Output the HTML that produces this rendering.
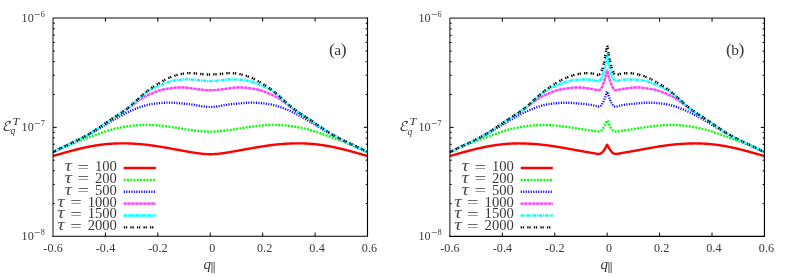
<!DOCTYPE html>
<html><head><meta charset="utf-8"><title>plot</title>
<style>
html,body{margin:0;padding:0;background:#fff}
svg{display:block}
.t{font-family:"Liberation Serif","DejaVu Serif",serif;fill:#383838}
.i{font-family:"Liberation Serif","DejaVu Serif",serif;font-style:italic;fill:#383838}
.j{fill:#505050}
.m{font-family:"DejaVu Math TeX Gyre","DejaVu Serif","Liberation Serif",serif;fill:#383838}
</style></head><body>
<svg width="789" height="277" viewBox="0 0 789 277">
<rect width="789" height="277" fill="#fff"/>
<clipPath id="cp0"><rect x="53.00" y="18.00" width="314.50" height="218.25"/></clipPath>
<g fill="none" stroke-width="2.4" clip-path="url(#cp0)">
<path d="M53.00 156.00 L53.52 155.85 L54.05 155.70 L54.57 155.55 L55.10 155.39 L55.62 155.24 L56.15 155.09 L56.67 154.94 L57.19 154.79 L57.72 154.64 L58.24 154.49 L58.77 154.34 L59.29 154.19 L59.81 154.04 L60.34 153.89 L60.86 153.74 L61.39 153.59 L61.91 153.44 L62.44 153.29 L62.96 153.14 L63.48 153.00 L64.01 152.85 L64.53 152.70 L65.06 152.56 L65.58 152.41 L66.10 152.26 L66.63 152.12 L67.15 151.97 L67.68 151.83 L68.20 151.69 L68.72 151.54 L69.25 151.40 L69.77 151.26 L70.30 151.12 L70.82 150.98 L71.35 150.84 L71.87 150.70 L72.39 150.56 L72.92 150.43 L73.44 150.29 L73.97 150.15 L74.49 150.02 L75.01 149.89 L75.54 149.75 L76.06 149.62 L76.59 149.49 L77.11 149.36 L77.64 149.23 L78.16 149.10 L78.68 148.97 L79.21 148.85 L79.73 148.72 L80.26 148.60 L80.78 148.47 L81.31 148.35 L81.83 148.23 L82.35 148.11 L82.88 147.99 L83.40 147.87 L83.93 147.76 L84.45 147.64 L84.97 147.53 L85.50 147.41 L86.02 147.30 L86.55 147.19 L87.07 147.08 L87.59 146.98 L88.12 146.87 L88.64 146.76 L89.17 146.66 L89.69 146.56 L90.22 146.46 L90.74 146.36 L91.26 146.26 L91.79 146.17 L92.31 146.07 L92.84 145.98 L93.36 145.89 L93.89 145.80 L94.41 145.71 L94.93 145.62 L95.46 145.53 L95.98 145.45 L96.51 145.37 L97.03 145.29 L97.55 145.21 L98.08 145.13 L98.60 145.05 L99.13 144.98 L99.65 144.91 L100.17 144.83 L100.70 144.76 L101.22 144.70 L101.75 144.63 L102.27 144.56 L102.80 144.50 L103.32 144.44 L103.84 144.38 L104.37 144.32 L104.89 144.26 L105.42 144.21 L105.94 144.16 L106.47 144.10 L106.99 144.05 L107.51 144.01 L108.04 143.96 L108.56 143.91 L109.09 143.87 L109.61 143.83 L110.13 143.79 L110.66 143.75 L111.18 143.72 L111.71 143.68 L112.23 143.65 L112.75 143.62 L113.28 143.59 L113.80 143.56 L114.33 143.54 L114.85 143.51 L115.38 143.49 L115.90 143.47 L116.42 143.45 L116.95 143.43 L117.47 143.42 L118.00 143.40 L118.52 143.39 L119.05 143.38 L119.57 143.37 L120.09 143.36 L120.62 143.36 L121.14 143.35 L121.67 143.35 L122.19 143.35 L122.71 143.35 L123.24 143.35 L123.76 143.36 L124.29 143.36 L124.81 143.37 L125.34 143.38 L125.86 143.39 L126.38 143.40 L126.91 143.41 L127.43 143.42 L127.96 143.44 L128.48 143.45 L129.00 143.47 L129.53 143.49 L130.05 143.51 L130.58 143.53 L131.10 143.56 L131.62 143.58 L132.15 143.61 L132.67 143.63 L133.20 143.66 L133.72 143.69 L134.25 143.72 L134.77 143.75 L135.29 143.79 L135.82 143.82 L136.34 143.86 L136.87 143.89 L137.39 143.93 L137.92 143.97 L138.44 144.01 L138.96 144.05 L139.49 144.09 L140.01 144.14 L140.54 144.18 L141.06 144.23 L141.58 144.28 L142.11 144.32 L142.63 144.37 L143.16 144.42 L143.68 144.48 L144.21 144.53 L144.73 144.58 L145.25 144.64 L145.78 144.70 L146.30 144.76 L146.83 144.81 L147.35 144.88 L147.87 144.94 L148.40 145.00 L148.92 145.06 L149.45 145.13 L149.97 145.20 L150.50 145.26 L151.02 145.33 L151.54 145.40 L152.07 145.47 L152.59 145.55 L153.12 145.62 L153.64 145.69 L154.16 145.77 L154.69 145.85 L155.21 145.92 L155.74 146.00 L156.26 146.08 L156.79 146.16 L157.31 146.24 L157.83 146.32 L158.36 146.41 L158.88 146.49 L159.41 146.57 L159.93 146.66 L160.45 146.74 L160.98 146.83 L161.50 146.92 L162.03 147.01 L162.55 147.09 L163.07 147.18 L163.60 147.27 L164.12 147.36 L164.65 147.45 L165.17 147.54 L165.70 147.64 L166.22 147.73 L166.74 147.82 L167.27 147.91 L167.79 148.00 L168.32 148.10 L168.84 148.19 L169.37 148.29 L169.89 148.38 L170.41 148.47 L170.94 148.57 L171.46 148.66 L171.99 148.76 L172.51 148.85 L173.03 148.95 L173.56 149.05 L174.08 149.14 L174.61 149.24 L175.13 149.33 L175.66 149.43 L176.18 149.52 L176.70 149.62 L177.23 149.72 L177.75 149.81 L178.28 149.91 L178.80 150.00 L179.32 150.10 L179.85 150.19 L180.37 150.29 L180.90 150.38 L181.42 150.48 L181.95 150.57 L182.47 150.67 L182.99 150.76 L183.52 150.86 L184.04 150.95 L184.57 151.05 L185.09 151.14 L185.61 151.23 L186.14 151.33 L186.66 151.42 L187.19 151.51 L187.71 151.60 L188.24 151.69 L188.76 151.79 L189.28 151.88 L189.81 151.97 L190.33 152.06 L190.86 152.15 L191.38 152.23 L191.90 152.32 L192.43 152.41 L192.95 152.50 L193.48 152.58 L194.00 152.67 L194.53 152.75 L195.05 152.83 L195.57 152.91 L196.10 152.99 L196.62 153.07 L197.15 153.14 L197.67 153.22 L198.19 153.29 L198.72 153.36 L199.24 153.42 L199.77 153.49 L200.29 153.55 L200.82 153.61 L201.34 153.67 L201.86 153.73 L202.39 153.78 L202.91 153.83 L203.44 153.88 L203.96 153.93 L204.48 153.97 L205.01 154.01 L205.53 154.04 L206.06 154.07 L206.58 154.10 L207.10 154.13 L207.63 154.15 L208.15 154.17 L208.68 154.18 L209.20 154.19 L209.73 154.20 L210.25 154.20 L210.77 154.20 L211.30 154.19 L211.82 154.18 L212.35 154.17 L212.87 154.15 L213.40 154.13 L213.92 154.10 L214.44 154.07 L214.97 154.04 L215.49 154.01 L216.02 153.97 L216.54 153.93 L217.06 153.88 L217.59 153.83 L218.11 153.78 L218.64 153.73 L219.16 153.67 L219.69 153.61 L220.21 153.55 L220.73 153.49 L221.26 153.42 L221.78 153.36 L222.31 153.29 L222.83 153.22 L223.35 153.14 L223.88 153.07 L224.40 152.99 L224.93 152.91 L225.45 152.83 L225.98 152.75 L226.50 152.67 L227.02 152.58 L227.55 152.50 L228.07 152.41 L228.60 152.32 L229.12 152.23 L229.64 152.15 L230.17 152.06 L230.69 151.97 L231.22 151.88 L231.74 151.79 L232.27 151.69 L232.79 151.60 L233.31 151.51 L233.84 151.42 L234.36 151.33 L234.89 151.23 L235.41 151.14 L235.93 151.05 L236.46 150.95 L236.98 150.86 L237.51 150.76 L238.03 150.67 L238.55 150.57 L239.08 150.48 L239.60 150.38 L240.13 150.29 L240.65 150.19 L241.18 150.10 L241.70 150.00 L242.22 149.91 L242.75 149.81 L243.27 149.72 L243.80 149.62 L244.32 149.52 L244.84 149.43 L245.37 149.33 L245.89 149.24 L246.42 149.14 L246.94 149.05 L247.47 148.95 L247.99 148.85 L248.51 148.76 L249.04 148.66 L249.56 148.57 L250.09 148.47 L250.61 148.38 L251.13 148.29 L251.66 148.19 L252.18 148.10 L252.71 148.00 L253.23 147.91 L253.76 147.82 L254.28 147.73 L254.80 147.64 L255.33 147.54 L255.85 147.45 L256.38 147.36 L256.90 147.27 L257.43 147.18 L257.95 147.09 L258.47 147.01 L259.00 146.92 L259.52 146.83 L260.05 146.74 L260.57 146.66 L261.09 146.57 L261.62 146.49 L262.14 146.41 L262.67 146.32 L263.19 146.24 L263.72 146.16 L264.24 146.08 L264.76 146.00 L265.29 145.92 L265.81 145.85 L266.34 145.77 L266.86 145.69 L267.38 145.62 L267.91 145.55 L268.43 145.47 L268.96 145.40 L269.48 145.33 L270.00 145.26 L270.53 145.20 L271.05 145.13 L271.58 145.06 L272.10 145.00 L272.63 144.94 L273.15 144.88 L273.67 144.81 L274.20 144.76 L274.72 144.70 L275.25 144.64 L275.77 144.58 L276.29 144.53 L276.82 144.48 L277.34 144.42 L277.87 144.37 L278.39 144.32 L278.92 144.28 L279.44 144.23 L279.96 144.18 L280.49 144.14 L281.01 144.09 L281.54 144.05 L282.06 144.01 L282.59 143.97 L283.11 143.93 L283.63 143.89 L284.16 143.86 L284.68 143.82 L285.21 143.79 L285.73 143.75 L286.25 143.72 L286.78 143.69 L287.30 143.66 L287.83 143.63 L288.35 143.61 L288.88 143.58 L289.40 143.56 L289.92 143.53 L290.45 143.51 L290.97 143.49 L291.50 143.47 L292.02 143.45 L292.54 143.44 L293.07 143.42 L293.59 143.41 L294.12 143.40 L294.64 143.39 L295.16 143.38 L295.69 143.37 L296.21 143.36 L296.74 143.36 L297.26 143.35 L297.79 143.35 L298.31 143.35 L298.83 143.35 L299.36 143.35 L299.88 143.36 L300.41 143.36 L300.93 143.37 L301.46 143.38 L301.98 143.39 L302.50 143.40 L303.03 143.42 L303.55 143.43 L304.08 143.45 L304.60 143.47 L305.12 143.49 L305.65 143.51 L306.17 143.54 L306.70 143.56 L307.22 143.59 L307.75 143.62 L308.27 143.65 L308.79 143.68 L309.32 143.72 L309.84 143.75 L310.37 143.79 L310.89 143.83 L311.41 143.87 L311.94 143.91 L312.46 143.96 L312.99 144.01 L313.51 144.05 L314.04 144.10 L314.56 144.16 L315.08 144.21 L315.61 144.26 L316.13 144.32 L316.66 144.38 L317.18 144.44 L317.70 144.50 L318.23 144.56 L318.75 144.63 L319.28 144.70 L319.80 144.76 L320.33 144.83 L320.85 144.91 L321.37 144.98 L321.90 145.05 L322.42 145.13 L322.95 145.21 L323.47 145.29 L323.99 145.37 L324.52 145.45 L325.04 145.53 L325.57 145.62 L326.09 145.71 L326.62 145.80 L327.14 145.89 L327.66 145.98 L328.19 146.07 L328.71 146.17 L329.24 146.26 L329.76 146.36 L330.28 146.46 L330.81 146.56 L331.33 146.66 L331.86 146.76 L332.38 146.87 L332.91 146.98 L333.43 147.08 L333.95 147.19 L334.48 147.30 L335.00 147.41 L335.53 147.53 L336.05 147.64 L336.57 147.76 L337.10 147.87 L337.62 147.99 L338.15 148.11 L338.67 148.23 L339.20 148.35 L339.72 148.47 L340.24 148.60 L340.77 148.72 L341.29 148.85 L341.82 148.97 L342.34 149.10 L342.86 149.23 L343.39 149.36 L343.91 149.49 L344.44 149.62 L344.96 149.75 L345.49 149.89 L346.01 150.02 L346.53 150.15 L347.06 150.29 L347.58 150.43 L348.11 150.56 L348.63 150.70 L349.15 150.84 L349.68 150.98 L350.20 151.12 L350.73 151.26 L351.25 151.40 L351.78 151.54 L352.30 151.69 L352.82 151.83 L353.35 151.97 L353.87 152.12 L354.40 152.26 L354.92 152.41 L355.44 152.56 L355.97 152.70 L356.49 152.85 L357.02 153.00 L357.54 153.14 L358.06 153.29 L358.59 153.44 L359.11 153.59 L359.64 153.74 L360.16 153.89 L360.69 154.04 L361.21 154.19 L361.73 154.34 L362.26 154.49 L362.78 154.64 L363.31 154.79 L363.83 154.94 L364.36 155.09 L364.88 155.24 L365.40 155.39 L365.93 155.55 L366.45 155.70 L366.98 155.85 L367.50 156.00" stroke="#ff0000"/>
<path d="M53.00 152.40 L53.52 152.13 L54.05 151.87 L54.57 151.60 L55.10 151.34 L55.62 151.08 L56.15 150.82 L56.67 150.57 L57.19 150.31 L57.72 150.06 L58.24 149.81 L58.77 149.56 L59.29 149.31 L59.81 149.07 L60.34 148.82 L60.86 148.58 L61.39 148.34 L61.91 148.10 L62.44 147.86 L62.96 147.63 L63.48 147.39 L64.01 147.16 L64.53 146.93 L65.06 146.70 L65.58 146.47 L66.10 146.25 L66.63 146.02 L67.15 145.80 L67.68 145.57 L68.20 145.35 L68.72 145.13 L69.25 144.91 L69.77 144.69 L70.30 144.48 L70.82 144.26 L71.35 144.05 L71.87 143.83 L72.39 143.62 L72.92 143.41 L73.44 143.20 L73.97 142.99 L74.49 142.78 L75.01 142.57 L75.54 142.37 L76.06 142.16 L76.59 141.96 L77.11 141.75 L77.64 141.55 L78.16 141.35 L78.68 141.14 L79.21 140.94 L79.73 140.74 L80.26 140.54 L80.78 140.34 L81.31 140.14 L81.83 139.94 L82.35 139.75 L82.88 139.55 L83.40 139.35 L83.93 139.16 L84.45 138.96 L84.97 138.76 L85.50 138.57 L86.02 138.37 L86.55 138.18 L87.07 137.98 L87.59 137.79 L88.12 137.60 L88.64 137.40 L89.17 137.21 L89.69 137.01 L90.22 136.82 L90.74 136.63 L91.26 136.43 L91.79 136.24 L92.31 136.05 L92.84 135.85 L93.36 135.66 L93.89 135.47 L94.41 135.28 L94.93 135.09 L95.46 134.90 L95.98 134.71 L96.51 134.52 L97.03 134.33 L97.55 134.15 L98.08 133.96 L98.60 133.78 L99.13 133.59 L99.65 133.41 L100.17 133.23 L100.70 133.05 L101.22 132.87 L101.75 132.69 L102.27 132.51 L102.80 132.34 L103.32 132.16 L103.84 131.99 L104.37 131.82 L104.89 131.65 L105.42 131.48 L105.94 131.32 L106.47 131.15 L106.99 130.99 L107.51 130.83 L108.04 130.67 L108.56 130.52 L109.09 130.36 L109.61 130.21 L110.13 130.06 L110.66 129.91 L111.18 129.77 L111.71 129.63 L112.23 129.49 L112.75 129.35 L113.28 129.21 L113.80 129.08 L114.33 128.95 L114.85 128.82 L115.38 128.69 L115.90 128.57 L116.42 128.44 L116.95 128.32 L117.47 128.21 L118.00 128.09 L118.52 127.98 L119.05 127.86 L119.57 127.75 L120.09 127.65 L120.62 127.54 L121.14 127.44 L121.67 127.34 L122.19 127.24 L122.71 127.14 L123.24 127.04 L123.76 126.95 L124.29 126.86 L124.81 126.77 L125.34 126.68 L125.86 126.60 L126.38 126.52 L126.91 126.44 L127.43 126.36 L127.96 126.28 L128.48 126.21 L129.00 126.13 L129.53 126.06 L130.05 125.99 L130.58 125.93 L131.10 125.86 L131.62 125.80 L132.15 125.74 L132.67 125.68 L133.20 125.62 L133.72 125.57 L134.25 125.51 L134.77 125.46 L135.29 125.41 L135.82 125.37 L136.34 125.32 L136.87 125.28 L137.39 125.24 L137.92 125.20 L138.44 125.17 L138.96 125.13 L139.49 125.10 L140.01 125.07 L140.54 125.05 L141.06 125.02 L141.58 125.00 L142.11 124.98 L142.63 124.96 L143.16 124.94 L143.68 124.93 L144.21 124.92 L144.73 124.91 L145.25 124.90 L145.78 124.90 L146.30 124.90 L146.83 124.90 L147.35 124.90 L147.87 124.91 L148.40 124.92 L148.92 124.93 L149.45 124.94 L149.97 124.95 L150.50 124.97 L151.02 124.99 L151.54 125.01 L152.07 125.03 L152.59 125.06 L153.12 125.08 L153.64 125.11 L154.16 125.14 L154.69 125.17 L155.21 125.21 L155.74 125.24 L156.26 125.28 L156.79 125.32 L157.31 125.36 L157.83 125.41 L158.36 125.45 L158.88 125.50 L159.41 125.54 L159.93 125.59 L160.45 125.64 L160.98 125.70 L161.50 125.75 L162.03 125.80 L162.55 125.86 L163.07 125.92 L163.60 125.98 L164.12 126.04 L164.65 126.10 L165.17 126.16 L165.70 126.23 L166.22 126.29 L166.74 126.36 L167.27 126.43 L167.79 126.50 L168.32 126.57 L168.84 126.64 L169.37 126.71 L169.89 126.78 L170.41 126.86 L170.94 126.93 L171.46 127.01 L171.99 127.09 L172.51 127.17 L173.03 127.25 L173.56 127.33 L174.08 127.41 L174.61 127.49 L175.13 127.57 L175.66 127.65 L176.18 127.73 L176.70 127.82 L177.23 127.90 L177.75 127.98 L178.28 128.07 L178.80 128.15 L179.32 128.24 L179.85 128.32 L180.37 128.40 L180.90 128.49 L181.42 128.57 L181.95 128.66 L182.47 128.74 L182.99 128.83 L183.52 128.91 L184.04 128.99 L184.57 129.08 L185.09 129.16 L185.61 129.24 L186.14 129.32 L186.66 129.40 L187.19 129.48 L187.71 129.56 L188.24 129.64 L188.76 129.72 L189.28 129.80 L189.81 129.87 L190.33 129.95 L190.86 130.02 L191.38 130.10 L191.90 130.17 L192.43 130.24 L192.95 130.31 L193.48 130.38 L194.00 130.44 L194.53 130.51 L195.05 130.57 L195.57 130.64 L196.10 130.70 L196.62 130.76 L197.15 130.82 L197.67 130.87 L198.19 130.93 L198.72 130.98 L199.24 131.03 L199.77 131.08 L200.29 131.13 L200.82 131.17 L201.34 131.22 L201.86 131.26 L202.39 131.30 L202.91 131.34 L203.44 131.37 L203.96 131.40 L204.48 131.43 L205.01 131.46 L205.53 131.49 L206.06 131.51 L206.58 131.53 L207.10 131.55 L207.63 131.56 L208.15 131.58 L208.68 131.59 L209.20 131.59 L209.73 131.60 L210.25 131.60 L210.77 131.60 L211.30 131.59 L211.82 131.59 L212.35 131.58 L212.87 131.56 L213.40 131.55 L213.92 131.53 L214.44 131.51 L214.97 131.49 L215.49 131.46 L216.02 131.43 L216.54 131.40 L217.06 131.37 L217.59 131.34 L218.11 131.30 L218.64 131.26 L219.16 131.22 L219.69 131.17 L220.21 131.13 L220.73 131.08 L221.26 131.03 L221.78 130.98 L222.31 130.93 L222.83 130.87 L223.35 130.82 L223.88 130.76 L224.40 130.70 L224.93 130.64 L225.45 130.57 L225.98 130.51 L226.50 130.44 L227.02 130.38 L227.55 130.31 L228.07 130.24 L228.60 130.17 L229.12 130.10 L229.64 130.02 L230.17 129.95 L230.69 129.87 L231.22 129.80 L231.74 129.72 L232.27 129.64 L232.79 129.56 L233.31 129.48 L233.84 129.40 L234.36 129.32 L234.89 129.24 L235.41 129.16 L235.93 129.08 L236.46 128.99 L236.98 128.91 L237.51 128.83 L238.03 128.74 L238.55 128.66 L239.08 128.57 L239.60 128.49 L240.13 128.40 L240.65 128.32 L241.18 128.24 L241.70 128.15 L242.22 128.07 L242.75 127.98 L243.27 127.90 L243.80 127.82 L244.32 127.73 L244.84 127.65 L245.37 127.57 L245.89 127.49 L246.42 127.41 L246.94 127.33 L247.47 127.25 L247.99 127.17 L248.51 127.09 L249.04 127.01 L249.56 126.93 L250.09 126.86 L250.61 126.78 L251.13 126.71 L251.66 126.64 L252.18 126.57 L252.71 126.50 L253.23 126.43 L253.76 126.36 L254.28 126.29 L254.80 126.23 L255.33 126.16 L255.85 126.10 L256.38 126.04 L256.90 125.98 L257.43 125.92 L257.95 125.86 L258.47 125.80 L259.00 125.75 L259.52 125.70 L260.05 125.64 L260.57 125.59 L261.09 125.54 L261.62 125.50 L262.14 125.45 L262.67 125.41 L263.19 125.36 L263.72 125.32 L264.24 125.28 L264.76 125.24 L265.29 125.21 L265.81 125.17 L266.34 125.14 L266.86 125.11 L267.38 125.08 L267.91 125.06 L268.43 125.03 L268.96 125.01 L269.48 124.99 L270.00 124.97 L270.53 124.95 L271.05 124.94 L271.58 124.93 L272.10 124.92 L272.63 124.91 L273.15 124.90 L273.67 124.90 L274.20 124.90 L274.72 124.90 L275.25 124.90 L275.77 124.91 L276.29 124.92 L276.82 124.93 L277.34 124.94 L277.87 124.96 L278.39 124.98 L278.92 125.00 L279.44 125.02 L279.96 125.05 L280.49 125.07 L281.01 125.10 L281.54 125.13 L282.06 125.17 L282.59 125.20 L283.11 125.24 L283.63 125.28 L284.16 125.32 L284.68 125.37 L285.21 125.41 L285.73 125.46 L286.25 125.51 L286.78 125.57 L287.30 125.62 L287.83 125.68 L288.35 125.74 L288.88 125.80 L289.40 125.86 L289.92 125.93 L290.45 125.99 L290.97 126.06 L291.50 126.13 L292.02 126.21 L292.54 126.28 L293.07 126.36 L293.59 126.44 L294.12 126.52 L294.64 126.60 L295.16 126.68 L295.69 126.77 L296.21 126.86 L296.74 126.95 L297.26 127.04 L297.79 127.14 L298.31 127.24 L298.83 127.34 L299.36 127.44 L299.88 127.54 L300.41 127.65 L300.93 127.75 L301.46 127.86 L301.98 127.98 L302.50 128.09 L303.03 128.21 L303.55 128.32 L304.08 128.44 L304.60 128.57 L305.12 128.69 L305.65 128.82 L306.17 128.95 L306.70 129.08 L307.22 129.21 L307.75 129.35 L308.27 129.49 L308.79 129.63 L309.32 129.77 L309.84 129.91 L310.37 130.06 L310.89 130.21 L311.41 130.36 L311.94 130.52 L312.46 130.67 L312.99 130.83 L313.51 130.99 L314.04 131.15 L314.56 131.32 L315.08 131.48 L315.61 131.65 L316.13 131.82 L316.66 131.99 L317.18 132.16 L317.70 132.34 L318.23 132.51 L318.75 132.69 L319.28 132.87 L319.80 133.05 L320.33 133.23 L320.85 133.41 L321.37 133.59 L321.90 133.78 L322.42 133.96 L322.95 134.15 L323.47 134.33 L323.99 134.52 L324.52 134.71 L325.04 134.90 L325.57 135.09 L326.09 135.28 L326.62 135.47 L327.14 135.66 L327.66 135.85 L328.19 136.05 L328.71 136.24 L329.24 136.43 L329.76 136.63 L330.28 136.82 L330.81 137.01 L331.33 137.21 L331.86 137.40 L332.38 137.60 L332.91 137.79 L333.43 137.98 L333.95 138.18 L334.48 138.37 L335.00 138.57 L335.53 138.76 L336.05 138.96 L336.57 139.16 L337.10 139.35 L337.62 139.55 L338.15 139.75 L338.67 139.94 L339.20 140.14 L339.72 140.34 L340.24 140.54 L340.77 140.74 L341.29 140.94 L341.82 141.14 L342.34 141.35 L342.86 141.55 L343.39 141.75 L343.91 141.96 L344.44 142.16 L344.96 142.37 L345.49 142.57 L346.01 142.78 L346.53 142.99 L347.06 143.20 L347.58 143.41 L348.11 143.62 L348.63 143.83 L349.15 144.05 L349.68 144.26 L350.20 144.48 L350.73 144.69 L351.25 144.91 L351.78 145.13 L352.30 145.35 L352.82 145.57 L353.35 145.80 L353.87 146.02 L354.40 146.25 L354.92 146.47 L355.44 146.70 L355.97 146.93 L356.49 147.16 L357.02 147.39 L357.54 147.63 L358.06 147.86 L358.59 148.10 L359.11 148.34 L359.64 148.58 L360.16 148.82 L360.69 149.07 L361.21 149.31 L361.73 149.56 L362.26 149.81 L362.78 150.06 L363.31 150.31 L363.83 150.57 L364.36 150.82 L364.88 151.08 L365.40 151.34 L365.93 151.60 L366.45 151.87 L366.98 152.13 L367.50 152.40" stroke="#00ff00" stroke-dasharray="1.9 1.35"/>
<path d="M53.00 152.20 L53.52 151.93 L54.05 151.66 L54.57 151.39 L55.10 151.12 L55.62 150.85 L56.15 150.58 L56.67 150.32 L57.19 150.06 L57.72 149.80 L58.24 149.54 L58.77 149.28 L59.29 149.02 L59.81 148.76 L60.34 148.51 L60.86 148.25 L61.39 148.00 L61.91 147.74 L62.44 147.49 L62.96 147.24 L63.48 146.99 L64.01 146.74 L64.53 146.49 L65.06 146.24 L65.58 145.99 L66.10 145.74 L66.63 145.49 L67.15 145.24 L67.68 145.00 L68.20 144.75 L68.72 144.50 L69.25 144.25 L69.77 144.01 L70.30 143.76 L70.82 143.51 L71.35 143.26 L71.87 143.02 L72.39 142.77 L72.92 142.52 L73.44 142.27 L73.97 142.02 L74.49 141.77 L75.01 141.52 L75.54 141.27 L76.06 141.02 L76.59 140.77 L77.11 140.51 L77.64 140.26 L78.16 140.01 L78.68 139.75 L79.21 139.49 L79.73 139.24 L80.26 138.98 L80.78 138.72 L81.31 138.46 L81.83 138.19 L82.35 137.93 L82.88 137.67 L83.40 137.40 L83.93 137.13 L84.45 136.86 L84.97 136.59 L85.50 136.32 L86.02 136.04 L86.55 135.77 L87.07 135.49 L87.59 135.21 L88.12 134.93 L88.64 134.64 L89.17 134.36 L89.69 134.07 L90.22 133.78 L90.74 133.49 L91.26 133.19 L91.79 132.90 L92.31 132.60 L92.84 132.30 L93.36 132.00 L93.89 131.69 L94.41 131.39 L94.93 131.08 L95.46 130.78 L95.98 130.47 L96.51 130.16 L97.03 129.84 L97.55 129.53 L98.08 129.22 L98.60 128.90 L99.13 128.59 L99.65 128.27 L100.17 127.96 L100.70 127.64 L101.22 127.32 L101.75 127.00 L102.27 126.68 L102.80 126.37 L103.32 126.05 L103.84 125.73 L104.37 125.41 L104.89 125.09 L105.42 124.77 L105.94 124.45 L106.47 124.13 L106.99 123.81 L107.51 123.50 L108.04 123.18 L108.56 122.86 L109.09 122.55 L109.61 122.23 L110.13 121.92 L110.66 121.61 L111.18 121.29 L111.71 120.98 L112.23 120.67 L112.75 120.37 L113.28 120.06 L113.80 119.75 L114.33 119.45 L114.85 119.14 L115.38 118.84 L115.90 118.54 L116.42 118.24 L116.95 117.95 L117.47 117.65 L118.00 117.36 L118.52 117.06 L119.05 116.77 L119.57 116.48 L120.09 116.20 L120.62 115.91 L121.14 115.63 L121.67 115.35 L122.19 115.07 L122.71 114.79 L123.24 114.52 L123.76 114.25 L124.29 113.98 L124.81 113.71 L125.34 113.44 L125.86 113.18 L126.38 112.92 L126.91 112.66 L127.43 112.41 L127.96 112.16 L128.48 111.91 L129.00 111.66 L129.53 111.42 L130.05 111.18 L130.58 110.94 L131.10 110.70 L131.62 110.47 L132.15 110.24 L132.67 110.02 L133.20 109.79 L133.72 109.57 L134.25 109.35 L134.77 109.14 L135.29 108.93 L135.82 108.72 L136.34 108.52 L136.87 108.32 L137.39 108.12 L137.92 107.92 L138.44 107.73 L138.96 107.54 L139.49 107.36 L140.01 107.17 L140.54 107.00 L141.06 106.82 L141.58 106.65 L142.11 106.48 L142.63 106.31 L143.16 106.15 L143.68 105.99 L144.21 105.84 L144.73 105.69 L145.25 105.54 L145.78 105.40 L146.30 105.26 L146.83 105.12 L147.35 104.99 L147.87 104.86 L148.40 104.74 L148.92 104.63 L149.45 104.51 L149.97 104.41 L150.50 104.30 L151.02 104.21 L151.54 104.11 L152.07 104.02 L152.59 103.94 L153.12 103.86 L153.64 103.78 L154.16 103.71 L154.69 103.64 L155.21 103.58 L155.74 103.51 L156.26 103.45 L156.79 103.40 L157.31 103.34 L157.83 103.29 L158.36 103.24 L158.88 103.19 L159.41 103.14 L159.93 103.09 L160.45 103.05 L160.98 103.00 L161.50 102.96 L162.03 102.92 L162.55 102.87 L163.07 102.83 L163.60 102.80 L164.12 102.76 L164.65 102.73 L165.17 102.70 L165.70 102.67 L166.22 102.65 L166.74 102.63 L167.27 102.61 L167.79 102.60 L168.32 102.60 L168.84 102.60 L169.37 102.60 L169.89 102.61 L170.41 102.62 L170.94 102.64 L171.46 102.66 L171.99 102.68 L172.51 102.71 L173.03 102.74 L173.56 102.77 L174.08 102.80 L174.61 102.84 L175.13 102.88 L175.66 102.92 L176.18 102.96 L176.70 103.00 L177.23 103.05 L177.75 103.09 L178.28 103.14 L178.80 103.18 L179.32 103.23 L179.85 103.27 L180.37 103.32 L180.90 103.36 L181.42 103.41 L181.95 103.45 L182.47 103.50 L182.99 103.55 L183.52 103.59 L184.04 103.64 L184.57 103.69 L185.09 103.74 L185.61 103.79 L186.14 103.84 L186.66 103.90 L187.19 103.95 L187.71 104.01 L188.24 104.06 L188.76 104.12 L189.28 104.18 L189.81 104.25 L190.33 104.31 L190.86 104.38 L191.38 104.45 L191.90 104.52 L192.43 104.60 L192.95 104.67 L193.48 104.75 L194.00 104.83 L194.53 104.92 L195.05 105.01 L195.57 105.10 L196.10 105.19 L196.62 105.29 L197.15 105.39 L197.67 105.48 L198.19 105.58 L198.72 105.68 L199.24 105.78 L199.77 105.87 L200.29 105.97 L200.82 106.06 L201.34 106.15 L201.86 106.23 L202.39 106.31 L202.91 106.39 L203.44 106.46 L203.96 106.52 L204.48 106.58 L205.01 106.64 L205.53 106.69 L206.06 106.73 L206.58 106.77 L207.10 106.81 L207.63 106.83 L208.15 106.86 L208.68 106.88 L209.20 106.89 L209.73 106.90 L210.25 106.90 L210.77 106.90 L211.30 106.89 L211.82 106.88 L212.35 106.86 L212.87 106.83 L213.40 106.81 L213.92 106.77 L214.44 106.73 L214.97 106.69 L215.49 106.64 L216.02 106.58 L216.54 106.52 L217.06 106.46 L217.59 106.39 L218.11 106.31 L218.64 106.23 L219.16 106.15 L219.69 106.06 L220.21 105.97 L220.73 105.87 L221.26 105.78 L221.78 105.68 L222.31 105.58 L222.83 105.48 L223.35 105.39 L223.88 105.29 L224.40 105.19 L224.93 105.10 L225.45 105.01 L225.98 104.92 L226.50 104.83 L227.02 104.75 L227.55 104.67 L228.07 104.60 L228.60 104.52 L229.12 104.45 L229.64 104.38 L230.17 104.31 L230.69 104.25 L231.22 104.18 L231.74 104.12 L232.27 104.06 L232.79 104.01 L233.31 103.95 L233.84 103.90 L234.36 103.84 L234.89 103.79 L235.41 103.74 L235.93 103.69 L236.46 103.64 L236.98 103.59 L237.51 103.55 L238.03 103.50 L238.55 103.45 L239.08 103.41 L239.60 103.36 L240.13 103.32 L240.65 103.27 L241.18 103.23 L241.70 103.18 L242.22 103.14 L242.75 103.09 L243.27 103.05 L243.80 103.00 L244.32 102.96 L244.84 102.92 L245.37 102.88 L245.89 102.84 L246.42 102.80 L246.94 102.77 L247.47 102.74 L247.99 102.71 L248.51 102.68 L249.04 102.66 L249.56 102.64 L250.09 102.62 L250.61 102.61 L251.13 102.60 L251.66 102.60 L252.18 102.60 L252.71 102.60 L253.23 102.61 L253.76 102.63 L254.28 102.65 L254.80 102.67 L255.33 102.70 L255.85 102.73 L256.38 102.76 L256.90 102.80 L257.43 102.83 L257.95 102.87 L258.47 102.92 L259.00 102.96 L259.52 103.00 L260.05 103.05 L260.57 103.09 L261.09 103.14 L261.62 103.19 L262.14 103.24 L262.67 103.29 L263.19 103.34 L263.72 103.40 L264.24 103.45 L264.76 103.51 L265.29 103.58 L265.81 103.64 L266.34 103.71 L266.86 103.78 L267.38 103.86 L267.91 103.94 L268.43 104.02 L268.96 104.11 L269.48 104.21 L270.00 104.30 L270.53 104.41 L271.05 104.51 L271.58 104.63 L272.10 104.74 L272.63 104.86 L273.15 104.99 L273.67 105.12 L274.20 105.26 L274.72 105.40 L275.25 105.54 L275.77 105.69 L276.29 105.84 L276.82 105.99 L277.34 106.15 L277.87 106.31 L278.39 106.48 L278.92 106.65 L279.44 106.82 L279.96 107.00 L280.49 107.17 L281.01 107.36 L281.54 107.54 L282.06 107.73 L282.59 107.92 L283.11 108.12 L283.63 108.32 L284.16 108.52 L284.68 108.72 L285.21 108.93 L285.73 109.14 L286.25 109.35 L286.78 109.57 L287.30 109.79 L287.83 110.02 L288.35 110.24 L288.88 110.47 L289.40 110.70 L289.92 110.94 L290.45 111.18 L290.97 111.42 L291.50 111.66 L292.02 111.91 L292.54 112.16 L293.07 112.41 L293.59 112.66 L294.12 112.92 L294.64 113.18 L295.16 113.44 L295.69 113.71 L296.21 113.98 L296.74 114.25 L297.26 114.52 L297.79 114.79 L298.31 115.07 L298.83 115.35 L299.36 115.63 L299.88 115.91 L300.41 116.20 L300.93 116.48 L301.46 116.77 L301.98 117.06 L302.50 117.36 L303.03 117.65 L303.55 117.95 L304.08 118.24 L304.60 118.54 L305.12 118.84 L305.65 119.14 L306.17 119.45 L306.70 119.75 L307.22 120.06 L307.75 120.37 L308.27 120.67 L308.79 120.98 L309.32 121.29 L309.84 121.61 L310.37 121.92 L310.89 122.23 L311.41 122.55 L311.94 122.86 L312.46 123.18 L312.99 123.50 L313.51 123.81 L314.04 124.13 L314.56 124.45 L315.08 124.77 L315.61 125.09 L316.13 125.41 L316.66 125.73 L317.18 126.05 L317.70 126.37 L318.23 126.68 L318.75 127.00 L319.28 127.32 L319.80 127.64 L320.33 127.96 L320.85 128.27 L321.37 128.59 L321.90 128.90 L322.42 129.22 L322.95 129.53 L323.47 129.84 L323.99 130.16 L324.52 130.47 L325.04 130.78 L325.57 131.08 L326.09 131.39 L326.62 131.69 L327.14 132.00 L327.66 132.30 L328.19 132.60 L328.71 132.90 L329.24 133.19 L329.76 133.49 L330.28 133.78 L330.81 134.07 L331.33 134.36 L331.86 134.64 L332.38 134.93 L332.91 135.21 L333.43 135.49 L333.95 135.77 L334.48 136.04 L335.00 136.32 L335.53 136.59 L336.05 136.86 L336.57 137.13 L337.10 137.40 L337.62 137.67 L338.15 137.93 L338.67 138.19 L339.20 138.46 L339.72 138.72 L340.24 138.98 L340.77 139.24 L341.29 139.49 L341.82 139.75 L342.34 140.01 L342.86 140.26 L343.39 140.51 L343.91 140.77 L344.44 141.02 L344.96 141.27 L345.49 141.52 L346.01 141.77 L346.53 142.02 L347.06 142.27 L347.58 142.52 L348.11 142.77 L348.63 143.02 L349.15 143.26 L349.68 143.51 L350.20 143.76 L350.73 144.01 L351.25 144.25 L351.78 144.50 L352.30 144.75 L352.82 145.00 L353.35 145.24 L353.87 145.49 L354.40 145.74 L354.92 145.99 L355.44 146.24 L355.97 146.49 L356.49 146.74 L357.02 146.99 L357.54 147.24 L358.06 147.49 L358.59 147.74 L359.11 148.00 L359.64 148.25 L360.16 148.51 L360.69 148.76 L361.21 149.02 L361.73 149.28 L362.26 149.54 L362.78 149.80 L363.31 150.06 L363.83 150.32 L364.36 150.58 L364.88 150.85 L365.40 151.12 L365.93 151.39 L366.45 151.66 L366.98 151.93 L367.50 152.20" stroke="#0000ff" stroke-dasharray="1.1 1.4"/>
<path d="M53.00 152.20 L53.52 151.91 L54.05 151.63 L54.57 151.35 L55.10 151.07 L55.62 150.80 L56.15 150.53 L56.67 150.25 L57.19 149.98 L57.72 149.72 L58.24 149.45 L58.77 149.19 L59.29 148.93 L59.81 148.67 L60.34 148.41 L60.86 148.15 L61.39 147.89 L61.91 147.64 L62.44 147.38 L62.96 147.13 L63.48 146.88 L64.01 146.63 L64.53 146.38 L65.06 146.13 L65.58 145.88 L66.10 145.63 L66.63 145.39 L67.15 145.14 L67.68 144.89 L68.20 144.65 L68.72 144.40 L69.25 144.15 L69.77 143.91 L70.30 143.66 L70.82 143.41 L71.35 143.17 L71.87 142.92 L72.39 142.67 L72.92 142.42 L73.44 142.17 L73.97 141.92 L74.49 141.67 L75.01 141.42 L75.54 141.17 L76.06 140.92 L76.59 140.66 L77.11 140.41 L77.64 140.15 L78.16 139.89 L78.68 139.63 L79.21 139.37 L79.73 139.11 L80.26 138.84 L80.78 138.58 L81.31 138.31 L81.83 138.04 L82.35 137.76 L82.88 137.49 L83.40 137.21 L83.93 136.93 L84.45 136.65 L84.97 136.37 L85.50 136.08 L86.02 135.79 L86.55 135.50 L87.07 135.20 L87.59 134.91 L88.12 134.61 L88.64 134.30 L89.17 133.99 L89.69 133.68 L90.22 133.37 L90.74 133.05 L91.26 132.73 L91.79 132.41 L92.31 132.08 L92.84 131.75 L93.36 131.42 L93.89 131.09 L94.41 130.75 L94.93 130.41 L95.46 130.07 L95.98 129.73 L96.51 129.38 L97.03 129.04 L97.55 128.69 L98.08 128.34 L98.60 127.99 L99.13 127.64 L99.65 127.28 L100.17 126.93 L100.70 126.57 L101.22 126.22 L101.75 125.86 L102.27 125.51 L102.80 125.15 L103.32 124.79 L103.84 124.44 L104.37 124.08 L104.89 123.72 L105.42 123.37 L105.94 123.01 L106.47 122.66 L106.99 122.31 L107.51 121.95 L108.04 121.60 L108.56 121.25 L109.09 120.90 L109.61 120.56 L110.13 120.21 L110.66 119.87 L111.18 119.53 L111.71 119.19 L112.23 118.85 L112.75 118.51 L113.28 118.17 L113.80 117.84 L114.33 117.50 L114.85 117.17 L115.38 116.83 L115.90 116.50 L116.42 116.16 L116.95 115.83 L117.47 115.49 L118.00 115.16 L118.52 114.82 L119.05 114.48 L119.57 114.15 L120.09 113.81 L120.62 113.47 L121.14 113.13 L121.67 112.78 L122.19 112.44 L122.71 112.09 L123.24 111.74 L123.76 111.39 L124.29 111.04 L124.81 110.69 L125.34 110.33 L125.86 109.97 L126.38 109.60 L126.91 109.24 L127.43 108.87 L127.96 108.49 L128.48 108.12 L129.00 107.73 L129.53 107.35 L130.05 106.96 L130.58 106.57 L131.10 106.17 L131.62 105.77 L132.15 105.37 L132.67 104.97 L133.20 104.56 L133.72 104.16 L134.25 103.75 L134.77 103.35 L135.29 102.95 L135.82 102.55 L136.34 102.15 L136.87 101.76 L137.39 101.37 L137.92 100.98 L138.44 100.60 L138.96 100.23 L139.49 99.86 L140.01 99.50 L140.54 99.14 L141.06 98.80 L141.58 98.46 L142.11 98.13 L142.63 97.82 L143.16 97.51 L143.68 97.21 L144.21 96.93 L144.73 96.65 L145.25 96.38 L145.78 96.12 L146.30 95.87 L146.83 95.62 L147.35 95.38 L147.87 95.14 L148.40 94.91 L148.92 94.67 L149.45 94.44 L149.97 94.21 L150.50 93.98 L151.02 93.75 L151.54 93.52 L152.07 93.30 L152.59 93.07 L153.12 92.85 L153.64 92.63 L154.16 92.41 L154.69 92.19 L155.21 91.98 L155.74 91.77 L156.26 91.57 L156.79 91.37 L157.31 91.18 L157.83 90.99 L158.36 90.81 L158.88 90.63 L159.41 90.46 L159.93 90.30 L160.45 90.15 L160.98 90.01 L161.50 89.87 L162.03 89.74 L162.55 89.62 L163.07 89.50 L163.60 89.40 L164.12 89.30 L164.65 89.20 L165.17 89.11 L165.70 89.02 L166.22 88.94 L166.74 88.86 L167.27 88.78 L167.79 88.70 L168.32 88.63 L168.84 88.56 L169.37 88.49 L169.89 88.42 L170.41 88.34 L170.94 88.27 L171.46 88.20 L171.99 88.13 L172.51 88.06 L173.03 87.99 L173.56 87.92 L174.08 87.86 L174.61 87.80 L175.13 87.74 L175.66 87.68 L176.18 87.63 L176.70 87.58 L177.23 87.54 L177.75 87.50 L178.28 87.47 L178.80 87.44 L179.32 87.42 L179.85 87.40 L180.37 87.40 L180.90 87.39 L181.42 87.40 L181.95 87.41 L182.47 87.43 L182.99 87.45 L183.52 87.48 L184.04 87.52 L184.57 87.56 L185.09 87.60 L185.61 87.65 L186.14 87.70 L186.66 87.75 L187.19 87.81 L187.71 87.88 L188.24 87.94 L188.76 88.01 L189.28 88.08 L189.81 88.15 L190.33 88.22 L190.86 88.30 L191.38 88.37 L191.90 88.45 L192.43 88.53 L192.95 88.60 L193.48 88.68 L194.00 88.76 L194.53 88.83 L195.05 88.91 L195.57 88.98 L196.10 89.05 L196.62 89.12 L197.15 89.19 L197.67 89.26 L198.19 89.33 L198.72 89.39 L199.24 89.46 L199.77 89.52 L200.29 89.58 L200.82 89.64 L201.34 89.69 L201.86 89.74 L202.39 89.79 L202.91 89.84 L203.44 89.89 L203.96 89.93 L204.48 89.97 L205.01 90.01 L205.53 90.04 L206.06 90.08 L206.58 90.10 L207.10 90.13 L207.63 90.15 L208.15 90.17 L208.68 90.18 L209.20 90.19 L209.73 90.20 L210.25 90.20 L210.77 90.20 L211.30 90.19 L211.82 90.18 L212.35 90.17 L212.87 90.15 L213.40 90.13 L213.92 90.10 L214.44 90.08 L214.97 90.04 L215.49 90.01 L216.02 89.97 L216.54 89.93 L217.06 89.89 L217.59 89.84 L218.11 89.79 L218.64 89.74 L219.16 89.69 L219.69 89.64 L220.21 89.58 L220.73 89.52 L221.26 89.46 L221.78 89.39 L222.31 89.33 L222.83 89.26 L223.35 89.19 L223.88 89.12 L224.40 89.05 L224.93 88.98 L225.45 88.91 L225.98 88.83 L226.50 88.76 L227.02 88.68 L227.55 88.60 L228.07 88.53 L228.60 88.45 L229.12 88.37 L229.64 88.30 L230.17 88.22 L230.69 88.15 L231.22 88.08 L231.74 88.01 L232.27 87.94 L232.79 87.88 L233.31 87.81 L233.84 87.75 L234.36 87.70 L234.89 87.65 L235.41 87.60 L235.93 87.56 L236.46 87.52 L236.98 87.48 L237.51 87.45 L238.03 87.43 L238.55 87.41 L239.08 87.40 L239.60 87.39 L240.13 87.40 L240.65 87.40 L241.18 87.42 L241.70 87.44 L242.22 87.47 L242.75 87.50 L243.27 87.54 L243.80 87.58 L244.32 87.63 L244.84 87.68 L245.37 87.74 L245.89 87.80 L246.42 87.86 L246.94 87.92 L247.47 87.99 L247.99 88.06 L248.51 88.13 L249.04 88.20 L249.56 88.27 L250.09 88.34 L250.61 88.42 L251.13 88.49 L251.66 88.56 L252.18 88.63 L252.71 88.70 L253.23 88.78 L253.76 88.86 L254.28 88.94 L254.80 89.02 L255.33 89.11 L255.85 89.20 L256.38 89.30 L256.90 89.40 L257.43 89.50 L257.95 89.62 L258.47 89.74 L259.00 89.87 L259.52 90.01 L260.05 90.15 L260.57 90.30 L261.09 90.46 L261.62 90.63 L262.14 90.81 L262.67 90.99 L263.19 91.18 L263.72 91.37 L264.24 91.57 L264.76 91.77 L265.29 91.98 L265.81 92.19 L266.34 92.41 L266.86 92.63 L267.38 92.85 L267.91 93.07 L268.43 93.30 L268.96 93.52 L269.48 93.75 L270.00 93.98 L270.53 94.21 L271.05 94.44 L271.58 94.67 L272.10 94.91 L272.63 95.14 L273.15 95.38 L273.67 95.62 L274.20 95.87 L274.72 96.12 L275.25 96.38 L275.77 96.65 L276.29 96.93 L276.82 97.21 L277.34 97.51 L277.87 97.82 L278.39 98.13 L278.92 98.46 L279.44 98.80 L279.96 99.14 L280.49 99.50 L281.01 99.86 L281.54 100.23 L282.06 100.60 L282.59 100.98 L283.11 101.37 L283.63 101.76 L284.16 102.15 L284.68 102.55 L285.21 102.95 L285.73 103.35 L286.25 103.75 L286.78 104.16 L287.30 104.56 L287.83 104.97 L288.35 105.37 L288.88 105.77 L289.40 106.17 L289.92 106.57 L290.45 106.96 L290.97 107.35 L291.50 107.73 L292.02 108.12 L292.54 108.49 L293.07 108.87 L293.59 109.24 L294.12 109.60 L294.64 109.97 L295.16 110.33 L295.69 110.69 L296.21 111.04 L296.74 111.39 L297.26 111.74 L297.79 112.09 L298.31 112.44 L298.83 112.78 L299.36 113.13 L299.88 113.47 L300.41 113.81 L300.93 114.15 L301.46 114.48 L301.98 114.82 L302.50 115.16 L303.03 115.49 L303.55 115.83 L304.08 116.16 L304.60 116.50 L305.12 116.83 L305.65 117.17 L306.17 117.50 L306.70 117.84 L307.22 118.17 L307.75 118.51 L308.27 118.85 L308.79 119.19 L309.32 119.53 L309.84 119.87 L310.37 120.21 L310.89 120.56 L311.41 120.90 L311.94 121.25 L312.46 121.60 L312.99 121.95 L313.51 122.31 L314.04 122.66 L314.56 123.01 L315.08 123.37 L315.61 123.72 L316.13 124.08 L316.66 124.44 L317.18 124.79 L317.70 125.15 L318.23 125.51 L318.75 125.86 L319.28 126.22 L319.80 126.57 L320.33 126.93 L320.85 127.28 L321.37 127.64 L321.90 127.99 L322.42 128.34 L322.95 128.69 L323.47 129.04 L323.99 129.38 L324.52 129.73 L325.04 130.07 L325.57 130.41 L326.09 130.75 L326.62 131.09 L327.14 131.42 L327.66 131.75 L328.19 132.08 L328.71 132.41 L329.24 132.73 L329.76 133.05 L330.28 133.37 L330.81 133.68 L331.33 133.99 L331.86 134.30 L332.38 134.61 L332.91 134.91 L333.43 135.20 L333.95 135.50 L334.48 135.79 L335.00 136.08 L335.53 136.37 L336.05 136.65 L336.57 136.93 L337.10 137.21 L337.62 137.49 L338.15 137.76 L338.67 138.04 L339.20 138.31 L339.72 138.58 L340.24 138.84 L340.77 139.11 L341.29 139.37 L341.82 139.63 L342.34 139.89 L342.86 140.15 L343.39 140.41 L343.91 140.66 L344.44 140.92 L344.96 141.17 L345.49 141.42 L346.01 141.67 L346.53 141.92 L347.06 142.17 L347.58 142.42 L348.11 142.67 L348.63 142.92 L349.15 143.17 L349.68 143.41 L350.20 143.66 L350.73 143.91 L351.25 144.15 L351.78 144.40 L352.30 144.65 L352.82 144.89 L353.35 145.14 L353.87 145.39 L354.40 145.63 L354.92 145.88 L355.44 146.13 L355.97 146.38 L356.49 146.63 L357.02 146.88 L357.54 147.13 L358.06 147.38 L358.59 147.64 L359.11 147.89 L359.64 148.15 L360.16 148.41 L360.69 148.67 L361.21 148.93 L361.73 149.19 L362.26 149.45 L362.78 149.72 L363.31 149.98 L363.83 150.25 L364.36 150.53 L364.88 150.80 L365.40 151.07 L365.93 151.35 L366.45 151.63 L366.98 151.91 L367.50 152.20" stroke="#ff80ff" stroke-width="2.1"/>
<path d="M53.00 152.20 L53.52 151.91 L54.05 151.63 L54.57 151.35 L55.10 151.07 L55.62 150.80 L56.15 150.53 L56.67 150.25 L57.19 149.98 L57.72 149.72 L58.24 149.45 L58.77 149.19 L59.29 148.93 L59.81 148.67 L60.34 148.41 L60.86 148.15 L61.39 147.89 L61.91 147.64 L62.44 147.38 L62.96 147.13 L63.48 146.88 L64.01 146.63 L64.53 146.38 L65.06 146.13 L65.58 145.88 L66.10 145.63 L66.63 145.39 L67.15 145.14 L67.68 144.89 L68.20 144.65 L68.72 144.40 L69.25 144.15 L69.77 143.91 L70.30 143.66 L70.82 143.41 L71.35 143.17 L71.87 142.92 L72.39 142.67 L72.92 142.42 L73.44 142.17 L73.97 141.92 L74.49 141.67 L75.01 141.42 L75.54 141.17 L76.06 140.92 L76.59 140.66 L77.11 140.41 L77.64 140.15 L78.16 139.89 L78.68 139.63 L79.21 139.37 L79.73 139.11 L80.26 138.84 L80.78 138.58 L81.31 138.31 L81.83 138.04 L82.35 137.76 L82.88 137.49 L83.40 137.21 L83.93 136.93 L84.45 136.65 L84.97 136.37 L85.50 136.08 L86.02 135.79 L86.55 135.50 L87.07 135.20 L87.59 134.91 L88.12 134.61 L88.64 134.30 L89.17 133.99 L89.69 133.68 L90.22 133.37 L90.74 133.05 L91.26 132.73 L91.79 132.41 L92.31 132.08 L92.84 131.75 L93.36 131.42 L93.89 131.09 L94.41 130.75 L94.93 130.41 L95.46 130.07 L95.98 129.73 L96.51 129.38 L97.03 129.04 L97.55 128.69 L98.08 128.34 L98.60 127.99 L99.13 127.64 L99.65 127.28 L100.17 126.93 L100.70 126.57 L101.22 126.22 L101.75 125.86 L102.27 125.51 L102.80 125.15 L103.32 124.79 L103.84 124.44 L104.37 124.08 L104.89 123.72 L105.42 123.37 L105.94 123.01 L106.47 122.66 L106.99 122.31 L107.51 121.95 L108.04 121.60 L108.56 121.25 L109.09 120.90 L109.61 120.56 L110.13 120.21 L110.66 119.87 L111.18 119.53 L111.71 119.19 L112.23 118.85 L112.75 118.51 L113.28 118.17 L113.80 117.84 L114.33 117.50 L114.85 117.17 L115.38 116.83 L115.90 116.50 L116.42 116.16 L116.95 115.83 L117.47 115.49 L118.00 115.16 L118.52 114.82 L119.05 114.48 L119.57 114.15 L120.09 113.81 L120.62 113.47 L121.14 113.13 L121.67 112.78 L122.19 112.44 L122.71 112.09 L123.24 111.74 L123.76 111.39 L124.29 111.04 L124.81 110.69 L125.34 110.33 L125.86 109.97 L126.38 109.60 L126.91 109.24 L127.43 108.87 L127.96 108.49 L128.48 108.12 L129.00 107.73 L129.53 107.35 L130.05 106.96 L130.58 106.57 L131.10 106.17 L131.62 105.77 L132.15 105.37 L132.67 104.97 L133.20 104.56 L133.72 104.16 L134.25 103.75 L134.77 103.35 L135.29 102.95 L135.82 102.55 L136.34 102.15 L136.87 101.76 L137.39 101.37 L137.92 100.98 L138.44 100.60 L138.96 100.23 L139.49 99.86 L140.01 99.50 L140.54 99.14 L141.06 98.80 L141.58 98.46 L142.11 98.13 L142.63 97.82 L143.16 97.51 L143.68 97.21 L144.21 96.93 L144.73 96.65 L145.25 96.38 L145.78 96.12 L146.30 95.87 L146.83 95.62 L147.35 95.38 L147.87 95.14 L148.40 94.91 L148.92 94.67 L149.45 94.44 L149.97 94.21 L150.50 93.98 L151.02 93.75 L151.54 93.52 L152.07 93.30 L152.59 93.07 L153.12 92.85 L153.64 92.63 L154.16 92.41 L154.69 92.19 L155.21 91.98 L155.74 91.77 L156.26 91.57 L156.79 91.37 L157.31 91.18 L157.83 90.99 L158.36 90.81 L158.88 90.63 L159.41 90.46 L159.93 90.30 L160.45 90.15 L160.98 90.01 L161.50 89.87 L162.03 89.74 L162.55 89.62 L163.07 89.50 L163.60 89.40 L164.12 89.30 L164.65 89.20 L165.17 89.11 L165.70 89.02 L166.22 88.94 L166.74 88.86 L167.27 88.78 L167.79 88.70 L168.32 88.63 L168.84 88.56 L169.37 88.49 L169.89 88.42 L170.41 88.34 L170.94 88.27 L171.46 88.20 L171.99 88.13 L172.51 88.06 L173.03 87.99 L173.56 87.92 L174.08 87.86 L174.61 87.80 L175.13 87.74 L175.66 87.68 L176.18 87.63 L176.70 87.58 L177.23 87.54 L177.75 87.50 L178.28 87.47 L178.80 87.44 L179.32 87.42 L179.85 87.40 L180.37 87.40 L180.90 87.39 L181.42 87.40 L181.95 87.41 L182.47 87.43 L182.99 87.45 L183.52 87.48 L184.04 87.52 L184.57 87.56 L185.09 87.60 L185.61 87.65 L186.14 87.70 L186.66 87.75 L187.19 87.81 L187.71 87.88 L188.24 87.94 L188.76 88.01 L189.28 88.08 L189.81 88.15 L190.33 88.22 L190.86 88.30 L191.38 88.37 L191.90 88.45 L192.43 88.53 L192.95 88.60 L193.48 88.68 L194.00 88.76 L194.53 88.83 L195.05 88.91 L195.57 88.98 L196.10 89.05 L196.62 89.12 L197.15 89.19 L197.67 89.26 L198.19 89.33 L198.72 89.39 L199.24 89.46 L199.77 89.52 L200.29 89.58 L200.82 89.64 L201.34 89.69 L201.86 89.74 L202.39 89.79 L202.91 89.84 L203.44 89.89 L203.96 89.93 L204.48 89.97 L205.01 90.01 L205.53 90.04 L206.06 90.08 L206.58 90.10 L207.10 90.13 L207.63 90.15 L208.15 90.17 L208.68 90.18 L209.20 90.19 L209.73 90.20 L210.25 90.20 L210.77 90.20 L211.30 90.19 L211.82 90.18 L212.35 90.17 L212.87 90.15 L213.40 90.13 L213.92 90.10 L214.44 90.08 L214.97 90.04 L215.49 90.01 L216.02 89.97 L216.54 89.93 L217.06 89.89 L217.59 89.84 L218.11 89.79 L218.64 89.74 L219.16 89.69 L219.69 89.64 L220.21 89.58 L220.73 89.52 L221.26 89.46 L221.78 89.39 L222.31 89.33 L222.83 89.26 L223.35 89.19 L223.88 89.12 L224.40 89.05 L224.93 88.98 L225.45 88.91 L225.98 88.83 L226.50 88.76 L227.02 88.68 L227.55 88.60 L228.07 88.53 L228.60 88.45 L229.12 88.37 L229.64 88.30 L230.17 88.22 L230.69 88.15 L231.22 88.08 L231.74 88.01 L232.27 87.94 L232.79 87.88 L233.31 87.81 L233.84 87.75 L234.36 87.70 L234.89 87.65 L235.41 87.60 L235.93 87.56 L236.46 87.52 L236.98 87.48 L237.51 87.45 L238.03 87.43 L238.55 87.41 L239.08 87.40 L239.60 87.39 L240.13 87.40 L240.65 87.40 L241.18 87.42 L241.70 87.44 L242.22 87.47 L242.75 87.50 L243.27 87.54 L243.80 87.58 L244.32 87.63 L244.84 87.68 L245.37 87.74 L245.89 87.80 L246.42 87.86 L246.94 87.92 L247.47 87.99 L247.99 88.06 L248.51 88.13 L249.04 88.20 L249.56 88.27 L250.09 88.34 L250.61 88.42 L251.13 88.49 L251.66 88.56 L252.18 88.63 L252.71 88.70 L253.23 88.78 L253.76 88.86 L254.28 88.94 L254.80 89.02 L255.33 89.11 L255.85 89.20 L256.38 89.30 L256.90 89.40 L257.43 89.50 L257.95 89.62 L258.47 89.74 L259.00 89.87 L259.52 90.01 L260.05 90.15 L260.57 90.30 L261.09 90.46 L261.62 90.63 L262.14 90.81 L262.67 90.99 L263.19 91.18 L263.72 91.37 L264.24 91.57 L264.76 91.77 L265.29 91.98 L265.81 92.19 L266.34 92.41 L266.86 92.63 L267.38 92.85 L267.91 93.07 L268.43 93.30 L268.96 93.52 L269.48 93.75 L270.00 93.98 L270.53 94.21 L271.05 94.44 L271.58 94.67 L272.10 94.91 L272.63 95.14 L273.15 95.38 L273.67 95.62 L274.20 95.87 L274.72 96.12 L275.25 96.38 L275.77 96.65 L276.29 96.93 L276.82 97.21 L277.34 97.51 L277.87 97.82 L278.39 98.13 L278.92 98.46 L279.44 98.80 L279.96 99.14 L280.49 99.50 L281.01 99.86 L281.54 100.23 L282.06 100.60 L282.59 100.98 L283.11 101.37 L283.63 101.76 L284.16 102.15 L284.68 102.55 L285.21 102.95 L285.73 103.35 L286.25 103.75 L286.78 104.16 L287.30 104.56 L287.83 104.97 L288.35 105.37 L288.88 105.77 L289.40 106.17 L289.92 106.57 L290.45 106.96 L290.97 107.35 L291.50 107.73 L292.02 108.12 L292.54 108.49 L293.07 108.87 L293.59 109.24 L294.12 109.60 L294.64 109.97 L295.16 110.33 L295.69 110.69 L296.21 111.04 L296.74 111.39 L297.26 111.74 L297.79 112.09 L298.31 112.44 L298.83 112.78 L299.36 113.13 L299.88 113.47 L300.41 113.81 L300.93 114.15 L301.46 114.48 L301.98 114.82 L302.50 115.16 L303.03 115.49 L303.55 115.83 L304.08 116.16 L304.60 116.50 L305.12 116.83 L305.65 117.17 L306.17 117.50 L306.70 117.84 L307.22 118.17 L307.75 118.51 L308.27 118.85 L308.79 119.19 L309.32 119.53 L309.84 119.87 L310.37 120.21 L310.89 120.56 L311.41 120.90 L311.94 121.25 L312.46 121.60 L312.99 121.95 L313.51 122.31 L314.04 122.66 L314.56 123.01 L315.08 123.37 L315.61 123.72 L316.13 124.08 L316.66 124.44 L317.18 124.79 L317.70 125.15 L318.23 125.51 L318.75 125.86 L319.28 126.22 L319.80 126.57 L320.33 126.93 L320.85 127.28 L321.37 127.64 L321.90 127.99 L322.42 128.34 L322.95 128.69 L323.47 129.04 L323.99 129.38 L324.52 129.73 L325.04 130.07 L325.57 130.41 L326.09 130.75 L326.62 131.09 L327.14 131.42 L327.66 131.75 L328.19 132.08 L328.71 132.41 L329.24 132.73 L329.76 133.05 L330.28 133.37 L330.81 133.68 L331.33 133.99 L331.86 134.30 L332.38 134.61 L332.91 134.91 L333.43 135.20 L333.95 135.50 L334.48 135.79 L335.00 136.08 L335.53 136.37 L336.05 136.65 L336.57 136.93 L337.10 137.21 L337.62 137.49 L338.15 137.76 L338.67 138.04 L339.20 138.31 L339.72 138.58 L340.24 138.84 L340.77 139.11 L341.29 139.37 L341.82 139.63 L342.34 139.89 L342.86 140.15 L343.39 140.41 L343.91 140.66 L344.44 140.92 L344.96 141.17 L345.49 141.42 L346.01 141.67 L346.53 141.92 L347.06 142.17 L347.58 142.42 L348.11 142.67 L348.63 142.92 L349.15 143.17 L349.68 143.41 L350.20 143.66 L350.73 143.91 L351.25 144.15 L351.78 144.40 L352.30 144.65 L352.82 144.89 L353.35 145.14 L353.87 145.39 L354.40 145.63 L354.92 145.88 L355.44 146.13 L355.97 146.38 L356.49 146.63 L357.02 146.88 L357.54 147.13 L358.06 147.38 L358.59 147.64 L359.11 147.89 L359.64 148.15 L360.16 148.41 L360.69 148.67 L361.21 148.93 L361.73 149.19 L362.26 149.45 L362.78 149.72 L363.31 149.98 L363.83 150.25 L364.36 150.53 L364.88 150.80 L365.40 151.07 L365.93 151.35 L366.45 151.63 L366.98 151.91 L367.50 152.20" stroke="#ff40ff" stroke-dasharray="2.3 1.65"/>
<path d="M53.00 152.20 L53.52 151.91 L54.05 151.63 L54.57 151.35 L55.10 151.07 L55.62 150.79 L56.15 150.52 L56.67 150.24 L57.19 149.97 L57.72 149.71 L58.24 149.44 L58.77 149.18 L59.29 148.91 L59.81 148.65 L60.34 148.40 L60.86 148.14 L61.39 147.88 L61.91 147.63 L62.44 147.37 L62.96 147.12 L63.48 146.87 L64.01 146.62 L64.53 146.37 L65.06 146.12 L65.58 145.87 L66.10 145.63 L66.63 145.38 L67.15 145.13 L67.68 144.89 L68.20 144.64 L68.72 144.40 L69.25 144.15 L69.77 143.91 L70.30 143.66 L70.82 143.41 L71.35 143.17 L71.87 142.92 L72.39 142.68 L72.92 142.43 L73.44 142.18 L73.97 141.93 L74.49 141.68 L75.01 141.43 L75.54 141.18 L76.06 140.93 L76.59 140.67 L77.11 140.42 L77.64 140.16 L78.16 139.91 L78.68 139.65 L79.21 139.38 L79.73 139.12 L80.26 138.86 L80.78 138.59 L81.31 138.32 L81.83 138.05 L82.35 137.78 L82.88 137.51 L83.40 137.23 L83.93 136.95 L84.45 136.67 L84.97 136.38 L85.50 136.09 L86.02 135.80 L86.55 135.51 L87.07 135.21 L87.59 134.91 L88.12 134.61 L88.64 134.31 L89.17 134.00 L89.69 133.69 L90.22 133.37 L90.74 133.05 L91.26 132.73 L91.79 132.40 L92.31 132.07 L92.84 131.74 L93.36 131.41 L93.89 131.07 L94.41 130.73 L94.93 130.39 L95.46 130.04 L95.98 129.70 L96.51 129.35 L97.03 129.00 L97.55 128.65 L98.08 128.29 L98.60 127.94 L99.13 127.58 L99.65 127.23 L100.17 126.87 L100.70 126.51 L101.22 126.15 L101.75 125.79 L102.27 125.43 L102.80 125.07 L103.32 124.71 L103.84 124.36 L104.37 124.00 L104.89 123.64 L105.42 123.28 L105.94 122.92 L106.47 122.57 L106.99 122.21 L107.51 121.86 L108.04 121.51 L108.56 121.15 L109.09 120.80 L109.61 120.46 L110.13 120.11 L110.66 119.77 L111.18 119.43 L111.71 119.09 L112.23 118.75 L112.75 118.41 L113.28 118.07 L113.80 117.74 L114.33 117.40 L114.85 117.06 L115.38 116.73 L115.90 116.39 L116.42 116.05 L116.95 115.72 L117.47 115.38 L118.00 115.04 L118.52 114.70 L119.05 114.35 L119.57 114.01 L120.09 113.66 L120.62 113.31 L121.14 112.96 L121.67 112.61 L122.19 112.25 L122.71 111.89 L123.24 111.52 L123.76 111.15 L124.29 110.78 L124.81 110.40 L125.34 110.02 L125.86 109.64 L126.38 109.25 L126.91 108.85 L127.43 108.45 L127.96 108.04 L128.48 107.63 L129.00 107.21 L129.53 106.79 L130.05 106.36 L130.58 105.92 L131.10 105.47 L131.62 105.03 L132.15 104.57 L132.67 104.11 L133.20 103.65 L133.72 103.18 L134.25 102.71 L134.77 102.24 L135.29 101.77 L135.82 101.30 L136.34 100.82 L136.87 100.35 L137.39 99.88 L137.92 99.40 L138.44 98.93 L138.96 98.47 L139.49 98.00 L140.01 97.54 L140.54 97.08 L141.06 96.63 L141.58 96.18 L142.11 95.74 L142.63 95.30 L143.16 94.87 L143.68 94.45 L144.21 94.04 L144.73 93.63 L145.25 93.23 L145.78 92.84 L146.30 92.45 L146.83 92.08 L147.35 91.71 L147.87 91.36 L148.40 91.01 L148.92 90.67 L149.45 90.34 L149.97 90.02 L150.50 89.71 L151.02 89.40 L151.54 89.11 L152.07 88.83 L152.59 88.55 L153.12 88.28 L153.64 88.02 L154.16 87.76 L154.69 87.51 L155.21 87.27 L155.74 87.03 L156.26 86.79 L156.79 86.56 L157.31 86.34 L157.83 86.11 L158.36 85.89 L158.88 85.67 L159.41 85.45 L159.93 85.24 L160.45 85.02 L160.98 84.81 L161.50 84.59 L162.03 84.38 L162.55 84.17 L163.07 83.95 L163.60 83.74 L164.12 83.54 L164.65 83.33 L165.17 83.13 L165.70 82.93 L166.22 82.74 L166.74 82.55 L167.27 82.36 L167.79 82.18 L168.32 82.01 L168.84 81.84 L169.37 81.68 L169.89 81.53 L170.41 81.39 L170.94 81.25 L171.46 81.12 L171.99 81.00 L172.51 80.89 L173.03 80.78 L173.56 80.68 L174.08 80.58 L174.61 80.49 L175.13 80.40 L175.66 80.32 L176.18 80.25 L176.70 80.17 L177.23 80.11 L177.75 80.04 L178.28 79.98 L178.80 79.92 L179.32 79.87 L179.85 79.81 L180.37 79.76 L180.90 79.71 L181.42 79.67 L181.95 79.62 L182.47 79.59 L182.99 79.55 L183.52 79.52 L184.04 79.49 L184.57 79.46 L185.09 79.44 L185.61 79.42 L186.14 79.41 L186.66 79.40 L187.19 79.40 L187.71 79.40 L188.24 79.40 L188.76 79.41 L189.28 79.43 L189.81 79.44 L190.33 79.47 L190.86 79.49 L191.38 79.52 L191.90 79.55 L192.43 79.59 L192.95 79.62 L193.48 79.66 L194.00 79.71 L194.53 79.76 L195.05 79.80 L195.57 79.86 L196.10 79.91 L196.62 79.97 L197.15 80.02 L197.67 80.08 L198.19 80.14 L198.72 80.20 L199.24 80.26 L199.77 80.32 L200.29 80.37 L200.82 80.43 L201.34 80.49 L201.86 80.54 L202.39 80.59 L202.91 80.64 L203.44 80.69 L203.96 80.73 L204.48 80.77 L205.01 80.81 L205.53 80.85 L206.06 80.88 L206.58 80.91 L207.10 80.93 L207.63 80.95 L208.15 80.97 L208.68 80.98 L209.20 80.99 L209.73 81.00 L210.25 81.00 L210.77 81.00 L211.30 80.99 L211.82 80.98 L212.35 80.97 L212.87 80.95 L213.40 80.93 L213.92 80.91 L214.44 80.88 L214.97 80.85 L215.49 80.81 L216.02 80.77 L216.54 80.73 L217.06 80.69 L217.59 80.64 L218.11 80.59 L218.64 80.54 L219.16 80.49 L219.69 80.43 L220.21 80.37 L220.73 80.32 L221.26 80.26 L221.78 80.20 L222.31 80.14 L222.83 80.08 L223.35 80.02 L223.88 79.97 L224.40 79.91 L224.93 79.86 L225.45 79.80 L225.98 79.76 L226.50 79.71 L227.02 79.66 L227.55 79.62 L228.07 79.59 L228.60 79.55 L229.12 79.52 L229.64 79.49 L230.17 79.47 L230.69 79.44 L231.22 79.43 L231.74 79.41 L232.27 79.40 L232.79 79.40 L233.31 79.40 L233.84 79.40 L234.36 79.41 L234.89 79.42 L235.41 79.44 L235.93 79.46 L236.46 79.49 L236.98 79.52 L237.51 79.55 L238.03 79.59 L238.55 79.62 L239.08 79.67 L239.60 79.71 L240.13 79.76 L240.65 79.81 L241.18 79.87 L241.70 79.92 L242.22 79.98 L242.75 80.04 L243.27 80.11 L243.80 80.17 L244.32 80.25 L244.84 80.32 L245.37 80.40 L245.89 80.49 L246.42 80.58 L246.94 80.68 L247.47 80.78 L247.99 80.89 L248.51 81.00 L249.04 81.12 L249.56 81.25 L250.09 81.39 L250.61 81.53 L251.13 81.68 L251.66 81.84 L252.18 82.01 L252.71 82.18 L253.23 82.36 L253.76 82.55 L254.28 82.74 L254.80 82.93 L255.33 83.13 L255.85 83.33 L256.38 83.54 L256.90 83.74 L257.43 83.95 L257.95 84.17 L258.47 84.38 L259.00 84.59 L259.52 84.81 L260.05 85.02 L260.57 85.24 L261.09 85.45 L261.62 85.67 L262.14 85.89 L262.67 86.11 L263.19 86.34 L263.72 86.56 L264.24 86.79 L264.76 87.03 L265.29 87.27 L265.81 87.51 L266.34 87.76 L266.86 88.02 L267.38 88.28 L267.91 88.55 L268.43 88.83 L268.96 89.11 L269.48 89.40 L270.00 89.71 L270.53 90.02 L271.05 90.34 L271.58 90.67 L272.10 91.01 L272.63 91.36 L273.15 91.71 L273.67 92.08 L274.20 92.45 L274.72 92.84 L275.25 93.23 L275.77 93.63 L276.29 94.04 L276.82 94.45 L277.34 94.87 L277.87 95.30 L278.39 95.74 L278.92 96.18 L279.44 96.63 L279.96 97.08 L280.49 97.54 L281.01 98.00 L281.54 98.47 L282.06 98.93 L282.59 99.40 L283.11 99.88 L283.63 100.35 L284.16 100.82 L284.68 101.30 L285.21 101.77 L285.73 102.24 L286.25 102.71 L286.78 103.18 L287.30 103.65 L287.83 104.11 L288.35 104.57 L288.88 105.03 L289.40 105.47 L289.92 105.92 L290.45 106.36 L290.97 106.79 L291.50 107.21 L292.02 107.63 L292.54 108.04 L293.07 108.45 L293.59 108.85 L294.12 109.25 L294.64 109.64 L295.16 110.02 L295.69 110.40 L296.21 110.78 L296.74 111.15 L297.26 111.52 L297.79 111.89 L298.31 112.25 L298.83 112.61 L299.36 112.96 L299.88 113.31 L300.41 113.66 L300.93 114.01 L301.46 114.35 L301.98 114.70 L302.50 115.04 L303.03 115.38 L303.55 115.72 L304.08 116.05 L304.60 116.39 L305.12 116.73 L305.65 117.06 L306.17 117.40 L306.70 117.74 L307.22 118.07 L307.75 118.41 L308.27 118.75 L308.79 119.09 L309.32 119.43 L309.84 119.77 L310.37 120.11 L310.89 120.46 L311.41 120.80 L311.94 121.15 L312.46 121.51 L312.99 121.86 L313.51 122.21 L314.04 122.57 L314.56 122.92 L315.08 123.28 L315.61 123.64 L316.13 124.00 L316.66 124.36 L317.18 124.71 L317.70 125.07 L318.23 125.43 L318.75 125.79 L319.28 126.15 L319.80 126.51 L320.33 126.87 L320.85 127.23 L321.37 127.58 L321.90 127.94 L322.42 128.29 L322.95 128.65 L323.47 129.00 L323.99 129.35 L324.52 129.70 L325.04 130.04 L325.57 130.39 L326.09 130.73 L326.62 131.07 L327.14 131.41 L327.66 131.74 L328.19 132.07 L328.71 132.40 L329.24 132.73 L329.76 133.05 L330.28 133.37 L330.81 133.69 L331.33 134.00 L331.86 134.31 L332.38 134.61 L332.91 134.91 L333.43 135.21 L333.95 135.51 L334.48 135.80 L335.00 136.09 L335.53 136.38 L336.05 136.67 L336.57 136.95 L337.10 137.23 L337.62 137.51 L338.15 137.78 L338.67 138.05 L339.20 138.32 L339.72 138.59 L340.24 138.86 L340.77 139.12 L341.29 139.38 L341.82 139.65 L342.34 139.91 L342.86 140.16 L343.39 140.42 L343.91 140.67 L344.44 140.93 L344.96 141.18 L345.49 141.43 L346.01 141.68 L346.53 141.93 L347.06 142.18 L347.58 142.43 L348.11 142.68 L348.63 142.92 L349.15 143.17 L349.68 143.41 L350.20 143.66 L350.73 143.91 L351.25 144.15 L351.78 144.40 L352.30 144.64 L352.82 144.89 L353.35 145.13 L353.87 145.38 L354.40 145.63 L354.92 145.87 L355.44 146.12 L355.97 146.37 L356.49 146.62 L357.02 146.87 L357.54 147.12 L358.06 147.37 L358.59 147.63 L359.11 147.88 L359.64 148.14 L360.16 148.40 L360.69 148.65 L361.21 148.91 L361.73 149.18 L362.26 149.44 L362.78 149.71 L363.31 149.97 L363.83 150.24 L364.36 150.52 L364.88 150.79 L365.40 151.07 L365.93 151.35 L366.45 151.63 L366.98 151.91 L367.50 152.20" stroke="#b4ffff" stroke-width="2.1"/>
<path d="M53.00 152.20 L53.52 151.91 L54.05 151.63 L54.57 151.35 L55.10 151.07 L55.62 150.79 L56.15 150.52 L56.67 150.24 L57.19 149.97 L57.72 149.71 L58.24 149.44 L58.77 149.18 L59.29 148.91 L59.81 148.65 L60.34 148.40 L60.86 148.14 L61.39 147.88 L61.91 147.63 L62.44 147.37 L62.96 147.12 L63.48 146.87 L64.01 146.62 L64.53 146.37 L65.06 146.12 L65.58 145.87 L66.10 145.63 L66.63 145.38 L67.15 145.13 L67.68 144.89 L68.20 144.64 L68.72 144.40 L69.25 144.15 L69.77 143.91 L70.30 143.66 L70.82 143.41 L71.35 143.17 L71.87 142.92 L72.39 142.68 L72.92 142.43 L73.44 142.18 L73.97 141.93 L74.49 141.68 L75.01 141.43 L75.54 141.18 L76.06 140.93 L76.59 140.67 L77.11 140.42 L77.64 140.16 L78.16 139.91 L78.68 139.65 L79.21 139.38 L79.73 139.12 L80.26 138.86 L80.78 138.59 L81.31 138.32 L81.83 138.05 L82.35 137.78 L82.88 137.51 L83.40 137.23 L83.93 136.95 L84.45 136.67 L84.97 136.38 L85.50 136.09 L86.02 135.80 L86.55 135.51 L87.07 135.21 L87.59 134.91 L88.12 134.61 L88.64 134.31 L89.17 134.00 L89.69 133.69 L90.22 133.37 L90.74 133.05 L91.26 132.73 L91.79 132.40 L92.31 132.07 L92.84 131.74 L93.36 131.41 L93.89 131.07 L94.41 130.73 L94.93 130.39 L95.46 130.04 L95.98 129.70 L96.51 129.35 L97.03 129.00 L97.55 128.65 L98.08 128.29 L98.60 127.94 L99.13 127.58 L99.65 127.23 L100.17 126.87 L100.70 126.51 L101.22 126.15 L101.75 125.79 L102.27 125.43 L102.80 125.07 L103.32 124.71 L103.84 124.36 L104.37 124.00 L104.89 123.64 L105.42 123.28 L105.94 122.92 L106.47 122.57 L106.99 122.21 L107.51 121.86 L108.04 121.51 L108.56 121.15 L109.09 120.80 L109.61 120.46 L110.13 120.11 L110.66 119.77 L111.18 119.43 L111.71 119.09 L112.23 118.75 L112.75 118.41 L113.28 118.07 L113.80 117.74 L114.33 117.40 L114.85 117.06 L115.38 116.73 L115.90 116.39 L116.42 116.05 L116.95 115.72 L117.47 115.38 L118.00 115.04 L118.52 114.70 L119.05 114.35 L119.57 114.01 L120.09 113.66 L120.62 113.31 L121.14 112.96 L121.67 112.61 L122.19 112.25 L122.71 111.89 L123.24 111.52 L123.76 111.15 L124.29 110.78 L124.81 110.40 L125.34 110.02 L125.86 109.64 L126.38 109.25 L126.91 108.85 L127.43 108.45 L127.96 108.04 L128.48 107.63 L129.00 107.21 L129.53 106.79 L130.05 106.36 L130.58 105.92 L131.10 105.47 L131.62 105.03 L132.15 104.57 L132.67 104.11 L133.20 103.65 L133.72 103.18 L134.25 102.71 L134.77 102.24 L135.29 101.77 L135.82 101.30 L136.34 100.82 L136.87 100.35 L137.39 99.88 L137.92 99.40 L138.44 98.93 L138.96 98.47 L139.49 98.00 L140.01 97.54 L140.54 97.08 L141.06 96.63 L141.58 96.18 L142.11 95.74 L142.63 95.30 L143.16 94.87 L143.68 94.45 L144.21 94.04 L144.73 93.63 L145.25 93.23 L145.78 92.84 L146.30 92.45 L146.83 92.08 L147.35 91.71 L147.87 91.36 L148.40 91.01 L148.92 90.67 L149.45 90.34 L149.97 90.02 L150.50 89.71 L151.02 89.40 L151.54 89.11 L152.07 88.83 L152.59 88.55 L153.12 88.28 L153.64 88.02 L154.16 87.76 L154.69 87.51 L155.21 87.27 L155.74 87.03 L156.26 86.79 L156.79 86.56 L157.31 86.34 L157.83 86.11 L158.36 85.89 L158.88 85.67 L159.41 85.45 L159.93 85.24 L160.45 85.02 L160.98 84.81 L161.50 84.59 L162.03 84.38 L162.55 84.17 L163.07 83.95 L163.60 83.74 L164.12 83.54 L164.65 83.33 L165.17 83.13 L165.70 82.93 L166.22 82.74 L166.74 82.55 L167.27 82.36 L167.79 82.18 L168.32 82.01 L168.84 81.84 L169.37 81.68 L169.89 81.53 L170.41 81.39 L170.94 81.25 L171.46 81.12 L171.99 81.00 L172.51 80.89 L173.03 80.78 L173.56 80.68 L174.08 80.58 L174.61 80.49 L175.13 80.40 L175.66 80.32 L176.18 80.25 L176.70 80.17 L177.23 80.11 L177.75 80.04 L178.28 79.98 L178.80 79.92 L179.32 79.87 L179.85 79.81 L180.37 79.76 L180.90 79.71 L181.42 79.67 L181.95 79.62 L182.47 79.59 L182.99 79.55 L183.52 79.52 L184.04 79.49 L184.57 79.46 L185.09 79.44 L185.61 79.42 L186.14 79.41 L186.66 79.40 L187.19 79.40 L187.71 79.40 L188.24 79.40 L188.76 79.41 L189.28 79.43 L189.81 79.44 L190.33 79.47 L190.86 79.49 L191.38 79.52 L191.90 79.55 L192.43 79.59 L192.95 79.62 L193.48 79.66 L194.00 79.71 L194.53 79.76 L195.05 79.80 L195.57 79.86 L196.10 79.91 L196.62 79.97 L197.15 80.02 L197.67 80.08 L198.19 80.14 L198.72 80.20 L199.24 80.26 L199.77 80.32 L200.29 80.37 L200.82 80.43 L201.34 80.49 L201.86 80.54 L202.39 80.59 L202.91 80.64 L203.44 80.69 L203.96 80.73 L204.48 80.77 L205.01 80.81 L205.53 80.85 L206.06 80.88 L206.58 80.91 L207.10 80.93 L207.63 80.95 L208.15 80.97 L208.68 80.98 L209.20 80.99 L209.73 81.00 L210.25 81.00 L210.77 81.00 L211.30 80.99 L211.82 80.98 L212.35 80.97 L212.87 80.95 L213.40 80.93 L213.92 80.91 L214.44 80.88 L214.97 80.85 L215.49 80.81 L216.02 80.77 L216.54 80.73 L217.06 80.69 L217.59 80.64 L218.11 80.59 L218.64 80.54 L219.16 80.49 L219.69 80.43 L220.21 80.37 L220.73 80.32 L221.26 80.26 L221.78 80.20 L222.31 80.14 L222.83 80.08 L223.35 80.02 L223.88 79.97 L224.40 79.91 L224.93 79.86 L225.45 79.80 L225.98 79.76 L226.50 79.71 L227.02 79.66 L227.55 79.62 L228.07 79.59 L228.60 79.55 L229.12 79.52 L229.64 79.49 L230.17 79.47 L230.69 79.44 L231.22 79.43 L231.74 79.41 L232.27 79.40 L232.79 79.40 L233.31 79.40 L233.84 79.40 L234.36 79.41 L234.89 79.42 L235.41 79.44 L235.93 79.46 L236.46 79.49 L236.98 79.52 L237.51 79.55 L238.03 79.59 L238.55 79.62 L239.08 79.67 L239.60 79.71 L240.13 79.76 L240.65 79.81 L241.18 79.87 L241.70 79.92 L242.22 79.98 L242.75 80.04 L243.27 80.11 L243.80 80.17 L244.32 80.25 L244.84 80.32 L245.37 80.40 L245.89 80.49 L246.42 80.58 L246.94 80.68 L247.47 80.78 L247.99 80.89 L248.51 81.00 L249.04 81.12 L249.56 81.25 L250.09 81.39 L250.61 81.53 L251.13 81.68 L251.66 81.84 L252.18 82.01 L252.71 82.18 L253.23 82.36 L253.76 82.55 L254.28 82.74 L254.80 82.93 L255.33 83.13 L255.85 83.33 L256.38 83.54 L256.90 83.74 L257.43 83.95 L257.95 84.17 L258.47 84.38 L259.00 84.59 L259.52 84.81 L260.05 85.02 L260.57 85.24 L261.09 85.45 L261.62 85.67 L262.14 85.89 L262.67 86.11 L263.19 86.34 L263.72 86.56 L264.24 86.79 L264.76 87.03 L265.29 87.27 L265.81 87.51 L266.34 87.76 L266.86 88.02 L267.38 88.28 L267.91 88.55 L268.43 88.83 L268.96 89.11 L269.48 89.40 L270.00 89.71 L270.53 90.02 L271.05 90.34 L271.58 90.67 L272.10 91.01 L272.63 91.36 L273.15 91.71 L273.67 92.08 L274.20 92.45 L274.72 92.84 L275.25 93.23 L275.77 93.63 L276.29 94.04 L276.82 94.45 L277.34 94.87 L277.87 95.30 L278.39 95.74 L278.92 96.18 L279.44 96.63 L279.96 97.08 L280.49 97.54 L281.01 98.00 L281.54 98.47 L282.06 98.93 L282.59 99.40 L283.11 99.88 L283.63 100.35 L284.16 100.82 L284.68 101.30 L285.21 101.77 L285.73 102.24 L286.25 102.71 L286.78 103.18 L287.30 103.65 L287.83 104.11 L288.35 104.57 L288.88 105.03 L289.40 105.47 L289.92 105.92 L290.45 106.36 L290.97 106.79 L291.50 107.21 L292.02 107.63 L292.54 108.04 L293.07 108.45 L293.59 108.85 L294.12 109.25 L294.64 109.64 L295.16 110.02 L295.69 110.40 L296.21 110.78 L296.74 111.15 L297.26 111.52 L297.79 111.89 L298.31 112.25 L298.83 112.61 L299.36 112.96 L299.88 113.31 L300.41 113.66 L300.93 114.01 L301.46 114.35 L301.98 114.70 L302.50 115.04 L303.03 115.38 L303.55 115.72 L304.08 116.05 L304.60 116.39 L305.12 116.73 L305.65 117.06 L306.17 117.40 L306.70 117.74 L307.22 118.07 L307.75 118.41 L308.27 118.75 L308.79 119.09 L309.32 119.43 L309.84 119.77 L310.37 120.11 L310.89 120.46 L311.41 120.80 L311.94 121.15 L312.46 121.51 L312.99 121.86 L313.51 122.21 L314.04 122.57 L314.56 122.92 L315.08 123.28 L315.61 123.64 L316.13 124.00 L316.66 124.36 L317.18 124.71 L317.70 125.07 L318.23 125.43 L318.75 125.79 L319.28 126.15 L319.80 126.51 L320.33 126.87 L320.85 127.23 L321.37 127.58 L321.90 127.94 L322.42 128.29 L322.95 128.65 L323.47 129.00 L323.99 129.35 L324.52 129.70 L325.04 130.04 L325.57 130.39 L326.09 130.73 L326.62 131.07 L327.14 131.41 L327.66 131.74 L328.19 132.07 L328.71 132.40 L329.24 132.73 L329.76 133.05 L330.28 133.37 L330.81 133.69 L331.33 134.00 L331.86 134.31 L332.38 134.61 L332.91 134.91 L333.43 135.21 L333.95 135.51 L334.48 135.80 L335.00 136.09 L335.53 136.38 L336.05 136.67 L336.57 136.95 L337.10 137.23 L337.62 137.51 L338.15 137.78 L338.67 138.05 L339.20 138.32 L339.72 138.59 L340.24 138.86 L340.77 139.12 L341.29 139.38 L341.82 139.65 L342.34 139.91 L342.86 140.16 L343.39 140.42 L343.91 140.67 L344.44 140.93 L344.96 141.18 L345.49 141.43 L346.01 141.68 L346.53 141.93 L347.06 142.18 L347.58 142.43 L348.11 142.68 L348.63 142.92 L349.15 143.17 L349.68 143.41 L350.20 143.66 L350.73 143.91 L351.25 144.15 L351.78 144.40 L352.30 144.64 L352.82 144.89 L353.35 145.13 L353.87 145.38 L354.40 145.63 L354.92 145.87 L355.44 146.12 L355.97 146.37 L356.49 146.62 L357.02 146.87 L357.54 147.12 L358.06 147.37 L358.59 147.63 L359.11 147.88 L359.64 148.14 L360.16 148.40 L360.69 148.65 L361.21 148.91 L361.73 149.18 L362.26 149.44 L362.78 149.71 L363.31 149.97 L363.83 150.24 L364.36 150.52 L364.88 150.79 L365.40 151.07 L365.93 151.35 L366.45 151.63 L366.98 151.91 L367.50 152.20" stroke="#00ffff" stroke-dasharray="3.0 1.05 1.0 1.05"/>
<path d="M53.00 152.20 L53.52 151.91 L54.05 151.63 L54.57 151.35 L55.10 151.07 L55.62 150.79 L56.15 150.52 L56.67 150.25 L57.19 149.98 L57.72 149.71 L58.24 149.44 L58.77 149.18 L59.29 148.92 L59.81 148.66 L60.34 148.40 L60.86 148.14 L61.39 147.88 L61.91 147.63 L62.44 147.38 L62.96 147.12 L63.48 146.87 L64.01 146.62 L64.53 146.37 L65.06 146.12 L65.58 145.88 L66.10 145.63 L66.63 145.38 L67.15 145.13 L67.68 144.89 L68.20 144.64 L68.72 144.40 L69.25 144.15 L69.77 143.91 L70.30 143.66 L70.82 143.41 L71.35 143.17 L71.87 142.92 L72.39 142.68 L72.92 142.43 L73.44 142.18 L73.97 141.93 L74.49 141.68 L75.01 141.43 L75.54 141.18 L76.06 140.93 L76.59 140.67 L77.11 140.42 L77.64 140.16 L78.16 139.90 L78.68 139.64 L79.21 139.38 L79.73 139.12 L80.26 138.86 L80.78 138.59 L81.31 138.32 L81.83 138.05 L82.35 137.78 L82.88 137.50 L83.40 137.23 L83.93 136.95 L84.45 136.66 L84.97 136.38 L85.50 136.09 L86.02 135.80 L86.55 135.51 L87.07 135.21 L87.59 134.91 L88.12 134.61 L88.64 134.31 L89.17 134.00 L89.69 133.69 L90.22 133.37 L90.74 133.05 L91.26 132.73 L91.79 132.40 L92.31 132.07 L92.84 131.74 L93.36 131.41 L93.89 131.07 L94.41 130.73 L94.93 130.39 L95.46 130.05 L95.98 129.70 L96.51 129.35 L97.03 129.00 L97.55 128.65 L98.08 128.30 L98.60 127.94 L99.13 127.59 L99.65 127.23 L100.17 126.88 L100.70 126.52 L101.22 126.16 L101.75 125.80 L102.27 125.44 L102.80 125.08 L103.32 124.72 L103.84 124.36 L104.37 124.00 L104.89 123.64 L105.42 123.29 L105.94 122.93 L106.47 122.57 L106.99 122.22 L107.51 121.86 L108.04 121.51 L108.56 121.16 L109.09 120.81 L109.61 120.46 L110.13 120.11 L110.66 119.77 L111.18 119.42 L111.71 119.08 L112.23 118.74 L112.75 118.40 L113.28 118.06 L113.80 117.72 L114.33 117.39 L114.85 117.05 L115.38 116.71 L115.90 116.37 L116.42 116.03 L116.95 115.69 L117.47 115.35 L118.00 115.01 L118.52 114.67 L119.05 114.32 L119.57 113.97 L120.09 113.62 L120.62 113.27 L121.14 112.92 L121.67 112.56 L122.19 112.20 L122.71 111.83 L123.24 111.47 L123.76 111.10 L124.29 110.72 L124.81 110.34 L125.34 109.96 L125.86 109.57 L126.38 109.17 L126.91 108.77 L127.43 108.37 L127.96 107.96 L128.48 107.54 L129.00 107.12 L129.53 106.69 L130.05 106.26 L130.58 105.81 L131.10 105.37 L131.62 104.91 L132.15 104.45 L132.67 103.99 L133.20 103.52 L133.72 103.05 L134.25 102.58 L134.77 102.10 L135.29 101.62 L135.82 101.14 L136.34 100.65 L136.87 100.17 L137.39 99.68 L137.92 99.20 L138.44 98.71 L138.96 98.23 L139.49 97.75 L140.01 97.27 L140.54 96.79 L141.06 96.32 L141.58 95.85 L142.11 95.38 L142.63 94.92 L143.16 94.46 L143.68 94.01 L144.21 93.57 L144.73 93.12 L145.25 92.69 L145.78 92.26 L146.30 91.83 L146.83 91.42 L147.35 91.00 L147.87 90.59 L148.40 90.19 L148.92 89.80 L149.45 89.41 L149.97 89.02 L150.50 88.64 L151.02 88.27 L151.54 87.90 L152.07 87.54 L152.59 87.18 L153.12 86.83 L153.64 86.48 L154.16 86.14 L154.69 85.80 L155.21 85.47 L155.74 85.14 L156.26 84.81 L156.79 84.49 L157.31 84.17 L157.83 83.85 L158.36 83.54 L158.88 83.23 L159.41 82.92 L159.93 82.62 L160.45 82.31 L160.98 82.01 L161.50 81.71 L162.03 81.42 L162.55 81.12 L163.07 80.83 L163.60 80.54 L164.12 80.26 L164.65 79.98 L165.17 79.70 L165.70 79.43 L166.22 79.16 L166.74 78.90 L167.27 78.64 L167.79 78.39 L168.32 78.14 L168.84 77.91 L169.37 77.67 L169.89 77.45 L170.41 77.23 L170.94 77.02 L171.46 76.81 L171.99 76.61 L172.51 76.42 L173.03 76.24 L173.56 76.06 L174.08 75.88 L174.61 75.72 L175.13 75.55 L175.66 75.40 L176.18 75.24 L176.70 75.10 L177.23 74.95 L177.75 74.81 L178.28 74.68 L178.80 74.55 L179.32 74.42 L179.85 74.30 L180.37 74.18 L180.90 74.06 L181.42 73.95 L181.95 73.85 L182.47 73.75 L182.99 73.65 L183.52 73.57 L184.04 73.48 L184.57 73.41 L185.09 73.34 L185.61 73.28 L186.14 73.23 L186.66 73.18 L187.19 73.14 L187.71 73.11 L188.24 73.09 L188.76 73.08 L189.28 73.08 L189.81 73.08 L190.33 73.09 L190.86 73.11 L191.38 73.13 L191.90 73.16 L192.43 73.19 L192.95 73.23 L193.48 73.27 L194.00 73.31 L194.53 73.36 L195.05 73.40 L195.57 73.45 L196.10 73.50 L196.62 73.55 L197.15 73.60 L197.67 73.66 L198.19 73.71 L198.72 73.76 L199.24 73.81 L199.77 73.86 L200.29 73.91 L200.82 73.96 L201.34 74.01 L201.86 74.06 L202.39 74.10 L202.91 74.15 L203.44 74.19 L203.96 74.23 L204.48 74.27 L205.01 74.31 L205.53 74.34 L206.06 74.37 L206.58 74.40 L207.10 74.43 L207.63 74.45 L208.15 74.47 L208.68 74.48 L209.20 74.49 L209.73 74.50 L210.25 74.50 L210.77 74.50 L211.30 74.49 L211.82 74.48 L212.35 74.47 L212.87 74.45 L213.40 74.43 L213.92 74.40 L214.44 74.37 L214.97 74.34 L215.49 74.31 L216.02 74.27 L216.54 74.23 L217.06 74.19 L217.59 74.15 L218.11 74.10 L218.64 74.06 L219.16 74.01 L219.69 73.96 L220.21 73.91 L220.73 73.86 L221.26 73.81 L221.78 73.76 L222.31 73.71 L222.83 73.66 L223.35 73.60 L223.88 73.55 L224.40 73.50 L224.93 73.45 L225.45 73.40 L225.98 73.36 L226.50 73.31 L227.02 73.27 L227.55 73.23 L228.07 73.19 L228.60 73.16 L229.12 73.13 L229.64 73.11 L230.17 73.09 L230.69 73.08 L231.22 73.08 L231.74 73.08 L232.27 73.09 L232.79 73.11 L233.31 73.14 L233.84 73.18 L234.36 73.23 L234.89 73.28 L235.41 73.34 L235.93 73.41 L236.46 73.48 L236.98 73.57 L237.51 73.65 L238.03 73.75 L238.55 73.85 L239.08 73.95 L239.60 74.06 L240.13 74.18 L240.65 74.30 L241.18 74.42 L241.70 74.55 L242.22 74.68 L242.75 74.81 L243.27 74.95 L243.80 75.10 L244.32 75.24 L244.84 75.40 L245.37 75.55 L245.89 75.72 L246.42 75.88 L246.94 76.06 L247.47 76.24 L247.99 76.42 L248.51 76.61 L249.04 76.81 L249.56 77.02 L250.09 77.23 L250.61 77.45 L251.13 77.67 L251.66 77.91 L252.18 78.14 L252.71 78.39 L253.23 78.64 L253.76 78.90 L254.28 79.16 L254.80 79.43 L255.33 79.70 L255.85 79.98 L256.38 80.26 L256.90 80.54 L257.43 80.83 L257.95 81.12 L258.47 81.42 L259.00 81.71 L259.52 82.01 L260.05 82.31 L260.57 82.62 L261.09 82.92 L261.62 83.23 L262.14 83.54 L262.67 83.85 L263.19 84.17 L263.72 84.49 L264.24 84.81 L264.76 85.14 L265.29 85.47 L265.81 85.80 L266.34 86.14 L266.86 86.48 L267.38 86.83 L267.91 87.18 L268.43 87.54 L268.96 87.90 L269.48 88.27 L270.00 88.64 L270.53 89.02 L271.05 89.41 L271.58 89.80 L272.10 90.19 L272.63 90.59 L273.15 91.00 L273.67 91.42 L274.20 91.83 L274.72 92.26 L275.25 92.69 L275.77 93.12 L276.29 93.57 L276.82 94.01 L277.34 94.46 L277.87 94.92 L278.39 95.38 L278.92 95.85 L279.44 96.32 L279.96 96.79 L280.49 97.27 L281.01 97.75 L281.54 98.23 L282.06 98.71 L282.59 99.20 L283.11 99.68 L283.63 100.17 L284.16 100.65 L284.68 101.14 L285.21 101.62 L285.73 102.10 L286.25 102.58 L286.78 103.05 L287.30 103.52 L287.83 103.99 L288.35 104.45 L288.88 104.91 L289.40 105.37 L289.92 105.81 L290.45 106.26 L290.97 106.69 L291.50 107.12 L292.02 107.54 L292.54 107.96 L293.07 108.37 L293.59 108.77 L294.12 109.17 L294.64 109.57 L295.16 109.96 L295.69 110.34 L296.21 110.72 L296.74 111.10 L297.26 111.47 L297.79 111.83 L298.31 112.20 L298.83 112.56 L299.36 112.92 L299.88 113.27 L300.41 113.62 L300.93 113.97 L301.46 114.32 L301.98 114.67 L302.50 115.01 L303.03 115.35 L303.55 115.69 L304.08 116.03 L304.60 116.37 L305.12 116.71 L305.65 117.05 L306.17 117.39 L306.70 117.72 L307.22 118.06 L307.75 118.40 L308.27 118.74 L308.79 119.08 L309.32 119.42 L309.84 119.77 L310.37 120.11 L310.89 120.46 L311.41 120.81 L311.94 121.16 L312.46 121.51 L312.99 121.86 L313.51 122.22 L314.04 122.57 L314.56 122.93 L315.08 123.29 L315.61 123.64 L316.13 124.00 L316.66 124.36 L317.18 124.72 L317.70 125.08 L318.23 125.44 L318.75 125.80 L319.28 126.16 L319.80 126.52 L320.33 126.88 L320.85 127.23 L321.37 127.59 L321.90 127.94 L322.42 128.30 L322.95 128.65 L323.47 129.00 L323.99 129.35 L324.52 129.70 L325.04 130.05 L325.57 130.39 L326.09 130.73 L326.62 131.07 L327.14 131.41 L327.66 131.74 L328.19 132.07 L328.71 132.40 L329.24 132.73 L329.76 133.05 L330.28 133.37 L330.81 133.69 L331.33 134.00 L331.86 134.31 L332.38 134.61 L332.91 134.91 L333.43 135.21 L333.95 135.51 L334.48 135.80 L335.00 136.09 L335.53 136.38 L336.05 136.66 L336.57 136.95 L337.10 137.23 L337.62 137.50 L338.15 137.78 L338.67 138.05 L339.20 138.32 L339.72 138.59 L340.24 138.86 L340.77 139.12 L341.29 139.38 L341.82 139.64 L342.34 139.90 L342.86 140.16 L343.39 140.42 L343.91 140.67 L344.44 140.93 L344.96 141.18 L345.49 141.43 L346.01 141.68 L346.53 141.93 L347.06 142.18 L347.58 142.43 L348.11 142.68 L348.63 142.92 L349.15 143.17 L349.68 143.41 L350.20 143.66 L350.73 143.91 L351.25 144.15 L351.78 144.40 L352.30 144.64 L352.82 144.89 L353.35 145.13 L353.87 145.38 L354.40 145.63 L354.92 145.88 L355.44 146.12 L355.97 146.37 L356.49 146.62 L357.02 146.87 L357.54 147.12 L358.06 147.38 L358.59 147.63 L359.11 147.88 L359.64 148.14 L360.16 148.40 L360.69 148.66 L361.21 148.92 L361.73 149.18 L362.26 149.44 L362.78 149.71 L363.31 149.98 L363.83 150.25 L364.36 150.52 L364.88 150.79 L365.40 151.07 L365.93 151.35 L366.45 151.63 L366.98 151.91 L367.50 152.20" stroke="#000000" stroke-dasharray="1.3 0.8 1.3 3.15"/>
</g>
<path d="M53.00 203.60h1.80 M367.50 203.60h-1.80 M53.00 184.38h1.80 M367.50 184.38h-1.80 M53.00 170.75h1.80 M367.50 170.75h-1.80 M53.00 160.17h1.80 M367.50 160.17h-1.80 M53.00 151.53h1.80 M367.50 151.53h-1.80 M53.00 144.23h1.80 M367.50 144.23h-1.80 M53.00 137.90h1.80 M367.50 137.90h-1.80 M53.00 132.32h1.80 M367.50 132.32h-1.80 M53.00 127.33h3.70 M367.50 127.33h-3.70 M53.00 94.48h1.80 M367.50 94.48h-1.80 M53.00 75.26h1.80 M367.50 75.26h-1.80 M53.00 61.63h1.80 M367.50 61.63h-1.80 M53.00 51.05h1.80 M367.50 51.05h-1.80 M53.00 42.41h1.80 M367.50 42.41h-1.80 M53.00 35.10h1.80 M367.50 35.10h-1.80 M53.00 28.78h1.80 M367.50 28.78h-1.80 M53.00 23.19h1.80 M367.50 23.19h-1.80 M105.42 236.25v-3.7 M105.42 18.00v3.7 M157.83 236.25v-3.7 M157.83 18.00v3.7 M210.25 236.25v-3.7 M210.25 18.00v3.7 M262.67 236.25v-3.7 M262.67 18.00v3.7 M315.08 236.25v-3.7 M315.08 18.00v3.7" stroke="#000" stroke-width="1" fill="none"/>
<path d="M53.00 236.25V18.00H367.50" fill="none" stroke="#000" stroke-width="0.95" stroke-linecap="square"/>
<path d="M53.00 236.25H367.50V18.00" fill="none" stroke="#000" stroke-width="1.15" stroke-linecap="square"/>
<path d="M123.80 168.00H155.90" stroke="#ff0000" stroke-width="2.4" fill="none"/>
<path d="M123.80 179.88H155.90" stroke="#00ff00" stroke-width="2.4" fill="none" stroke-dasharray="1.9 1.35"/>
<path d="M123.80 191.76H155.90" stroke="#0000ff" stroke-width="2.4" fill="none" stroke-dasharray="1.1 1.4"/>
<path d="M123.80 203.64H155.90" stroke="#ff80ff" stroke-width="2.1" fill="none"/>
<path d="M123.80 203.64H155.90" stroke="#ff40ff" stroke-width="2.4" fill="none" stroke-dasharray="2.3 1.65"/>
<path d="M123.80 215.52H155.90" stroke="#b4ffff" stroke-width="2.1" fill="none"/>
<path d="M123.80 215.52H155.90" stroke="#00ffff" stroke-width="2.4" fill="none" stroke-dasharray="3.0 1.05 1.0 1.05"/>
<path d="M123.80 227.40H155.90" stroke="#000000" stroke-width="2.4" fill="none" stroke-dasharray="1.3 0.8 1.3 3.15"/>
<clipPath id="cp1"><rect x="449.90" y="18.10" width="314.55" height="218.20"/></clipPath>
<g fill="none" stroke-width="2.4" clip-path="url(#cp1)">
<path d="M449.90 156.07 L450.42 155.92 L450.95 155.77 L451.47 155.61 L452.00 155.46 L452.52 155.31 L453.05 155.16 L453.57 155.01 L454.09 154.86 L454.62 154.71 L455.14 154.56 L455.67 154.41 L456.19 154.26 L456.72 154.11 L457.24 153.96 L457.76 153.81 L458.29 153.66 L458.81 153.51 L459.34 153.36 L459.86 153.21 L460.38 153.07 L460.91 152.92 L461.43 152.77 L461.96 152.62 L462.48 152.48 L463.01 152.33 L463.53 152.19 L464.05 152.04 L464.58 151.90 L465.10 151.76 L465.63 151.61 L466.15 151.47 L466.68 151.33 L467.20 151.19 L467.72 151.05 L468.25 150.91 L468.77 150.77 L469.30 150.63 L469.82 150.50 L470.35 150.36 L470.87 150.22 L471.39 150.09 L471.92 149.96 L472.44 149.82 L472.97 149.69 L473.49 149.56 L474.02 149.43 L474.54 149.30 L475.06 149.17 L475.59 149.04 L476.11 148.92 L476.64 148.79 L477.16 148.67 L477.69 148.54 L478.21 148.42 L478.73 148.30 L479.26 148.18 L479.78 148.06 L480.31 147.94 L480.83 147.83 L481.35 147.71 L481.88 147.60 L482.40 147.48 L482.93 147.37 L483.45 147.26 L483.98 147.15 L484.50 147.05 L485.02 146.94 L485.55 146.84 L486.07 146.73 L486.60 146.63 L487.12 146.53 L487.65 146.43 L488.17 146.33 L488.69 146.24 L489.22 146.14 L489.74 146.05 L490.27 145.96 L490.79 145.87 L491.32 145.78 L491.84 145.69 L492.36 145.61 L492.89 145.52 L493.41 145.44 L493.94 145.36 L494.46 145.28 L494.99 145.20 L495.51 145.12 L496.03 145.05 L496.56 144.98 L497.08 144.90 L497.61 144.83 L498.13 144.77 L498.66 144.70 L499.18 144.63 L499.70 144.57 L500.23 144.51 L500.75 144.45 L501.28 144.39 L501.80 144.33 L502.32 144.28 L502.85 144.23 L503.37 144.17 L503.90 144.12 L504.42 144.08 L504.95 144.03 L505.47 143.99 L505.99 143.94 L506.52 143.90 L507.04 143.86 L507.57 143.82 L508.09 143.79 L508.62 143.75 L509.14 143.72 L509.66 143.69 L510.19 143.66 L510.71 143.63 L511.24 143.61 L511.76 143.58 L512.29 143.56 L512.81 143.54 L513.33 143.52 L513.86 143.50 L514.38 143.49 L514.91 143.47 L515.43 143.46 L515.96 143.45 L516.48 143.44 L517.00 143.43 L517.53 143.43 L518.05 143.42 L518.58 143.42 L519.10 143.42 L519.63 143.42 L520.15 143.42 L520.67 143.43 L521.20 143.43 L521.72 143.44 L522.25 143.45 L522.77 143.46 L523.29 143.47 L523.82 143.48 L524.34 143.49 L524.87 143.51 L525.39 143.53 L525.92 143.54 L526.44 143.56 L526.96 143.58 L527.49 143.61 L528.01 143.63 L528.54 143.65 L529.06 143.68 L529.59 143.71 L530.11 143.73 L530.63 143.76 L531.16 143.79 L531.68 143.82 L532.21 143.86 L532.73 143.89 L533.26 143.93 L533.78 143.96 L534.30 144.00 L534.83 144.04 L535.35 144.08 L535.88 144.12 L536.40 144.16 L536.93 144.21 L537.45 144.25 L537.97 144.30 L538.50 144.35 L539.02 144.39 L539.55 144.44 L540.07 144.50 L540.60 144.55 L541.12 144.60 L541.64 144.66 L542.17 144.71 L542.69 144.77 L543.22 144.83 L543.74 144.89 L544.26 144.95 L544.79 145.01 L545.31 145.07 L545.84 145.14 L546.36 145.20 L546.89 145.27 L547.41 145.33 L547.93 145.40 L548.46 145.47 L548.98 145.54 L549.51 145.62 L550.03 145.69 L550.56 145.76 L551.08 145.84 L551.60 145.92 L552.13 145.99 L552.65 146.07 L553.18 146.15 L553.70 146.23 L554.23 146.31 L554.75 146.39 L555.27 146.48 L555.80 146.56 L556.32 146.64 L556.85 146.73 L557.37 146.82 L557.90 146.90 L558.42 146.99 L558.94 147.08 L559.47 147.16 L559.99 147.25 L560.52 147.34 L561.04 147.43 L561.57 147.52 L562.09 147.61 L562.61 147.71 L563.14 147.80 L563.66 147.89 L564.19 147.98 L564.71 148.08 L565.24 148.17 L565.76 148.26 L566.28 148.36 L566.81 148.45 L567.33 148.54 L567.86 148.64 L568.38 148.73 L568.90 148.83 L569.43 148.92 L569.95 149.02 L570.48 149.12 L571.00 149.21 L571.53 149.31 L572.05 149.40 L572.57 149.50 L573.10 149.59 L573.62 149.69 L574.15 149.79 L574.67 149.88 L575.20 149.98 L575.72 150.07 L576.24 150.17 L576.77 150.26 L577.29 150.36 L577.82 150.45 L578.34 150.55 L578.87 150.64 L579.39 150.74 L579.91 150.83 L580.44 150.93 L580.96 151.02 L581.49 151.12 L582.01 151.21 L582.54 151.30 L583.06 151.40 L583.58 151.49 L584.11 151.58 L584.63 151.67 L585.16 151.76 L585.68 151.86 L586.21 151.95 L586.73 152.04 L587.25 152.13 L587.78 152.22 L588.30 152.30 L588.83 152.39 L589.35 152.48 L589.87 152.57 L590.40 152.65 L590.92 152.73 L591.45 152.82 L591.97 152.90 L592.50 152.98 L593.02 153.06 L593.54 153.16 L594.07 153.27 L594.59 153.37 L595.12 153.48 L595.64 153.58 L596.17 153.68 L596.69 153.78 L597.21 153.87 L597.74 153.95 L598.26 153.94 L598.79 153.92 L599.31 153.90 L599.84 153.82 L600.36 153.61 L600.88 153.40 L601.41 153.08 L601.93 152.63 L602.46 152.17 L602.98 151.59 L603.51 150.90 L604.03 150.21 L604.55 149.40 L605.08 148.54 L605.60 147.68 L606.13 146.58 L606.65 145.54 L607.17 144.97 L607.70 145.54 L608.22 146.58 L608.75 147.68 L609.27 148.54 L609.80 149.40 L610.32 150.21 L610.84 150.90 L611.37 151.59 L611.89 152.17 L612.42 152.63 L612.94 153.08 L613.47 153.40 L613.99 153.61 L614.51 153.82 L615.04 153.90 L615.56 153.92 L616.09 153.94 L616.61 153.95 L617.14 153.87 L617.66 153.78 L618.18 153.68 L618.71 153.58 L619.23 153.48 L619.76 153.37 L620.28 153.27 L620.81 153.16 L621.33 153.06 L621.85 152.98 L622.38 152.90 L622.90 152.82 L623.43 152.73 L623.95 152.65 L624.48 152.57 L625.00 152.48 L625.52 152.39 L626.05 152.30 L626.57 152.22 L627.10 152.13 L627.62 152.04 L628.14 151.95 L628.67 151.86 L629.19 151.76 L629.72 151.67 L630.24 151.58 L630.77 151.49 L631.29 151.40 L631.81 151.30 L632.34 151.21 L632.86 151.12 L633.39 151.02 L633.91 150.93 L634.44 150.83 L634.96 150.74 L635.48 150.64 L636.01 150.55 L636.53 150.45 L637.06 150.36 L637.58 150.26 L638.11 150.17 L638.63 150.07 L639.15 149.98 L639.68 149.88 L640.20 149.79 L640.73 149.69 L641.25 149.59 L641.78 149.50 L642.30 149.40 L642.82 149.31 L643.35 149.21 L643.87 149.12 L644.40 149.02 L644.92 148.92 L645.45 148.83 L645.97 148.73 L646.49 148.64 L647.02 148.54 L647.54 148.45 L648.07 148.36 L648.59 148.26 L649.12 148.17 L649.64 148.08 L650.16 147.98 L650.69 147.89 L651.21 147.80 L651.74 147.71 L652.26 147.61 L652.78 147.52 L653.31 147.43 L653.83 147.34 L654.36 147.25 L654.88 147.16 L655.41 147.08 L655.93 146.99 L656.45 146.90 L656.98 146.82 L657.50 146.73 L658.03 146.64 L658.55 146.56 L659.08 146.48 L659.60 146.39 L660.12 146.31 L660.65 146.23 L661.17 146.15 L661.70 146.07 L662.22 145.99 L662.75 145.92 L663.27 145.84 L663.79 145.76 L664.32 145.69 L664.84 145.62 L665.37 145.54 L665.89 145.47 L666.42 145.40 L666.94 145.33 L667.46 145.27 L667.99 145.20 L668.51 145.14 L669.04 145.07 L669.56 145.01 L670.09 144.95 L670.61 144.89 L671.13 144.83 L671.66 144.77 L672.18 144.71 L672.71 144.66 L673.23 144.60 L673.75 144.55 L674.28 144.50 L674.80 144.44 L675.33 144.39 L675.85 144.35 L676.38 144.30 L676.90 144.25 L677.42 144.21 L677.95 144.16 L678.47 144.12 L679.00 144.08 L679.52 144.04 L680.05 144.00 L680.57 143.96 L681.09 143.93 L681.62 143.89 L682.14 143.86 L682.67 143.82 L683.19 143.79 L683.72 143.76 L684.24 143.73 L684.76 143.71 L685.29 143.68 L685.81 143.65 L686.34 143.63 L686.86 143.61 L687.39 143.58 L687.91 143.56 L688.43 143.54 L688.96 143.53 L689.48 143.51 L690.01 143.49 L690.53 143.48 L691.06 143.47 L691.58 143.46 L692.10 143.45 L692.63 143.44 L693.15 143.43 L693.68 143.43 L694.20 143.42 L694.72 143.42 L695.25 143.42 L695.77 143.42 L696.30 143.42 L696.82 143.43 L697.35 143.43 L697.87 143.44 L698.39 143.45 L698.92 143.46 L699.44 143.47 L699.97 143.49 L700.49 143.50 L701.02 143.52 L701.54 143.54 L702.06 143.56 L702.59 143.58 L703.11 143.61 L703.64 143.63 L704.16 143.66 L704.69 143.69 L705.21 143.72 L705.73 143.75 L706.26 143.79 L706.78 143.82 L707.31 143.86 L707.83 143.90 L708.36 143.94 L708.88 143.99 L709.40 144.03 L709.93 144.08 L710.45 144.12 L710.98 144.17 L711.50 144.23 L712.03 144.28 L712.55 144.33 L713.07 144.39 L713.60 144.45 L714.12 144.51 L714.65 144.57 L715.17 144.63 L715.69 144.70 L716.22 144.77 L716.74 144.83 L717.27 144.90 L717.79 144.98 L718.32 145.05 L718.84 145.12 L719.36 145.20 L719.89 145.28 L720.41 145.36 L720.94 145.44 L721.46 145.52 L721.99 145.61 L722.51 145.69 L723.03 145.78 L723.56 145.87 L724.08 145.96 L724.61 146.05 L725.13 146.14 L725.66 146.24 L726.18 146.33 L726.70 146.43 L727.23 146.53 L727.75 146.63 L728.28 146.73 L728.80 146.84 L729.33 146.94 L729.85 147.05 L730.37 147.15 L730.90 147.26 L731.42 147.37 L731.95 147.48 L732.47 147.60 L733.00 147.71 L733.52 147.83 L734.04 147.94 L734.57 148.06 L735.09 148.18 L735.62 148.30 L736.14 148.42 L736.66 148.54 L737.19 148.67 L737.71 148.79 L738.24 148.92 L738.76 149.04 L739.29 149.17 L739.81 149.30 L740.33 149.43 L740.86 149.56 L741.38 149.69 L741.91 149.82 L742.43 149.96 L742.96 150.09 L743.48 150.22 L744.00 150.36 L744.53 150.50 L745.05 150.63 L745.58 150.77 L746.10 150.91 L746.63 151.05 L747.15 151.19 L747.67 151.33 L748.20 151.47 L748.72 151.61 L749.25 151.76 L749.77 151.90 L750.30 152.04 L750.82 152.19 L751.34 152.33 L751.87 152.48 L752.39 152.62 L752.92 152.77 L753.44 152.92 L753.97 153.07 L754.49 153.21 L755.01 153.36 L755.54 153.51 L756.06 153.66 L756.59 153.81 L757.11 153.96 L757.63 154.11 L758.16 154.26 L758.68 154.41 L759.21 154.56 L759.73 154.71 L760.26 154.86 L760.78 155.01 L761.30 155.16 L761.83 155.31 L762.35 155.46 L762.88 155.61 L763.40 155.77 L763.93 155.92 L764.45 156.07" stroke="#ff0000"/>
<path d="M449.90 152.47 L450.42 152.20 L450.95 151.94 L451.47 151.67 L452.00 151.41 L452.52 151.15 L453.05 150.89 L453.57 150.64 L454.09 150.38 L454.62 150.13 L455.14 149.88 L455.67 149.63 L456.19 149.38 L456.72 149.14 L457.24 148.89 L457.76 148.65 L458.29 148.41 L458.81 148.17 L459.34 147.93 L459.86 147.70 L460.38 147.46 L460.91 147.23 L461.43 147.00 L461.96 146.77 L462.48 146.54 L463.01 146.32 L463.53 146.09 L464.05 145.87 L464.58 145.64 L465.10 145.42 L465.63 145.20 L466.15 144.98 L466.68 144.76 L467.20 144.55 L467.72 144.33 L468.25 144.12 L468.77 143.90 L469.30 143.69 L469.82 143.48 L470.35 143.27 L470.87 143.06 L471.39 142.85 L471.92 142.64 L472.44 142.44 L472.97 142.23 L473.49 142.03 L474.02 141.82 L474.54 141.62 L475.06 141.42 L475.59 141.21 L476.11 141.01 L476.64 140.81 L477.16 140.61 L477.69 140.41 L478.21 140.21 L478.73 140.02 L479.26 139.82 L479.78 139.62 L480.31 139.42 L480.83 139.23 L481.35 139.03 L481.88 138.84 L482.40 138.64 L482.93 138.45 L483.45 138.25 L483.98 138.06 L484.50 137.86 L485.02 137.67 L485.55 137.47 L486.07 137.28 L486.60 137.09 L487.12 136.89 L487.65 136.70 L488.17 136.51 L488.69 136.31 L489.22 136.12 L489.74 135.93 L490.27 135.74 L490.79 135.54 L491.32 135.35 L491.84 135.16 L492.36 134.97 L492.89 134.78 L493.41 134.59 L493.94 134.41 L494.46 134.22 L494.99 134.03 L495.51 133.85 L496.03 133.66 L496.56 133.48 L497.08 133.30 L497.61 133.12 L498.13 132.94 L498.66 132.76 L499.18 132.58 L499.70 132.41 L500.23 132.24 L500.75 132.06 L501.28 131.89 L501.80 131.72 L502.32 131.56 L502.85 131.39 L503.37 131.23 L503.90 131.06 L504.42 130.90 L504.95 130.75 L505.47 130.59 L505.99 130.44 L506.52 130.29 L507.04 130.14 L507.57 129.99 L508.09 129.84 L508.62 129.70 L509.14 129.56 L509.66 129.42 L510.19 129.29 L510.71 129.15 L511.24 129.02 L511.76 128.89 L512.29 128.77 L512.81 128.64 L513.33 128.52 L513.86 128.40 L514.38 128.28 L514.91 128.16 L515.43 128.05 L515.96 127.94 L516.48 127.83 L517.00 127.72 L517.53 127.62 L518.05 127.51 L518.58 127.41 L519.10 127.31 L519.63 127.21 L520.15 127.12 L520.67 127.03 L521.20 126.94 L521.72 126.85 L522.25 126.76 L522.77 126.67 L523.29 126.59 L523.82 126.51 L524.34 126.43 L524.87 126.36 L525.39 126.28 L525.92 126.21 L526.44 126.14 L526.96 126.07 L527.49 126.00 L528.01 125.94 L528.54 125.87 L529.06 125.81 L529.59 125.75 L530.11 125.70 L530.63 125.64 L531.16 125.59 L531.68 125.54 L532.21 125.49 L532.73 125.44 L533.26 125.40 L533.78 125.36 L534.30 125.32 L534.83 125.28 L535.35 125.24 L535.88 125.21 L536.40 125.18 L536.93 125.15 L537.45 125.12 L537.97 125.10 L538.50 125.07 L539.02 125.05 L539.55 125.04 L540.07 125.02 L540.60 125.01 L541.12 125.00 L541.64 124.99 L542.17 124.98 L542.69 124.98 L543.22 124.97 L543.74 124.98 L544.26 124.98 L544.79 124.98 L545.31 124.99 L545.84 125.00 L546.36 125.01 L546.89 125.03 L547.41 125.05 L547.93 125.06 L548.46 125.08 L548.98 125.11 L549.51 125.13 L550.03 125.16 L550.56 125.19 L551.08 125.22 L551.60 125.25 L552.13 125.28 L552.65 125.32 L553.18 125.36 L553.70 125.40 L554.23 125.44 L554.75 125.48 L555.27 125.53 L555.80 125.57 L556.32 125.62 L556.85 125.67 L557.37 125.72 L557.90 125.77 L558.42 125.83 L558.94 125.88 L559.47 125.94 L559.99 125.99 L560.52 126.05 L561.04 126.11 L561.57 126.18 L562.09 126.24 L562.61 126.30 L563.14 126.37 L563.66 126.44 L564.19 126.50 L564.71 126.57 L565.24 126.64 L565.76 126.71 L566.28 126.79 L566.81 126.86 L567.33 126.93 L567.86 127.01 L568.38 127.09 L568.90 127.16 L569.43 127.24 L569.95 127.32 L570.48 127.40 L571.00 127.48 L571.53 127.56 L572.05 127.64 L572.57 127.73 L573.10 127.81 L573.62 127.89 L574.15 127.97 L574.67 128.06 L575.20 128.14 L575.72 128.23 L576.24 128.31 L576.77 128.39 L577.29 128.48 L577.82 128.56 L578.34 128.65 L578.87 128.73 L579.39 128.82 L579.91 128.90 L580.44 128.98 L580.96 129.07 L581.49 129.15 L582.01 129.23 L582.54 129.31 L583.06 129.40 L583.58 129.48 L584.11 129.56 L584.63 129.64 L585.16 129.72 L585.68 129.79 L586.21 129.87 L586.73 129.95 L587.25 130.02 L587.78 130.10 L588.30 130.17 L588.83 130.24 L589.35 130.31 L589.87 130.38 L590.40 130.45 L590.92 130.52 L591.45 130.58 L591.97 130.65 L592.50 130.71 L593.02 130.77 L593.54 130.86 L594.07 130.96 L594.59 131.05 L595.12 131.15 L595.64 131.24 L596.17 131.33 L596.69 131.42 L597.21 131.50 L597.74 131.57 L598.26 131.53 L598.79 131.48 L599.31 131.43 L599.84 131.31 L600.36 131.04 L600.88 130.76 L601.41 130.35 L601.93 129.79 L602.46 129.23 L602.98 128.51 L603.51 127.67 L604.03 126.82 L604.55 125.83 L605.08 124.79 L605.60 123.74 L606.13 122.42 L606.65 121.16 L607.17 120.47 L607.70 121.16 L608.22 122.42 L608.75 123.74 L609.27 124.79 L609.80 125.83 L610.32 126.82 L610.84 127.67 L611.37 128.51 L611.89 129.23 L612.42 129.79 L612.94 130.35 L613.47 130.76 L613.99 131.04 L614.51 131.31 L615.04 131.43 L615.56 131.48 L616.09 131.53 L616.61 131.57 L617.14 131.50 L617.66 131.42 L618.18 131.33 L618.71 131.24 L619.23 131.15 L619.76 131.05 L620.28 130.96 L620.81 130.86 L621.33 130.77 L621.85 130.71 L622.38 130.65 L622.90 130.58 L623.43 130.52 L623.95 130.45 L624.48 130.38 L625.00 130.31 L625.52 130.24 L626.05 130.17 L626.57 130.10 L627.10 130.02 L627.62 129.95 L628.14 129.87 L628.67 129.79 L629.19 129.72 L629.72 129.64 L630.24 129.56 L630.77 129.48 L631.29 129.40 L631.81 129.31 L632.34 129.23 L632.86 129.15 L633.39 129.07 L633.91 128.98 L634.44 128.90 L634.96 128.82 L635.48 128.73 L636.01 128.65 L636.53 128.56 L637.06 128.48 L637.58 128.39 L638.11 128.31 L638.63 128.23 L639.15 128.14 L639.68 128.06 L640.20 127.97 L640.73 127.89 L641.25 127.81 L641.78 127.73 L642.30 127.64 L642.82 127.56 L643.35 127.48 L643.87 127.40 L644.40 127.32 L644.92 127.24 L645.45 127.16 L645.97 127.09 L646.49 127.01 L647.02 126.93 L647.54 126.86 L648.07 126.79 L648.59 126.71 L649.12 126.64 L649.64 126.57 L650.16 126.50 L650.69 126.44 L651.21 126.37 L651.74 126.30 L652.26 126.24 L652.78 126.18 L653.31 126.11 L653.83 126.05 L654.36 125.99 L654.88 125.94 L655.41 125.88 L655.93 125.83 L656.45 125.77 L656.98 125.72 L657.50 125.67 L658.03 125.62 L658.55 125.57 L659.08 125.53 L659.60 125.48 L660.12 125.44 L660.65 125.40 L661.17 125.36 L661.70 125.32 L662.22 125.28 L662.75 125.25 L663.27 125.22 L663.79 125.19 L664.32 125.16 L664.84 125.13 L665.37 125.11 L665.89 125.08 L666.42 125.06 L666.94 125.05 L667.46 125.03 L667.99 125.01 L668.51 125.00 L669.04 124.99 L669.56 124.98 L670.09 124.98 L670.61 124.98 L671.13 124.97 L671.66 124.98 L672.18 124.98 L672.71 124.99 L673.23 125.00 L673.75 125.01 L674.28 125.02 L674.80 125.04 L675.33 125.05 L675.85 125.07 L676.38 125.10 L676.90 125.12 L677.42 125.15 L677.95 125.18 L678.47 125.21 L679.00 125.24 L679.52 125.28 L680.05 125.32 L680.57 125.36 L681.09 125.40 L681.62 125.44 L682.14 125.49 L682.67 125.54 L683.19 125.59 L683.72 125.64 L684.24 125.70 L684.76 125.75 L685.29 125.81 L685.81 125.87 L686.34 125.94 L686.86 126.00 L687.39 126.07 L687.91 126.14 L688.43 126.21 L688.96 126.28 L689.48 126.36 L690.01 126.43 L690.53 126.51 L691.06 126.59 L691.58 126.67 L692.10 126.76 L692.63 126.85 L693.15 126.94 L693.68 127.03 L694.20 127.12 L694.72 127.21 L695.25 127.31 L695.77 127.41 L696.30 127.51 L696.82 127.62 L697.35 127.72 L697.87 127.83 L698.39 127.94 L698.92 128.05 L699.44 128.16 L699.97 128.28 L700.49 128.40 L701.02 128.52 L701.54 128.64 L702.06 128.77 L702.59 128.89 L703.11 129.02 L703.64 129.15 L704.16 129.29 L704.69 129.42 L705.21 129.56 L705.73 129.70 L706.26 129.84 L706.78 129.99 L707.31 130.14 L707.83 130.29 L708.36 130.44 L708.88 130.59 L709.40 130.75 L709.93 130.90 L710.45 131.06 L710.98 131.23 L711.50 131.39 L712.03 131.56 L712.55 131.72 L713.07 131.89 L713.60 132.06 L714.12 132.24 L714.65 132.41 L715.17 132.58 L715.69 132.76 L716.22 132.94 L716.74 133.12 L717.27 133.30 L717.79 133.48 L718.32 133.66 L718.84 133.85 L719.36 134.03 L719.89 134.22 L720.41 134.41 L720.94 134.59 L721.46 134.78 L721.99 134.97 L722.51 135.16 L723.03 135.35 L723.56 135.54 L724.08 135.74 L724.61 135.93 L725.13 136.12 L725.66 136.31 L726.18 136.51 L726.70 136.70 L727.23 136.89 L727.75 137.09 L728.28 137.28 L728.80 137.47 L729.33 137.67 L729.85 137.86 L730.37 138.06 L730.90 138.25 L731.42 138.45 L731.95 138.64 L732.47 138.84 L733.00 139.03 L733.52 139.23 L734.04 139.42 L734.57 139.62 L735.09 139.82 L735.62 140.02 L736.14 140.21 L736.66 140.41 L737.19 140.61 L737.71 140.81 L738.24 141.01 L738.76 141.21 L739.29 141.42 L739.81 141.62 L740.33 141.82 L740.86 142.03 L741.38 142.23 L741.91 142.44 L742.43 142.64 L742.96 142.85 L743.48 143.06 L744.00 143.27 L744.53 143.48 L745.05 143.69 L745.58 143.90 L746.10 144.12 L746.63 144.33 L747.15 144.55 L747.67 144.76 L748.20 144.98 L748.72 145.20 L749.25 145.42 L749.77 145.64 L750.30 145.87 L750.82 146.09 L751.34 146.32 L751.87 146.54 L752.39 146.77 L752.92 147.00 L753.44 147.23 L753.97 147.46 L754.49 147.70 L755.01 147.93 L755.54 148.17 L756.06 148.41 L756.59 148.65 L757.11 148.89 L757.63 149.14 L758.16 149.38 L758.68 149.63 L759.21 149.88 L759.73 150.13 L760.26 150.38 L760.78 150.64 L761.30 150.89 L761.83 151.15 L762.35 151.41 L762.88 151.67 L763.40 151.94 L763.93 152.20 L764.45 152.47" stroke="#00ff00" stroke-dasharray="1.9 1.35"/>
<path d="M449.90 152.27 L450.42 152.00 L450.95 151.72 L451.47 151.45 L452.00 151.19 L452.52 150.92 L453.05 150.65 L453.57 150.39 L454.09 150.13 L454.62 149.87 L455.14 149.61 L455.67 149.35 L456.19 149.09 L456.72 148.83 L457.24 148.58 L457.76 148.32 L458.29 148.07 L458.81 147.81 L459.34 147.56 L459.86 147.31 L460.38 147.06 L460.91 146.81 L461.43 146.56 L461.96 146.31 L462.48 146.06 L463.01 145.81 L463.53 145.56 L464.05 145.32 L464.58 145.07 L465.10 144.82 L465.63 144.57 L466.15 144.33 L466.68 144.08 L467.20 143.83 L467.72 143.58 L468.25 143.34 L468.77 143.09 L469.30 142.84 L469.82 142.59 L470.35 142.34 L470.87 142.09 L471.39 141.84 L471.92 141.59 L472.44 141.34 L472.97 141.09 L473.49 140.84 L474.02 140.59 L474.54 140.33 L475.06 140.08 L475.59 139.82 L476.11 139.57 L476.64 139.31 L477.16 139.05 L477.69 138.79 L478.21 138.53 L478.73 138.27 L479.26 138.00 L479.78 137.74 L480.31 137.47 L480.83 137.20 L481.35 136.93 L481.88 136.66 L482.40 136.39 L482.93 136.12 L483.45 135.84 L483.98 135.56 L484.50 135.28 L485.02 135.00 L485.55 134.72 L486.07 134.43 L486.60 134.14 L487.12 133.85 L487.65 133.56 L488.17 133.27 L488.69 132.97 L489.22 132.67 L489.74 132.37 L490.27 132.07 L490.79 131.77 L491.32 131.46 L491.84 131.16 L492.36 130.85 L492.89 130.54 L493.41 130.23 L493.94 129.92 L494.46 129.61 L494.99 129.29 L495.51 128.98 L496.03 128.66 L496.56 128.35 L497.08 128.03 L497.61 127.71 L498.13 127.40 L498.66 127.08 L499.18 126.76 L499.70 126.44 L500.23 126.12 L500.75 125.80 L501.28 125.48 L501.80 125.16 L502.32 124.85 L502.85 124.53 L503.37 124.21 L503.90 123.89 L504.42 123.57 L504.95 123.26 L505.47 122.94 L505.99 122.62 L506.52 122.31 L507.04 122.00 L507.57 121.68 L508.09 121.37 L508.62 121.06 L509.14 120.75 L509.66 120.44 L510.19 120.13 L510.71 119.83 L511.24 119.52 L511.76 119.22 L512.29 118.92 L512.81 118.62 L513.33 118.32 L513.86 118.02 L514.38 117.73 L514.91 117.43 L515.43 117.14 L515.96 116.85 L516.48 116.56 L517.00 116.27 L517.53 115.99 L518.05 115.71 L518.58 115.43 L519.10 115.15 L519.63 114.87 L520.15 114.60 L520.67 114.32 L521.20 114.05 L521.72 113.79 L522.25 113.52 L522.77 113.26 L523.29 113.00 L523.82 112.74 L524.34 112.49 L524.87 112.24 L525.39 111.99 L525.92 111.74 L526.44 111.50 L526.96 111.25 L527.49 111.02 L528.01 110.78 L528.54 110.55 L529.06 110.32 L529.59 110.09 L530.11 109.87 L530.63 109.65 L531.16 109.43 L531.68 109.22 L532.21 109.01 L532.73 108.80 L533.26 108.60 L533.78 108.40 L534.30 108.20 L534.83 108.00 L535.35 107.81 L535.88 107.62 L536.40 107.44 L536.93 107.25 L537.45 107.08 L537.97 106.90 L538.50 106.73 L539.02 106.56 L539.55 106.39 L540.07 106.23 L540.60 106.07 L541.12 105.92 L541.64 105.77 L542.17 105.62 L542.69 105.48 L543.22 105.34 L543.74 105.20 L544.26 105.07 L544.79 104.94 L545.31 104.82 L545.84 104.71 L546.36 104.59 L546.89 104.49 L547.41 104.38 L547.93 104.29 L548.46 104.19 L548.98 104.11 L549.51 104.02 L550.03 103.94 L550.56 103.86 L551.08 103.79 L551.60 103.72 L552.13 103.66 L552.65 103.59 L553.18 103.53 L553.70 103.48 L554.23 103.42 L554.75 103.37 L555.27 103.32 L555.80 103.27 L556.32 103.22 L556.85 103.17 L557.37 103.13 L557.90 103.08 L558.42 103.04 L558.94 103.00 L559.47 102.95 L559.99 102.91 L560.52 102.88 L561.04 102.84 L561.57 102.81 L562.09 102.78 L562.61 102.75 L563.14 102.73 L563.66 102.71 L564.19 102.69 L564.71 102.68 L565.24 102.68 L565.76 102.68 L566.28 102.68 L566.81 102.69 L567.33 102.70 L567.86 102.72 L568.38 102.74 L568.90 102.76 L569.43 102.79 L569.95 102.82 L570.48 102.85 L571.00 102.88 L571.53 102.92 L572.05 102.96 L572.57 103.00 L573.10 103.04 L573.62 103.09 L574.15 103.13 L574.67 103.17 L575.20 103.22 L575.72 103.26 L576.24 103.31 L576.77 103.35 L577.29 103.40 L577.82 103.44 L578.34 103.49 L578.87 103.53 L579.39 103.58 L579.91 103.63 L580.44 103.67 L580.96 103.72 L581.49 103.77 L582.01 103.82 L582.54 103.87 L583.06 103.92 L583.58 103.98 L584.11 104.03 L584.63 104.09 L585.16 104.14 L585.68 104.20 L586.21 104.26 L586.73 104.33 L587.25 104.39 L587.78 104.46 L588.30 104.53 L588.83 104.60 L589.35 104.68 L589.87 104.75 L590.40 104.83 L590.92 104.91 L591.45 105.00 L591.97 105.09 L592.50 105.18 L593.02 105.27 L593.54 105.41 L594.07 105.56 L594.59 105.71 L595.12 105.86 L595.64 106.01 L596.17 106.16 L596.69 106.31 L597.21 106.46 L597.74 106.59 L598.26 106.55 L598.79 106.52 L599.31 106.48 L599.84 106.34 L600.36 105.98 L600.88 105.61 L601.41 105.07 L601.93 104.32 L602.46 103.56 L602.98 102.58 L603.51 101.43 L604.03 100.28 L604.55 98.93 L605.08 97.50 L605.60 96.07 L606.13 94.26 L606.65 92.52 L607.17 91.58 L607.70 92.52 L608.22 94.26 L608.75 96.07 L609.27 97.50 L609.80 98.93 L610.32 100.28 L610.84 101.43 L611.37 102.58 L611.89 103.56 L612.42 104.32 L612.94 105.07 L613.47 105.61 L613.99 105.98 L614.51 106.34 L615.04 106.48 L615.56 106.52 L616.09 106.55 L616.61 106.59 L617.14 106.46 L617.66 106.31 L618.18 106.16 L618.71 106.01 L619.23 105.86 L619.76 105.71 L620.28 105.56 L620.81 105.41 L621.33 105.27 L621.85 105.18 L622.38 105.09 L622.90 105.00 L623.43 104.91 L623.95 104.83 L624.48 104.75 L625.00 104.68 L625.52 104.60 L626.05 104.53 L626.57 104.46 L627.10 104.39 L627.62 104.33 L628.14 104.26 L628.67 104.20 L629.19 104.14 L629.72 104.09 L630.24 104.03 L630.77 103.98 L631.29 103.92 L631.81 103.87 L632.34 103.82 L632.86 103.77 L633.39 103.72 L633.91 103.67 L634.44 103.63 L634.96 103.58 L635.48 103.53 L636.01 103.49 L636.53 103.44 L637.06 103.40 L637.58 103.35 L638.11 103.31 L638.63 103.26 L639.15 103.22 L639.68 103.17 L640.20 103.13 L640.73 103.09 L641.25 103.04 L641.78 103.00 L642.30 102.96 L642.82 102.92 L643.35 102.88 L643.87 102.85 L644.40 102.82 L644.92 102.79 L645.45 102.76 L645.97 102.74 L646.49 102.72 L647.02 102.70 L647.54 102.69 L648.07 102.68 L648.59 102.68 L649.12 102.68 L649.64 102.68 L650.16 102.69 L650.69 102.71 L651.21 102.73 L651.74 102.75 L652.26 102.78 L652.78 102.81 L653.31 102.84 L653.83 102.88 L654.36 102.91 L654.88 102.95 L655.41 103.00 L655.93 103.04 L656.45 103.08 L656.98 103.13 L657.50 103.17 L658.03 103.22 L658.55 103.27 L659.08 103.32 L659.60 103.37 L660.12 103.42 L660.65 103.48 L661.17 103.53 L661.70 103.59 L662.22 103.66 L662.75 103.72 L663.27 103.79 L663.79 103.86 L664.32 103.94 L664.84 104.02 L665.37 104.11 L665.89 104.19 L666.42 104.29 L666.94 104.38 L667.46 104.49 L667.99 104.59 L668.51 104.71 L669.04 104.82 L669.56 104.94 L670.09 105.07 L670.61 105.20 L671.13 105.34 L671.66 105.48 L672.18 105.62 L672.71 105.77 L673.23 105.92 L673.75 106.07 L674.28 106.23 L674.80 106.39 L675.33 106.56 L675.85 106.73 L676.38 106.90 L676.90 107.08 L677.42 107.25 L677.95 107.44 L678.47 107.62 L679.00 107.81 L679.52 108.00 L680.05 108.20 L680.57 108.40 L681.09 108.60 L681.62 108.80 L682.14 109.01 L682.67 109.22 L683.19 109.43 L683.72 109.65 L684.24 109.87 L684.76 110.09 L685.29 110.32 L685.81 110.55 L686.34 110.78 L686.86 111.02 L687.39 111.25 L687.91 111.50 L688.43 111.74 L688.96 111.99 L689.48 112.24 L690.01 112.49 L690.53 112.74 L691.06 113.00 L691.58 113.26 L692.10 113.52 L692.63 113.79 L693.15 114.05 L693.68 114.32 L694.20 114.60 L694.72 114.87 L695.25 115.15 L695.77 115.43 L696.30 115.71 L696.82 115.99 L697.35 116.27 L697.87 116.56 L698.39 116.85 L698.92 117.14 L699.44 117.43 L699.97 117.73 L700.49 118.02 L701.02 118.32 L701.54 118.62 L702.06 118.92 L702.59 119.22 L703.11 119.52 L703.64 119.83 L704.16 120.13 L704.69 120.44 L705.21 120.75 L705.73 121.06 L706.26 121.37 L706.78 121.68 L707.31 122.00 L707.83 122.31 L708.36 122.62 L708.88 122.94 L709.40 123.26 L709.93 123.57 L710.45 123.89 L710.98 124.21 L711.50 124.53 L712.03 124.85 L712.55 125.16 L713.07 125.48 L713.60 125.80 L714.12 126.12 L714.65 126.44 L715.17 126.76 L715.69 127.08 L716.22 127.40 L716.74 127.71 L717.27 128.03 L717.79 128.35 L718.32 128.66 L718.84 128.98 L719.36 129.29 L719.89 129.61 L720.41 129.92 L720.94 130.23 L721.46 130.54 L721.99 130.85 L722.51 131.16 L723.03 131.46 L723.56 131.77 L724.08 132.07 L724.61 132.37 L725.13 132.67 L725.66 132.97 L726.18 133.27 L726.70 133.56 L727.23 133.85 L727.75 134.14 L728.28 134.43 L728.80 134.72 L729.33 135.00 L729.85 135.28 L730.37 135.56 L730.90 135.84 L731.42 136.12 L731.95 136.39 L732.47 136.66 L733.00 136.93 L733.52 137.20 L734.04 137.47 L734.57 137.74 L735.09 138.00 L735.62 138.27 L736.14 138.53 L736.66 138.79 L737.19 139.05 L737.71 139.31 L738.24 139.57 L738.76 139.82 L739.29 140.08 L739.81 140.33 L740.33 140.59 L740.86 140.84 L741.38 141.09 L741.91 141.34 L742.43 141.59 L742.96 141.84 L743.48 142.09 L744.00 142.34 L744.53 142.59 L745.05 142.84 L745.58 143.09 L746.10 143.34 L746.63 143.58 L747.15 143.83 L747.67 144.08 L748.20 144.33 L748.72 144.57 L749.25 144.82 L749.77 145.07 L750.30 145.32 L750.82 145.56 L751.34 145.81 L751.87 146.06 L752.39 146.31 L752.92 146.56 L753.44 146.81 L753.97 147.06 L754.49 147.31 L755.01 147.56 L755.54 147.81 L756.06 148.07 L756.59 148.32 L757.11 148.58 L757.63 148.83 L758.16 149.09 L758.68 149.35 L759.21 149.61 L759.73 149.87 L760.26 150.13 L760.78 150.39 L761.30 150.65 L761.83 150.92 L762.35 151.19 L762.88 151.45 L763.40 151.72 L763.93 152.00 L764.45 152.27" stroke="#0000ff" stroke-dasharray="1.1 1.4"/>
<path d="M449.90 152.27 L450.42 151.98 L450.95 151.70 L451.47 151.42 L452.00 151.14 L452.52 150.87 L453.05 150.59 L453.57 150.32 L454.09 150.05 L454.62 149.79 L455.14 149.52 L455.67 149.26 L456.19 149.00 L456.72 148.74 L457.24 148.48 L457.76 148.22 L458.29 147.96 L458.81 147.71 L459.34 147.45 L459.86 147.20 L460.38 146.95 L460.91 146.70 L461.43 146.45 L461.96 146.20 L462.48 145.95 L463.01 145.70 L463.53 145.46 L464.05 145.21 L464.58 144.96 L465.10 144.72 L465.63 144.47 L466.15 144.22 L466.68 143.98 L467.20 143.73 L467.72 143.48 L468.25 143.24 L468.77 142.99 L469.30 142.74 L469.82 142.49 L470.35 142.25 L470.87 142.00 L471.39 141.75 L471.92 141.49 L472.44 141.24 L472.97 140.99 L473.49 140.73 L474.02 140.48 L474.54 140.22 L475.06 139.96 L475.59 139.70 L476.11 139.44 L476.64 139.18 L477.16 138.92 L477.69 138.65 L478.21 138.38 L478.73 138.11 L479.26 137.84 L479.78 137.56 L480.31 137.29 L480.83 137.01 L481.35 136.73 L481.88 136.44 L482.40 136.15 L482.93 135.86 L483.45 135.57 L483.98 135.28 L484.50 134.98 L485.02 134.68 L485.55 134.38 L486.07 134.07 L486.60 133.76 L487.12 133.44 L487.65 133.13 L488.17 132.81 L488.69 132.48 L489.22 132.16 L489.74 131.83 L490.27 131.50 L490.79 131.16 L491.32 130.83 L491.84 130.49 L492.36 130.15 L492.89 129.80 L493.41 129.46 L493.94 129.11 L494.46 128.76 L494.99 128.41 L495.51 128.06 L496.03 127.71 L496.56 127.36 L497.08 127.00 L497.61 126.65 L498.13 126.29 L498.66 125.94 L499.18 125.58 L499.70 125.22 L500.23 124.87 L500.75 124.51 L501.28 124.16 L501.80 123.80 L502.32 123.44 L502.85 123.09 L503.37 122.73 L503.90 122.38 L504.42 122.03 L504.95 121.68 L505.47 121.33 L505.99 120.98 L506.52 120.63 L507.04 120.29 L507.57 119.95 L508.09 119.60 L508.62 119.26 L509.14 118.92 L509.66 118.59 L510.19 118.25 L510.71 117.91 L511.24 117.58 L511.76 117.24 L512.29 116.91 L512.81 116.57 L513.33 116.24 L513.86 115.90 L514.38 115.57 L514.91 115.23 L515.43 114.90 L515.96 114.56 L516.48 114.22 L517.00 113.89 L517.53 113.55 L518.05 113.20 L518.58 112.86 L519.10 112.52 L519.63 112.17 L520.15 111.82 L520.67 111.47 L521.20 111.12 L521.72 110.76 L522.25 110.41 L522.77 110.05 L523.29 109.68 L523.82 109.32 L524.34 108.95 L524.87 108.57 L525.39 108.19 L525.92 107.81 L526.44 107.43 L526.96 107.04 L527.49 106.65 L528.01 106.25 L528.54 105.85 L529.06 105.45 L529.59 105.05 L530.11 104.64 L530.63 104.24 L531.16 103.83 L531.68 103.43 L532.21 103.03 L532.73 102.63 L533.26 102.23 L533.78 101.84 L534.30 101.45 L534.83 101.06 L535.35 100.68 L535.88 100.31 L536.40 99.94 L536.93 99.58 L537.45 99.22 L537.97 98.88 L538.50 98.54 L539.02 98.21 L539.55 97.90 L540.07 97.59 L540.60 97.30 L541.12 97.01 L541.64 96.73 L542.17 96.47 L542.69 96.21 L543.22 95.95 L543.74 95.70 L544.26 95.46 L544.79 95.22 L545.31 94.99 L545.84 94.76 L546.36 94.53 L546.89 94.30 L547.41 94.07 L547.93 93.84 L548.46 93.61 L548.98 93.38 L549.51 93.15 L550.03 92.93 L550.56 92.71 L551.08 92.49 L551.60 92.28 L552.13 92.06 L552.65 91.86 L553.18 91.65 L553.70 91.45 L554.23 91.26 L554.75 91.07 L555.27 90.89 L555.80 90.72 L556.32 90.55 L556.85 90.39 L557.37 90.23 L557.90 90.09 L558.42 89.95 L558.94 89.82 L559.47 89.70 L559.99 89.59 L560.52 89.48 L561.04 89.38 L561.57 89.28 L562.09 89.19 L562.61 89.10 L563.14 89.02 L563.66 88.94 L564.19 88.86 L564.71 88.79 L565.24 88.71 L565.76 88.64 L566.28 88.57 L566.81 88.50 L567.33 88.43 L567.86 88.36 L568.38 88.28 L568.90 88.21 L569.43 88.14 L569.95 88.07 L570.48 88.01 L571.00 87.94 L571.53 87.88 L572.05 87.82 L572.57 87.76 L573.10 87.71 L573.62 87.66 L574.15 87.62 L574.67 87.58 L575.20 87.55 L575.72 87.52 L576.24 87.50 L576.77 87.49 L577.29 87.48 L577.82 87.48 L578.34 87.48 L578.87 87.50 L579.39 87.51 L579.91 87.54 L580.44 87.57 L580.96 87.60 L581.49 87.64 L582.01 87.68 L582.54 87.73 L583.06 87.78 L583.58 87.84 L584.11 87.90 L584.63 87.96 L585.16 88.02 L585.68 88.09 L586.21 88.16 L586.73 88.23 L587.25 88.31 L587.78 88.38 L588.30 88.46 L588.83 88.53 L589.35 88.61 L589.87 88.69 L590.40 88.76 L590.92 88.84 L591.45 88.92 L591.97 88.99 L592.50 89.06 L593.02 89.14 L593.54 89.26 L594.07 89.40 L594.59 89.53 L595.12 89.67 L595.64 89.80 L596.17 89.94 L596.69 90.07 L597.21 90.19 L597.74 90.29 L598.26 90.19 L598.79 90.09 L599.31 89.99 L599.84 89.76 L600.36 89.25 L600.88 88.74 L601.41 88.01 L601.93 87.01 L602.46 86.01 L602.98 84.72 L603.51 83.22 L604.03 81.72 L604.55 79.97 L605.08 78.12 L605.60 76.27 L606.13 73.93 L606.65 71.69 L607.17 70.48 L607.70 71.69 L608.22 73.93 L608.75 76.27 L609.27 78.12 L609.80 79.97 L610.32 81.72 L610.84 83.22 L611.37 84.72 L611.89 86.01 L612.42 87.01 L612.94 88.01 L613.47 88.74 L613.99 89.25 L614.51 89.76 L615.04 89.99 L615.56 90.09 L616.09 90.19 L616.61 90.29 L617.14 90.19 L617.66 90.07 L618.18 89.94 L618.71 89.80 L619.23 89.67 L619.76 89.53 L620.28 89.40 L620.81 89.26 L621.33 89.14 L621.85 89.06 L622.38 88.99 L622.90 88.92 L623.43 88.84 L623.95 88.76 L624.48 88.69 L625.00 88.61 L625.52 88.53 L626.05 88.46 L626.57 88.38 L627.10 88.31 L627.62 88.23 L628.14 88.16 L628.67 88.09 L629.19 88.02 L629.72 87.96 L630.24 87.90 L630.77 87.84 L631.29 87.78 L631.81 87.73 L632.34 87.68 L632.86 87.64 L633.39 87.60 L633.91 87.57 L634.44 87.54 L634.96 87.51 L635.48 87.50 L636.01 87.48 L636.53 87.48 L637.06 87.48 L637.58 87.49 L638.11 87.50 L638.63 87.52 L639.15 87.55 L639.68 87.58 L640.20 87.62 L640.73 87.66 L641.25 87.71 L641.78 87.76 L642.30 87.82 L642.82 87.88 L643.35 87.94 L643.87 88.01 L644.40 88.07 L644.92 88.14 L645.45 88.21 L645.97 88.28 L646.49 88.36 L647.02 88.43 L647.54 88.50 L648.07 88.57 L648.59 88.64 L649.12 88.71 L649.64 88.79 L650.16 88.86 L650.69 88.94 L651.21 89.02 L651.74 89.10 L652.26 89.19 L652.78 89.28 L653.31 89.38 L653.83 89.48 L654.36 89.59 L654.88 89.70 L655.41 89.82 L655.93 89.95 L656.45 90.09 L656.98 90.23 L657.50 90.39 L658.03 90.55 L658.55 90.72 L659.08 90.89 L659.60 91.07 L660.12 91.26 L660.65 91.45 L661.17 91.65 L661.70 91.86 L662.22 92.06 L662.75 92.28 L663.27 92.49 L663.79 92.71 L664.32 92.93 L664.84 93.15 L665.37 93.38 L665.89 93.61 L666.42 93.84 L666.94 94.07 L667.46 94.30 L667.99 94.53 L668.51 94.76 L669.04 94.99 L669.56 95.22 L670.09 95.46 L670.61 95.70 L671.13 95.95 L671.66 96.21 L672.18 96.47 L672.71 96.73 L673.23 97.01 L673.75 97.30 L674.28 97.59 L674.80 97.90 L675.33 98.21 L675.85 98.54 L676.38 98.88 L676.90 99.22 L677.42 99.58 L677.95 99.94 L678.47 100.31 L679.00 100.68 L679.52 101.06 L680.05 101.45 L680.57 101.84 L681.09 102.23 L681.62 102.63 L682.14 103.03 L682.67 103.43 L683.19 103.83 L683.72 104.24 L684.24 104.64 L684.76 105.05 L685.29 105.45 L685.81 105.85 L686.34 106.25 L686.86 106.65 L687.39 107.04 L687.91 107.43 L688.43 107.81 L688.96 108.19 L689.48 108.57 L690.01 108.95 L690.53 109.32 L691.06 109.68 L691.58 110.05 L692.10 110.41 L692.63 110.76 L693.15 111.12 L693.68 111.47 L694.20 111.82 L694.72 112.17 L695.25 112.52 L695.77 112.86 L696.30 113.20 L696.82 113.55 L697.35 113.89 L697.87 114.22 L698.39 114.56 L698.92 114.90 L699.44 115.23 L699.97 115.57 L700.49 115.90 L701.02 116.24 L701.54 116.57 L702.06 116.91 L702.59 117.24 L703.11 117.58 L703.64 117.91 L704.16 118.25 L704.69 118.59 L705.21 118.92 L705.73 119.26 L706.26 119.60 L706.78 119.95 L707.31 120.29 L707.83 120.63 L708.36 120.98 L708.88 121.33 L709.40 121.68 L709.93 122.03 L710.45 122.38 L710.98 122.73 L711.50 123.09 L712.03 123.44 L712.55 123.80 L713.07 124.16 L713.60 124.51 L714.12 124.87 L714.65 125.22 L715.17 125.58 L715.69 125.94 L716.22 126.29 L716.74 126.65 L717.27 127.00 L717.79 127.36 L718.32 127.71 L718.84 128.06 L719.36 128.41 L719.89 128.76 L720.41 129.11 L720.94 129.46 L721.46 129.80 L721.99 130.15 L722.51 130.49 L723.03 130.83 L723.56 131.16 L724.08 131.50 L724.61 131.83 L725.13 132.16 L725.66 132.48 L726.18 132.81 L726.70 133.13 L727.23 133.44 L727.75 133.76 L728.28 134.07 L728.80 134.38 L729.33 134.68 L729.85 134.98 L730.37 135.28 L730.90 135.57 L731.42 135.86 L731.95 136.15 L732.47 136.44 L733.00 136.73 L733.52 137.01 L734.04 137.29 L734.57 137.56 L735.09 137.84 L735.62 138.11 L736.14 138.38 L736.66 138.65 L737.19 138.92 L737.71 139.18 L738.24 139.44 L738.76 139.70 L739.29 139.96 L739.81 140.22 L740.33 140.48 L740.86 140.73 L741.38 140.99 L741.91 141.24 L742.43 141.49 L742.96 141.75 L743.48 142.00 L744.00 142.25 L744.53 142.49 L745.05 142.74 L745.58 142.99 L746.10 143.24 L746.63 143.48 L747.15 143.73 L747.67 143.98 L748.20 144.22 L748.72 144.47 L749.25 144.72 L749.77 144.96 L750.30 145.21 L750.82 145.46 L751.34 145.70 L751.87 145.95 L752.39 146.20 L752.92 146.45 L753.44 146.70 L753.97 146.95 L754.49 147.20 L755.01 147.45 L755.54 147.71 L756.06 147.96 L756.59 148.22 L757.11 148.48 L757.63 148.74 L758.16 149.00 L758.68 149.26 L759.21 149.52 L759.73 149.79 L760.26 150.05 L760.78 150.32 L761.30 150.59 L761.83 150.87 L762.35 151.14 L762.88 151.42 L763.40 151.70 L763.93 151.98 L764.45 152.27" stroke="#ff80ff" stroke-width="2.1"/>
<path d="M449.90 152.27 L450.42 151.98 L450.95 151.70 L451.47 151.42 L452.00 151.14 L452.52 150.87 L453.05 150.59 L453.57 150.32 L454.09 150.05 L454.62 149.79 L455.14 149.52 L455.67 149.26 L456.19 149.00 L456.72 148.74 L457.24 148.48 L457.76 148.22 L458.29 147.96 L458.81 147.71 L459.34 147.45 L459.86 147.20 L460.38 146.95 L460.91 146.70 L461.43 146.45 L461.96 146.20 L462.48 145.95 L463.01 145.70 L463.53 145.46 L464.05 145.21 L464.58 144.96 L465.10 144.72 L465.63 144.47 L466.15 144.22 L466.68 143.98 L467.20 143.73 L467.72 143.48 L468.25 143.24 L468.77 142.99 L469.30 142.74 L469.82 142.49 L470.35 142.25 L470.87 142.00 L471.39 141.75 L471.92 141.49 L472.44 141.24 L472.97 140.99 L473.49 140.73 L474.02 140.48 L474.54 140.22 L475.06 139.96 L475.59 139.70 L476.11 139.44 L476.64 139.18 L477.16 138.92 L477.69 138.65 L478.21 138.38 L478.73 138.11 L479.26 137.84 L479.78 137.56 L480.31 137.29 L480.83 137.01 L481.35 136.73 L481.88 136.44 L482.40 136.15 L482.93 135.86 L483.45 135.57 L483.98 135.28 L484.50 134.98 L485.02 134.68 L485.55 134.38 L486.07 134.07 L486.60 133.76 L487.12 133.44 L487.65 133.13 L488.17 132.81 L488.69 132.48 L489.22 132.16 L489.74 131.83 L490.27 131.50 L490.79 131.16 L491.32 130.83 L491.84 130.49 L492.36 130.15 L492.89 129.80 L493.41 129.46 L493.94 129.11 L494.46 128.76 L494.99 128.41 L495.51 128.06 L496.03 127.71 L496.56 127.36 L497.08 127.00 L497.61 126.65 L498.13 126.29 L498.66 125.94 L499.18 125.58 L499.70 125.22 L500.23 124.87 L500.75 124.51 L501.28 124.16 L501.80 123.80 L502.32 123.44 L502.85 123.09 L503.37 122.73 L503.90 122.38 L504.42 122.03 L504.95 121.68 L505.47 121.33 L505.99 120.98 L506.52 120.63 L507.04 120.29 L507.57 119.95 L508.09 119.60 L508.62 119.26 L509.14 118.92 L509.66 118.59 L510.19 118.25 L510.71 117.91 L511.24 117.58 L511.76 117.24 L512.29 116.91 L512.81 116.57 L513.33 116.24 L513.86 115.90 L514.38 115.57 L514.91 115.23 L515.43 114.90 L515.96 114.56 L516.48 114.22 L517.00 113.89 L517.53 113.55 L518.05 113.20 L518.58 112.86 L519.10 112.52 L519.63 112.17 L520.15 111.82 L520.67 111.47 L521.20 111.12 L521.72 110.76 L522.25 110.41 L522.77 110.05 L523.29 109.68 L523.82 109.32 L524.34 108.95 L524.87 108.57 L525.39 108.19 L525.92 107.81 L526.44 107.43 L526.96 107.04 L527.49 106.65 L528.01 106.25 L528.54 105.85 L529.06 105.45 L529.59 105.05 L530.11 104.64 L530.63 104.24 L531.16 103.83 L531.68 103.43 L532.21 103.03 L532.73 102.63 L533.26 102.23 L533.78 101.84 L534.30 101.45 L534.83 101.06 L535.35 100.68 L535.88 100.31 L536.40 99.94 L536.93 99.58 L537.45 99.22 L537.97 98.88 L538.50 98.54 L539.02 98.21 L539.55 97.90 L540.07 97.59 L540.60 97.30 L541.12 97.01 L541.64 96.73 L542.17 96.47 L542.69 96.21 L543.22 95.95 L543.74 95.70 L544.26 95.46 L544.79 95.22 L545.31 94.99 L545.84 94.76 L546.36 94.53 L546.89 94.30 L547.41 94.07 L547.93 93.84 L548.46 93.61 L548.98 93.38 L549.51 93.15 L550.03 92.93 L550.56 92.71 L551.08 92.49 L551.60 92.28 L552.13 92.06 L552.65 91.86 L553.18 91.65 L553.70 91.45 L554.23 91.26 L554.75 91.07 L555.27 90.89 L555.80 90.72 L556.32 90.55 L556.85 90.39 L557.37 90.23 L557.90 90.09 L558.42 89.95 L558.94 89.82 L559.47 89.70 L559.99 89.59 L560.52 89.48 L561.04 89.38 L561.57 89.28 L562.09 89.19 L562.61 89.10 L563.14 89.02 L563.66 88.94 L564.19 88.86 L564.71 88.79 L565.24 88.71 L565.76 88.64 L566.28 88.57 L566.81 88.50 L567.33 88.43 L567.86 88.36 L568.38 88.28 L568.90 88.21 L569.43 88.14 L569.95 88.07 L570.48 88.01 L571.00 87.94 L571.53 87.88 L572.05 87.82 L572.57 87.76 L573.10 87.71 L573.62 87.66 L574.15 87.62 L574.67 87.58 L575.20 87.55 L575.72 87.52 L576.24 87.50 L576.77 87.49 L577.29 87.48 L577.82 87.48 L578.34 87.48 L578.87 87.50 L579.39 87.51 L579.91 87.54 L580.44 87.57 L580.96 87.60 L581.49 87.64 L582.01 87.68 L582.54 87.73 L583.06 87.78 L583.58 87.84 L584.11 87.90 L584.63 87.96 L585.16 88.02 L585.68 88.09 L586.21 88.16 L586.73 88.23 L587.25 88.31 L587.78 88.38 L588.30 88.46 L588.83 88.53 L589.35 88.61 L589.87 88.69 L590.40 88.76 L590.92 88.84 L591.45 88.92 L591.97 88.99 L592.50 89.06 L593.02 89.14 L593.54 89.26 L594.07 89.40 L594.59 89.53 L595.12 89.67 L595.64 89.80 L596.17 89.94 L596.69 90.07 L597.21 90.19 L597.74 90.29 L598.26 90.19 L598.79 90.09 L599.31 89.99 L599.84 89.76 L600.36 89.25 L600.88 88.74 L601.41 88.01 L601.93 87.01 L602.46 86.01 L602.98 84.72 L603.51 83.22 L604.03 81.72 L604.55 79.97 L605.08 78.12 L605.60 76.27 L606.13 73.93 L606.65 71.69 L607.17 70.48 L607.70 71.69 L608.22 73.93 L608.75 76.27 L609.27 78.12 L609.80 79.97 L610.32 81.72 L610.84 83.22 L611.37 84.72 L611.89 86.01 L612.42 87.01 L612.94 88.01 L613.47 88.74 L613.99 89.25 L614.51 89.76 L615.04 89.99 L615.56 90.09 L616.09 90.19 L616.61 90.29 L617.14 90.19 L617.66 90.07 L618.18 89.94 L618.71 89.80 L619.23 89.67 L619.76 89.53 L620.28 89.40 L620.81 89.26 L621.33 89.14 L621.85 89.06 L622.38 88.99 L622.90 88.92 L623.43 88.84 L623.95 88.76 L624.48 88.69 L625.00 88.61 L625.52 88.53 L626.05 88.46 L626.57 88.38 L627.10 88.31 L627.62 88.23 L628.14 88.16 L628.67 88.09 L629.19 88.02 L629.72 87.96 L630.24 87.90 L630.77 87.84 L631.29 87.78 L631.81 87.73 L632.34 87.68 L632.86 87.64 L633.39 87.60 L633.91 87.57 L634.44 87.54 L634.96 87.51 L635.48 87.50 L636.01 87.48 L636.53 87.48 L637.06 87.48 L637.58 87.49 L638.11 87.50 L638.63 87.52 L639.15 87.55 L639.68 87.58 L640.20 87.62 L640.73 87.66 L641.25 87.71 L641.78 87.76 L642.30 87.82 L642.82 87.88 L643.35 87.94 L643.87 88.01 L644.40 88.07 L644.92 88.14 L645.45 88.21 L645.97 88.28 L646.49 88.36 L647.02 88.43 L647.54 88.50 L648.07 88.57 L648.59 88.64 L649.12 88.71 L649.64 88.79 L650.16 88.86 L650.69 88.94 L651.21 89.02 L651.74 89.10 L652.26 89.19 L652.78 89.28 L653.31 89.38 L653.83 89.48 L654.36 89.59 L654.88 89.70 L655.41 89.82 L655.93 89.95 L656.45 90.09 L656.98 90.23 L657.50 90.39 L658.03 90.55 L658.55 90.72 L659.08 90.89 L659.60 91.07 L660.12 91.26 L660.65 91.45 L661.17 91.65 L661.70 91.86 L662.22 92.06 L662.75 92.28 L663.27 92.49 L663.79 92.71 L664.32 92.93 L664.84 93.15 L665.37 93.38 L665.89 93.61 L666.42 93.84 L666.94 94.07 L667.46 94.30 L667.99 94.53 L668.51 94.76 L669.04 94.99 L669.56 95.22 L670.09 95.46 L670.61 95.70 L671.13 95.95 L671.66 96.21 L672.18 96.47 L672.71 96.73 L673.23 97.01 L673.75 97.30 L674.28 97.59 L674.80 97.90 L675.33 98.21 L675.85 98.54 L676.38 98.88 L676.90 99.22 L677.42 99.58 L677.95 99.94 L678.47 100.31 L679.00 100.68 L679.52 101.06 L680.05 101.45 L680.57 101.84 L681.09 102.23 L681.62 102.63 L682.14 103.03 L682.67 103.43 L683.19 103.83 L683.72 104.24 L684.24 104.64 L684.76 105.05 L685.29 105.45 L685.81 105.85 L686.34 106.25 L686.86 106.65 L687.39 107.04 L687.91 107.43 L688.43 107.81 L688.96 108.19 L689.48 108.57 L690.01 108.95 L690.53 109.32 L691.06 109.68 L691.58 110.05 L692.10 110.41 L692.63 110.76 L693.15 111.12 L693.68 111.47 L694.20 111.82 L694.72 112.17 L695.25 112.52 L695.77 112.86 L696.30 113.20 L696.82 113.55 L697.35 113.89 L697.87 114.22 L698.39 114.56 L698.92 114.90 L699.44 115.23 L699.97 115.57 L700.49 115.90 L701.02 116.24 L701.54 116.57 L702.06 116.91 L702.59 117.24 L703.11 117.58 L703.64 117.91 L704.16 118.25 L704.69 118.59 L705.21 118.92 L705.73 119.26 L706.26 119.60 L706.78 119.95 L707.31 120.29 L707.83 120.63 L708.36 120.98 L708.88 121.33 L709.40 121.68 L709.93 122.03 L710.45 122.38 L710.98 122.73 L711.50 123.09 L712.03 123.44 L712.55 123.80 L713.07 124.16 L713.60 124.51 L714.12 124.87 L714.65 125.22 L715.17 125.58 L715.69 125.94 L716.22 126.29 L716.74 126.65 L717.27 127.00 L717.79 127.36 L718.32 127.71 L718.84 128.06 L719.36 128.41 L719.89 128.76 L720.41 129.11 L720.94 129.46 L721.46 129.80 L721.99 130.15 L722.51 130.49 L723.03 130.83 L723.56 131.16 L724.08 131.50 L724.61 131.83 L725.13 132.16 L725.66 132.48 L726.18 132.81 L726.70 133.13 L727.23 133.44 L727.75 133.76 L728.28 134.07 L728.80 134.38 L729.33 134.68 L729.85 134.98 L730.37 135.28 L730.90 135.57 L731.42 135.86 L731.95 136.15 L732.47 136.44 L733.00 136.73 L733.52 137.01 L734.04 137.29 L734.57 137.56 L735.09 137.84 L735.62 138.11 L736.14 138.38 L736.66 138.65 L737.19 138.92 L737.71 139.18 L738.24 139.44 L738.76 139.70 L739.29 139.96 L739.81 140.22 L740.33 140.48 L740.86 140.73 L741.38 140.99 L741.91 141.24 L742.43 141.49 L742.96 141.75 L743.48 142.00 L744.00 142.25 L744.53 142.49 L745.05 142.74 L745.58 142.99 L746.10 143.24 L746.63 143.48 L747.15 143.73 L747.67 143.98 L748.20 144.22 L748.72 144.47 L749.25 144.72 L749.77 144.96 L750.30 145.21 L750.82 145.46 L751.34 145.70 L751.87 145.95 L752.39 146.20 L752.92 146.45 L753.44 146.70 L753.97 146.95 L754.49 147.20 L755.01 147.45 L755.54 147.71 L756.06 147.96 L756.59 148.22 L757.11 148.48 L757.63 148.74 L758.16 149.00 L758.68 149.26 L759.21 149.52 L759.73 149.79 L760.26 150.05 L760.78 150.32 L761.30 150.59 L761.83 150.87 L762.35 151.14 L762.88 151.42 L763.40 151.70 L763.93 151.98 L764.45 152.27" stroke="#ff40ff" stroke-dasharray="2.3 1.65"/>
<path d="M449.90 152.27 L450.42 151.98 L450.95 151.70 L451.47 151.42 L452.00 151.14 L452.52 150.86 L453.05 150.59 L453.57 150.31 L454.09 150.04 L454.62 149.78 L455.14 149.51 L455.67 149.25 L456.19 148.98 L456.72 148.72 L457.24 148.47 L457.76 148.21 L458.29 147.95 L458.81 147.70 L459.34 147.44 L459.86 147.19 L460.38 146.94 L460.91 146.69 L461.43 146.44 L461.96 146.19 L462.48 145.94 L463.01 145.70 L463.53 145.45 L464.05 145.20 L464.58 144.96 L465.10 144.71 L465.63 144.47 L466.15 144.22 L466.68 143.98 L467.20 143.73 L467.72 143.49 L468.25 143.24 L468.77 142.99 L469.30 142.75 L469.82 142.50 L470.35 142.25 L470.87 142.00 L471.39 141.75 L471.92 141.50 L472.44 141.25 L472.97 141.00 L473.49 140.75 L474.02 140.49 L474.54 140.23 L475.06 139.98 L475.59 139.72 L476.11 139.46 L476.64 139.19 L477.16 138.93 L477.69 138.66 L478.21 138.40 L478.73 138.13 L479.26 137.85 L479.78 137.58 L480.31 137.30 L480.83 137.02 L481.35 136.74 L481.88 136.45 L482.40 136.17 L482.93 135.88 L483.45 135.58 L483.98 135.29 L484.50 134.99 L485.02 134.69 L485.55 134.38 L486.07 134.07 L486.60 133.76 L487.12 133.44 L487.65 133.12 L488.17 132.80 L488.69 132.48 L489.22 132.15 L489.74 131.81 L490.27 131.48 L490.79 131.14 L491.32 130.80 L491.84 130.46 L492.36 130.12 L492.89 129.77 L493.41 129.42 L493.94 129.07 L494.46 128.72 L494.99 128.37 L495.51 128.01 L496.03 127.66 L496.56 127.30 L497.08 126.94 L497.61 126.59 L498.13 126.23 L498.66 125.87 L499.18 125.51 L499.70 125.15 L500.23 124.79 L500.75 124.43 L501.28 124.07 L501.80 123.71 L502.32 123.36 L502.85 123.00 L503.37 122.64 L503.90 122.29 L504.42 121.93 L504.95 121.58 L505.47 121.23 L505.99 120.88 L506.52 120.53 L507.04 120.19 L507.57 119.84 L508.09 119.50 L508.62 119.16 L509.14 118.82 L509.66 118.49 L510.19 118.15 L510.71 117.81 L511.24 117.48 L511.76 117.14 L512.29 116.80 L512.81 116.47 L513.33 116.13 L513.86 115.79 L514.38 115.46 L514.91 115.12 L515.43 114.77 L515.96 114.43 L516.48 114.09 L517.00 113.74 L517.53 113.39 L518.05 113.04 L518.58 112.68 L519.10 112.33 L519.63 111.96 L520.15 111.60 L520.67 111.23 L521.20 110.86 L521.72 110.48 L522.25 110.10 L522.77 109.72 L523.29 109.33 L523.82 108.93 L524.34 108.53 L524.87 108.12 L525.39 107.71 L525.92 107.29 L526.44 106.87 L526.96 106.44 L527.49 106.00 L528.01 105.55 L528.54 105.11 L529.06 104.65 L529.59 104.19 L530.11 103.73 L530.63 103.26 L531.16 102.80 L531.68 102.32 L532.21 101.85 L532.73 101.38 L533.26 100.91 L533.78 100.43 L534.30 99.96 L534.83 99.49 L535.35 99.02 L535.88 98.55 L536.40 98.08 L536.93 97.62 L537.45 97.16 L537.97 96.71 L538.50 96.26 L539.02 95.82 L539.55 95.38 L540.07 94.95 L540.60 94.53 L541.12 94.12 L541.64 93.71 L542.17 93.31 L542.69 92.92 L543.22 92.54 L543.74 92.16 L544.26 91.80 L544.79 91.44 L545.31 91.09 L545.84 90.75 L546.36 90.42 L546.89 90.10 L547.41 89.79 L547.93 89.49 L548.46 89.20 L548.98 88.91 L549.51 88.63 L550.03 88.37 L550.56 88.10 L551.08 87.85 L551.60 87.60 L552.13 87.35 L552.65 87.11 L553.18 86.88 L553.70 86.65 L554.23 86.42 L554.75 86.20 L555.27 85.98 L555.80 85.76 L556.32 85.54 L556.85 85.32 L557.37 85.11 L557.90 84.89 L558.42 84.68 L558.94 84.46 L559.47 84.25 L559.99 84.04 L560.52 83.83 L561.04 83.62 L561.57 83.42 L562.09 83.21 L562.61 83.01 L563.14 82.82 L563.66 82.63 L564.19 82.45 L564.71 82.27 L565.24 82.09 L565.76 81.93 L566.28 81.77 L566.81 81.62 L567.33 81.47 L567.86 81.34 L568.38 81.21 L568.90 81.09 L569.43 80.97 L569.95 80.86 L570.48 80.76 L571.00 80.67 L571.53 80.58 L572.05 80.49 L572.57 80.41 L573.10 80.33 L573.62 80.26 L574.15 80.19 L574.67 80.13 L575.20 80.07 L575.72 80.01 L576.24 79.95 L576.77 79.90 L577.29 79.85 L577.82 79.80 L578.34 79.75 L578.87 79.71 L579.39 79.67 L579.91 79.64 L580.44 79.60 L580.96 79.57 L581.49 79.55 L582.01 79.53 L582.54 79.51 L583.06 79.50 L583.58 79.49 L584.11 79.49 L584.63 79.49 L585.16 79.49 L585.68 79.50 L586.21 79.51 L586.73 79.53 L587.25 79.55 L587.78 79.58 L588.30 79.60 L588.83 79.64 L589.35 79.67 L589.87 79.71 L590.40 79.75 L590.92 79.79 L591.45 79.84 L591.97 79.89 L592.50 79.94 L593.02 80.00 L593.54 80.11 L594.07 80.26 L594.59 80.40 L595.12 80.55 L595.64 80.70 L596.17 80.85 L596.69 80.99 L597.21 81.14 L597.74 81.25 L598.26 81.11 L598.79 80.96 L599.31 80.82 L599.84 80.51 L600.36 79.85 L600.88 79.19 L601.41 78.26 L601.93 76.97 L602.46 75.69 L602.98 74.04 L603.51 72.13 L604.03 70.21 L604.55 67.98 L605.08 65.62 L605.60 63.25 L606.13 60.28 L606.65 57.42 L607.17 55.89 L607.70 57.42 L608.22 60.28 L608.75 63.25 L609.27 65.62 L609.80 67.98 L610.32 70.21 L610.84 72.13 L611.37 74.04 L611.89 75.69 L612.42 76.97 L612.94 78.26 L613.47 79.19 L613.99 79.85 L614.51 80.51 L615.04 80.82 L615.56 80.96 L616.09 81.11 L616.61 81.25 L617.14 81.14 L617.66 80.99 L618.18 80.85 L618.71 80.70 L619.23 80.55 L619.76 80.40 L620.28 80.26 L620.81 80.11 L621.33 80.00 L621.85 79.94 L622.38 79.89 L622.90 79.84 L623.43 79.79 L623.95 79.75 L624.48 79.71 L625.00 79.67 L625.52 79.64 L626.05 79.60 L626.57 79.58 L627.10 79.55 L627.62 79.53 L628.14 79.51 L628.67 79.50 L629.19 79.49 L629.72 79.49 L630.24 79.49 L630.77 79.49 L631.29 79.50 L631.81 79.51 L632.34 79.53 L632.86 79.55 L633.39 79.57 L633.91 79.60 L634.44 79.64 L634.96 79.67 L635.48 79.71 L636.01 79.75 L636.53 79.80 L637.06 79.85 L637.58 79.90 L638.11 79.95 L638.63 80.01 L639.15 80.07 L639.68 80.13 L640.20 80.19 L640.73 80.26 L641.25 80.33 L641.78 80.41 L642.30 80.49 L642.82 80.58 L643.35 80.67 L643.87 80.76 L644.40 80.86 L644.92 80.97 L645.45 81.09 L645.97 81.21 L646.49 81.34 L647.02 81.47 L647.54 81.62 L648.07 81.77 L648.59 81.93 L649.12 82.09 L649.64 82.27 L650.16 82.45 L650.69 82.63 L651.21 82.82 L651.74 83.01 L652.26 83.21 L652.78 83.42 L653.31 83.62 L653.83 83.83 L654.36 84.04 L654.88 84.25 L655.41 84.46 L655.93 84.68 L656.45 84.89 L656.98 85.11 L657.50 85.32 L658.03 85.54 L658.55 85.76 L659.08 85.98 L659.60 86.20 L660.12 86.42 L660.65 86.65 L661.17 86.88 L661.70 87.11 L662.22 87.35 L662.75 87.60 L663.27 87.85 L663.79 88.10 L664.32 88.37 L664.84 88.63 L665.37 88.91 L665.89 89.20 L666.42 89.49 L666.94 89.79 L667.46 90.10 L667.99 90.42 L668.51 90.75 L669.04 91.09 L669.56 91.44 L670.09 91.80 L670.61 92.16 L671.13 92.54 L671.66 92.92 L672.18 93.31 L672.71 93.71 L673.23 94.12 L673.75 94.53 L674.28 94.95 L674.80 95.38 L675.33 95.82 L675.85 96.26 L676.38 96.71 L676.90 97.16 L677.42 97.62 L677.95 98.08 L678.47 98.55 L679.00 99.02 L679.52 99.49 L680.05 99.96 L680.57 100.43 L681.09 100.91 L681.62 101.38 L682.14 101.85 L682.67 102.32 L683.19 102.80 L683.72 103.26 L684.24 103.73 L684.76 104.19 L685.29 104.65 L685.81 105.11 L686.34 105.55 L686.86 106.00 L687.39 106.44 L687.91 106.87 L688.43 107.29 L688.96 107.71 L689.48 108.12 L690.01 108.53 L690.53 108.93 L691.06 109.33 L691.58 109.72 L692.10 110.10 L692.63 110.48 L693.15 110.86 L693.68 111.23 L694.20 111.60 L694.72 111.96 L695.25 112.33 L695.77 112.68 L696.30 113.04 L696.82 113.39 L697.35 113.74 L697.87 114.09 L698.39 114.43 L698.92 114.77 L699.44 115.12 L699.97 115.46 L700.49 115.79 L701.02 116.13 L701.54 116.47 L702.06 116.80 L702.59 117.14 L703.11 117.48 L703.64 117.81 L704.16 118.15 L704.69 118.49 L705.21 118.82 L705.73 119.16 L706.26 119.50 L706.78 119.84 L707.31 120.19 L707.83 120.53 L708.36 120.88 L708.88 121.23 L709.40 121.58 L709.93 121.93 L710.45 122.29 L710.98 122.64 L711.50 123.00 L712.03 123.36 L712.55 123.71 L713.07 124.07 L713.60 124.43 L714.12 124.79 L714.65 125.15 L715.17 125.51 L715.69 125.87 L716.22 126.23 L716.74 126.59 L717.27 126.94 L717.79 127.30 L718.32 127.66 L718.84 128.01 L719.36 128.37 L719.89 128.72 L720.41 129.07 L720.94 129.42 L721.46 129.77 L721.99 130.12 L722.51 130.46 L723.03 130.80 L723.56 131.14 L724.08 131.48 L724.61 131.81 L725.13 132.15 L725.66 132.48 L726.18 132.80 L726.70 133.12 L727.23 133.44 L727.75 133.76 L728.28 134.07 L728.80 134.38 L729.33 134.69 L729.85 134.99 L730.37 135.29 L730.90 135.58 L731.42 135.88 L731.95 136.17 L732.47 136.45 L733.00 136.74 L733.52 137.02 L734.04 137.30 L734.57 137.58 L735.09 137.85 L735.62 138.13 L736.14 138.40 L736.66 138.66 L737.19 138.93 L737.71 139.19 L738.24 139.46 L738.76 139.72 L739.29 139.98 L739.81 140.23 L740.33 140.49 L740.86 140.75 L741.38 141.00 L741.91 141.25 L742.43 141.50 L742.96 141.75 L743.48 142.00 L744.00 142.25 L744.53 142.50 L745.05 142.75 L745.58 142.99 L746.10 143.24 L746.63 143.49 L747.15 143.73 L747.67 143.98 L748.20 144.22 L748.72 144.47 L749.25 144.71 L749.77 144.96 L750.30 145.20 L750.82 145.45 L751.34 145.70 L751.87 145.94 L752.39 146.19 L752.92 146.44 L753.44 146.69 L753.97 146.94 L754.49 147.19 L755.01 147.44 L755.54 147.70 L756.06 147.95 L756.59 148.21 L757.11 148.47 L757.63 148.72 L758.16 148.98 L758.68 149.25 L759.21 149.51 L759.73 149.78 L760.26 150.04 L760.78 150.31 L761.30 150.59 L761.83 150.86 L762.35 151.14 L762.88 151.42 L763.40 151.70 L763.93 151.98 L764.45 152.27" stroke="#b4ffff" stroke-width="2.1"/>
<path d="M449.90 152.27 L450.42 151.98 L450.95 151.70 L451.47 151.42 L452.00 151.14 L452.52 150.86 L453.05 150.59 L453.57 150.31 L454.09 150.04 L454.62 149.78 L455.14 149.51 L455.67 149.25 L456.19 148.98 L456.72 148.72 L457.24 148.47 L457.76 148.21 L458.29 147.95 L458.81 147.70 L459.34 147.44 L459.86 147.19 L460.38 146.94 L460.91 146.69 L461.43 146.44 L461.96 146.19 L462.48 145.94 L463.01 145.70 L463.53 145.45 L464.05 145.20 L464.58 144.96 L465.10 144.71 L465.63 144.47 L466.15 144.22 L466.68 143.98 L467.20 143.73 L467.72 143.49 L468.25 143.24 L468.77 142.99 L469.30 142.75 L469.82 142.50 L470.35 142.25 L470.87 142.00 L471.39 141.75 L471.92 141.50 L472.44 141.25 L472.97 141.00 L473.49 140.75 L474.02 140.49 L474.54 140.23 L475.06 139.98 L475.59 139.72 L476.11 139.46 L476.64 139.19 L477.16 138.93 L477.69 138.66 L478.21 138.40 L478.73 138.13 L479.26 137.85 L479.78 137.58 L480.31 137.30 L480.83 137.02 L481.35 136.74 L481.88 136.45 L482.40 136.17 L482.93 135.88 L483.45 135.58 L483.98 135.29 L484.50 134.99 L485.02 134.69 L485.55 134.38 L486.07 134.07 L486.60 133.76 L487.12 133.44 L487.65 133.12 L488.17 132.80 L488.69 132.48 L489.22 132.15 L489.74 131.81 L490.27 131.48 L490.79 131.14 L491.32 130.80 L491.84 130.46 L492.36 130.12 L492.89 129.77 L493.41 129.42 L493.94 129.07 L494.46 128.72 L494.99 128.37 L495.51 128.01 L496.03 127.66 L496.56 127.30 L497.08 126.94 L497.61 126.59 L498.13 126.23 L498.66 125.87 L499.18 125.51 L499.70 125.15 L500.23 124.79 L500.75 124.43 L501.28 124.07 L501.80 123.71 L502.32 123.36 L502.85 123.00 L503.37 122.64 L503.90 122.29 L504.42 121.93 L504.95 121.58 L505.47 121.23 L505.99 120.88 L506.52 120.53 L507.04 120.19 L507.57 119.84 L508.09 119.50 L508.62 119.16 L509.14 118.82 L509.66 118.49 L510.19 118.15 L510.71 117.81 L511.24 117.48 L511.76 117.14 L512.29 116.80 L512.81 116.47 L513.33 116.13 L513.86 115.79 L514.38 115.46 L514.91 115.12 L515.43 114.77 L515.96 114.43 L516.48 114.09 L517.00 113.74 L517.53 113.39 L518.05 113.04 L518.58 112.68 L519.10 112.33 L519.63 111.96 L520.15 111.60 L520.67 111.23 L521.20 110.86 L521.72 110.48 L522.25 110.10 L522.77 109.72 L523.29 109.33 L523.82 108.93 L524.34 108.53 L524.87 108.12 L525.39 107.71 L525.92 107.29 L526.44 106.87 L526.96 106.44 L527.49 106.00 L528.01 105.55 L528.54 105.11 L529.06 104.65 L529.59 104.19 L530.11 103.73 L530.63 103.26 L531.16 102.80 L531.68 102.32 L532.21 101.85 L532.73 101.38 L533.26 100.91 L533.78 100.43 L534.30 99.96 L534.83 99.49 L535.35 99.02 L535.88 98.55 L536.40 98.08 L536.93 97.62 L537.45 97.16 L537.97 96.71 L538.50 96.26 L539.02 95.82 L539.55 95.38 L540.07 94.95 L540.60 94.53 L541.12 94.12 L541.64 93.71 L542.17 93.31 L542.69 92.92 L543.22 92.54 L543.74 92.16 L544.26 91.80 L544.79 91.44 L545.31 91.09 L545.84 90.75 L546.36 90.42 L546.89 90.10 L547.41 89.79 L547.93 89.49 L548.46 89.20 L548.98 88.91 L549.51 88.63 L550.03 88.37 L550.56 88.10 L551.08 87.85 L551.60 87.60 L552.13 87.35 L552.65 87.11 L553.18 86.88 L553.70 86.65 L554.23 86.42 L554.75 86.20 L555.27 85.98 L555.80 85.76 L556.32 85.54 L556.85 85.32 L557.37 85.11 L557.90 84.89 L558.42 84.68 L558.94 84.46 L559.47 84.25 L559.99 84.04 L560.52 83.83 L561.04 83.62 L561.57 83.42 L562.09 83.21 L562.61 83.01 L563.14 82.82 L563.66 82.63 L564.19 82.45 L564.71 82.27 L565.24 82.09 L565.76 81.93 L566.28 81.77 L566.81 81.62 L567.33 81.47 L567.86 81.34 L568.38 81.21 L568.90 81.09 L569.43 80.97 L569.95 80.86 L570.48 80.76 L571.00 80.67 L571.53 80.58 L572.05 80.49 L572.57 80.41 L573.10 80.33 L573.62 80.26 L574.15 80.19 L574.67 80.13 L575.20 80.07 L575.72 80.01 L576.24 79.95 L576.77 79.90 L577.29 79.85 L577.82 79.80 L578.34 79.75 L578.87 79.71 L579.39 79.67 L579.91 79.64 L580.44 79.60 L580.96 79.57 L581.49 79.55 L582.01 79.53 L582.54 79.51 L583.06 79.50 L583.58 79.49 L584.11 79.49 L584.63 79.49 L585.16 79.49 L585.68 79.50 L586.21 79.51 L586.73 79.53 L587.25 79.55 L587.78 79.58 L588.30 79.60 L588.83 79.64 L589.35 79.67 L589.87 79.71 L590.40 79.75 L590.92 79.79 L591.45 79.84 L591.97 79.89 L592.50 79.94 L593.02 80.00 L593.54 80.11 L594.07 80.26 L594.59 80.40 L595.12 80.55 L595.64 80.70 L596.17 80.85 L596.69 80.99 L597.21 81.14 L597.74 81.25 L598.26 81.11 L598.79 80.96 L599.31 80.82 L599.84 80.51 L600.36 79.85 L600.88 79.19 L601.41 78.26 L601.93 76.97 L602.46 75.69 L602.98 74.04 L603.51 72.13 L604.03 70.21 L604.55 67.98 L605.08 65.62 L605.60 63.25 L606.13 60.28 L606.65 57.42 L607.17 55.89 L607.70 57.42 L608.22 60.28 L608.75 63.25 L609.27 65.62 L609.80 67.98 L610.32 70.21 L610.84 72.13 L611.37 74.04 L611.89 75.69 L612.42 76.97 L612.94 78.26 L613.47 79.19 L613.99 79.85 L614.51 80.51 L615.04 80.82 L615.56 80.96 L616.09 81.11 L616.61 81.25 L617.14 81.14 L617.66 80.99 L618.18 80.85 L618.71 80.70 L619.23 80.55 L619.76 80.40 L620.28 80.26 L620.81 80.11 L621.33 80.00 L621.85 79.94 L622.38 79.89 L622.90 79.84 L623.43 79.79 L623.95 79.75 L624.48 79.71 L625.00 79.67 L625.52 79.64 L626.05 79.60 L626.57 79.58 L627.10 79.55 L627.62 79.53 L628.14 79.51 L628.67 79.50 L629.19 79.49 L629.72 79.49 L630.24 79.49 L630.77 79.49 L631.29 79.50 L631.81 79.51 L632.34 79.53 L632.86 79.55 L633.39 79.57 L633.91 79.60 L634.44 79.64 L634.96 79.67 L635.48 79.71 L636.01 79.75 L636.53 79.80 L637.06 79.85 L637.58 79.90 L638.11 79.95 L638.63 80.01 L639.15 80.07 L639.68 80.13 L640.20 80.19 L640.73 80.26 L641.25 80.33 L641.78 80.41 L642.30 80.49 L642.82 80.58 L643.35 80.67 L643.87 80.76 L644.40 80.86 L644.92 80.97 L645.45 81.09 L645.97 81.21 L646.49 81.34 L647.02 81.47 L647.54 81.62 L648.07 81.77 L648.59 81.93 L649.12 82.09 L649.64 82.27 L650.16 82.45 L650.69 82.63 L651.21 82.82 L651.74 83.01 L652.26 83.21 L652.78 83.42 L653.31 83.62 L653.83 83.83 L654.36 84.04 L654.88 84.25 L655.41 84.46 L655.93 84.68 L656.45 84.89 L656.98 85.11 L657.50 85.32 L658.03 85.54 L658.55 85.76 L659.08 85.98 L659.60 86.20 L660.12 86.42 L660.65 86.65 L661.17 86.88 L661.70 87.11 L662.22 87.35 L662.75 87.60 L663.27 87.85 L663.79 88.10 L664.32 88.37 L664.84 88.63 L665.37 88.91 L665.89 89.20 L666.42 89.49 L666.94 89.79 L667.46 90.10 L667.99 90.42 L668.51 90.75 L669.04 91.09 L669.56 91.44 L670.09 91.80 L670.61 92.16 L671.13 92.54 L671.66 92.92 L672.18 93.31 L672.71 93.71 L673.23 94.12 L673.75 94.53 L674.28 94.95 L674.80 95.38 L675.33 95.82 L675.85 96.26 L676.38 96.71 L676.90 97.16 L677.42 97.62 L677.95 98.08 L678.47 98.55 L679.00 99.02 L679.52 99.49 L680.05 99.96 L680.57 100.43 L681.09 100.91 L681.62 101.38 L682.14 101.85 L682.67 102.32 L683.19 102.80 L683.72 103.26 L684.24 103.73 L684.76 104.19 L685.29 104.65 L685.81 105.11 L686.34 105.55 L686.86 106.00 L687.39 106.44 L687.91 106.87 L688.43 107.29 L688.96 107.71 L689.48 108.12 L690.01 108.53 L690.53 108.93 L691.06 109.33 L691.58 109.72 L692.10 110.10 L692.63 110.48 L693.15 110.86 L693.68 111.23 L694.20 111.60 L694.72 111.96 L695.25 112.33 L695.77 112.68 L696.30 113.04 L696.82 113.39 L697.35 113.74 L697.87 114.09 L698.39 114.43 L698.92 114.77 L699.44 115.12 L699.97 115.46 L700.49 115.79 L701.02 116.13 L701.54 116.47 L702.06 116.80 L702.59 117.14 L703.11 117.48 L703.64 117.81 L704.16 118.15 L704.69 118.49 L705.21 118.82 L705.73 119.16 L706.26 119.50 L706.78 119.84 L707.31 120.19 L707.83 120.53 L708.36 120.88 L708.88 121.23 L709.40 121.58 L709.93 121.93 L710.45 122.29 L710.98 122.64 L711.50 123.00 L712.03 123.36 L712.55 123.71 L713.07 124.07 L713.60 124.43 L714.12 124.79 L714.65 125.15 L715.17 125.51 L715.69 125.87 L716.22 126.23 L716.74 126.59 L717.27 126.94 L717.79 127.30 L718.32 127.66 L718.84 128.01 L719.36 128.37 L719.89 128.72 L720.41 129.07 L720.94 129.42 L721.46 129.77 L721.99 130.12 L722.51 130.46 L723.03 130.80 L723.56 131.14 L724.08 131.48 L724.61 131.81 L725.13 132.15 L725.66 132.48 L726.18 132.80 L726.70 133.12 L727.23 133.44 L727.75 133.76 L728.28 134.07 L728.80 134.38 L729.33 134.69 L729.85 134.99 L730.37 135.29 L730.90 135.58 L731.42 135.88 L731.95 136.17 L732.47 136.45 L733.00 136.74 L733.52 137.02 L734.04 137.30 L734.57 137.58 L735.09 137.85 L735.62 138.13 L736.14 138.40 L736.66 138.66 L737.19 138.93 L737.71 139.19 L738.24 139.46 L738.76 139.72 L739.29 139.98 L739.81 140.23 L740.33 140.49 L740.86 140.75 L741.38 141.00 L741.91 141.25 L742.43 141.50 L742.96 141.75 L743.48 142.00 L744.00 142.25 L744.53 142.50 L745.05 142.75 L745.58 142.99 L746.10 143.24 L746.63 143.49 L747.15 143.73 L747.67 143.98 L748.20 144.22 L748.72 144.47 L749.25 144.71 L749.77 144.96 L750.30 145.20 L750.82 145.45 L751.34 145.70 L751.87 145.94 L752.39 146.19 L752.92 146.44 L753.44 146.69 L753.97 146.94 L754.49 147.19 L755.01 147.44 L755.54 147.70 L756.06 147.95 L756.59 148.21 L757.11 148.47 L757.63 148.72 L758.16 148.98 L758.68 149.25 L759.21 149.51 L759.73 149.78 L760.26 150.04 L760.78 150.31 L761.30 150.59 L761.83 150.86 L762.35 151.14 L762.88 151.42 L763.40 151.70 L763.93 151.98 L764.45 152.27" stroke="#00ffff" stroke-dasharray="3.0 1.05 1.0 1.05"/>
<path d="M449.90 152.27 L450.42 151.98 L450.95 151.70 L451.47 151.42 L452.00 151.14 L452.52 150.86 L453.05 150.59 L453.57 150.32 L454.09 150.05 L454.62 149.78 L455.14 149.51 L455.67 149.25 L456.19 148.99 L456.72 148.73 L457.24 148.47 L457.76 148.21 L458.29 147.95 L458.81 147.70 L459.34 147.45 L459.86 147.19 L460.38 146.94 L460.91 146.69 L461.43 146.44 L461.96 146.19 L462.48 145.95 L463.01 145.70 L463.53 145.45 L464.05 145.21 L464.58 144.96 L465.10 144.71 L465.63 144.47 L466.15 144.22 L466.68 143.98 L467.20 143.73 L467.72 143.49 L468.25 143.24 L468.77 142.99 L469.30 142.75 L469.82 142.50 L470.35 142.25 L470.87 142.00 L471.39 141.75 L471.92 141.50 L472.44 141.25 L472.97 141.00 L473.49 140.74 L474.02 140.49 L474.54 140.23 L475.06 139.98 L475.59 139.72 L476.11 139.45 L476.64 139.19 L477.16 138.93 L477.69 138.66 L478.21 138.39 L478.73 138.12 L479.26 137.85 L479.78 137.58 L480.31 137.30 L480.83 137.02 L481.35 136.74 L481.88 136.45 L482.40 136.16 L482.93 135.87 L483.45 135.58 L483.98 135.29 L484.50 134.99 L485.02 134.68 L485.55 134.38 L486.07 134.07 L486.60 133.76 L487.12 133.44 L487.65 133.12 L488.17 132.80 L488.69 132.48 L489.22 132.15 L489.74 131.82 L490.27 131.48 L490.79 131.14 L491.32 130.81 L491.84 130.46 L492.36 130.12 L492.89 129.77 L493.41 129.43 L493.94 129.08 L494.46 128.73 L494.99 128.37 L495.51 128.02 L496.03 127.66 L496.56 127.31 L497.08 126.95 L497.61 126.59 L498.13 126.23 L498.66 125.88 L499.18 125.52 L499.70 125.16 L500.23 124.80 L500.75 124.44 L501.28 124.08 L501.80 123.72 L502.32 123.36 L502.85 123.00 L503.37 122.65 L503.90 122.29 L504.42 121.94 L504.95 121.59 L505.47 121.23 L505.99 120.88 L506.52 120.53 L507.04 120.19 L507.57 119.84 L508.09 119.50 L508.62 119.16 L509.14 118.82 L509.66 118.48 L510.19 118.14 L510.71 117.80 L511.24 117.46 L511.76 117.13 L512.29 116.79 L512.81 116.45 L513.33 116.11 L513.86 115.77 L514.38 115.43 L514.91 115.09 L515.43 114.74 L515.96 114.40 L516.48 114.05 L517.00 113.70 L517.53 113.35 L518.05 113.00 L518.58 112.64 L519.10 112.28 L519.63 111.91 L520.15 111.55 L520.67 111.17 L521.20 110.80 L521.72 110.42 L522.25 110.03 L522.77 109.65 L523.29 109.25 L523.82 108.85 L524.34 108.45 L524.87 108.04 L525.39 107.62 L525.92 107.20 L526.44 106.77 L526.96 106.34 L527.49 105.89 L528.01 105.45 L528.54 104.99 L529.06 104.53 L529.59 104.07 L530.11 103.60 L530.63 103.13 L531.16 102.66 L531.68 102.18 L532.21 101.70 L532.73 101.22 L533.26 100.73 L533.78 100.25 L534.30 99.76 L534.83 99.28 L535.35 98.80 L535.88 98.31 L536.40 97.83 L536.93 97.35 L537.45 96.88 L537.97 96.40 L538.50 95.93 L539.02 95.47 L539.55 95.00 L540.07 94.55 L540.60 94.09 L541.12 93.65 L541.64 93.21 L542.17 92.77 L542.69 92.34 L543.22 91.92 L543.74 91.50 L544.26 91.09 L544.79 90.68 L545.31 90.28 L545.84 89.88 L546.36 89.49 L546.89 89.10 L547.41 88.73 L547.93 88.35 L548.46 87.99 L548.98 87.62 L549.51 87.27 L550.03 86.91 L550.56 86.57 L551.08 86.22 L551.60 85.89 L552.13 85.55 L552.65 85.22 L553.18 84.90 L553.70 84.57 L554.23 84.25 L554.75 83.94 L555.27 83.62 L555.80 83.31 L556.32 83.01 L556.85 82.70 L557.37 82.40 L557.90 82.10 L558.42 81.80 L558.94 81.50 L559.47 81.21 L559.99 80.92 L560.52 80.63 L561.04 80.35 L561.57 80.06 L562.09 79.79 L562.61 79.52 L563.14 79.25 L563.66 78.99 L564.19 78.73 L564.71 78.48 L565.24 78.23 L565.76 77.99 L566.28 77.76 L566.81 77.53 L567.33 77.31 L567.86 77.10 L568.38 76.90 L568.90 76.70 L569.43 76.51 L569.95 76.32 L570.48 76.14 L571.00 75.97 L571.53 75.80 L572.05 75.64 L572.57 75.48 L573.10 75.33 L573.62 75.18 L574.15 75.04 L574.67 74.90 L575.20 74.77 L575.72 74.64 L576.24 74.51 L576.77 74.39 L577.29 74.27 L577.82 74.15 L578.34 74.04 L578.87 73.94 L579.39 73.84 L579.91 73.74 L580.44 73.65 L580.96 73.57 L581.49 73.50 L582.01 73.43 L582.54 73.37 L583.06 73.31 L583.58 73.27 L584.11 73.23 L584.63 73.20 L585.16 73.18 L585.68 73.17 L586.21 73.16 L586.73 73.17 L587.25 73.18 L587.78 73.20 L588.30 73.22 L588.83 73.25 L589.35 73.28 L589.87 73.32 L590.40 73.36 L590.92 73.40 L591.45 73.44 L591.97 73.49 L592.50 73.54 L593.02 73.59 L593.54 73.71 L594.07 73.86 L594.59 74.02 L595.12 74.17 L595.64 74.32 L596.17 74.48 L596.69 74.63 L597.21 74.78 L597.74 74.89 L598.26 74.71 L598.79 74.53 L599.31 74.35 L599.84 73.99 L600.36 73.22 L600.88 72.45 L601.41 71.36 L601.93 69.88 L602.46 68.39 L602.98 66.49 L603.51 64.29 L604.03 62.08 L604.55 59.51 L605.08 56.79 L605.60 54.07 L606.13 50.64 L606.65 47.36 L607.17 45.59 L607.70 47.36 L608.22 50.64 L608.75 54.07 L609.27 56.79 L609.80 59.51 L610.32 62.08 L610.84 64.29 L611.37 66.49 L611.89 68.39 L612.42 69.88 L612.94 71.36 L613.47 72.45 L613.99 73.22 L614.51 73.99 L615.04 74.35 L615.56 74.53 L616.09 74.71 L616.61 74.89 L617.14 74.78 L617.66 74.63 L618.18 74.48 L618.71 74.32 L619.23 74.17 L619.76 74.02 L620.28 73.86 L620.81 73.71 L621.33 73.59 L621.85 73.54 L622.38 73.49 L622.90 73.44 L623.43 73.40 L623.95 73.36 L624.48 73.32 L625.00 73.28 L625.52 73.25 L626.05 73.22 L626.57 73.20 L627.10 73.18 L627.62 73.17 L628.14 73.16 L628.67 73.17 L629.19 73.18 L629.72 73.20 L630.24 73.23 L630.77 73.27 L631.29 73.31 L631.81 73.37 L632.34 73.43 L632.86 73.50 L633.39 73.57 L633.91 73.65 L634.44 73.74 L634.96 73.84 L635.48 73.94 L636.01 74.04 L636.53 74.15 L637.06 74.27 L637.58 74.39 L638.11 74.51 L638.63 74.64 L639.15 74.77 L639.68 74.90 L640.20 75.04 L640.73 75.18 L641.25 75.33 L641.78 75.48 L642.30 75.64 L642.82 75.80 L643.35 75.97 L643.87 76.14 L644.40 76.32 L644.92 76.51 L645.45 76.70 L645.97 76.90 L646.49 77.10 L647.02 77.31 L647.54 77.53 L648.07 77.76 L648.59 77.99 L649.12 78.23 L649.64 78.48 L650.16 78.73 L650.69 78.99 L651.21 79.25 L651.74 79.52 L652.26 79.79 L652.78 80.06 L653.31 80.35 L653.83 80.63 L654.36 80.92 L654.88 81.21 L655.41 81.50 L655.93 81.80 L656.45 82.10 L656.98 82.40 L657.50 82.70 L658.03 83.01 L658.55 83.31 L659.08 83.62 L659.60 83.94 L660.12 84.25 L660.65 84.57 L661.17 84.90 L661.70 85.22 L662.22 85.55 L662.75 85.89 L663.27 86.22 L663.79 86.57 L664.32 86.91 L664.84 87.27 L665.37 87.62 L665.89 87.99 L666.42 88.35 L666.94 88.73 L667.46 89.10 L667.99 89.49 L668.51 89.88 L669.04 90.28 L669.56 90.68 L670.09 91.09 L670.61 91.50 L671.13 91.92 L671.66 92.34 L672.18 92.77 L672.71 93.21 L673.23 93.65 L673.75 94.09 L674.28 94.55 L674.80 95.00 L675.33 95.47 L675.85 95.93 L676.38 96.40 L676.90 96.88 L677.42 97.35 L677.95 97.83 L678.47 98.31 L679.00 98.80 L679.52 99.28 L680.05 99.76 L680.57 100.25 L681.09 100.73 L681.62 101.22 L682.14 101.70 L682.67 102.18 L683.19 102.66 L683.72 103.13 L684.24 103.60 L684.76 104.07 L685.29 104.53 L685.81 104.99 L686.34 105.45 L686.86 105.89 L687.39 106.34 L687.91 106.77 L688.43 107.20 L688.96 107.62 L689.48 108.04 L690.01 108.45 L690.53 108.85 L691.06 109.25 L691.58 109.65 L692.10 110.03 L692.63 110.42 L693.15 110.80 L693.68 111.17 L694.20 111.55 L694.72 111.91 L695.25 112.28 L695.77 112.64 L696.30 113.00 L696.82 113.35 L697.35 113.70 L697.87 114.05 L698.39 114.40 L698.92 114.74 L699.44 115.09 L699.97 115.43 L700.49 115.77 L701.02 116.11 L701.54 116.45 L702.06 116.79 L702.59 117.13 L703.11 117.46 L703.64 117.80 L704.16 118.14 L704.69 118.48 L705.21 118.82 L705.73 119.16 L706.26 119.50 L706.78 119.84 L707.31 120.19 L707.83 120.53 L708.36 120.88 L708.88 121.23 L709.40 121.59 L709.93 121.94 L710.45 122.29 L710.98 122.65 L711.50 123.00 L712.03 123.36 L712.55 123.72 L713.07 124.08 L713.60 124.44 L714.12 124.80 L714.65 125.16 L715.17 125.52 L715.69 125.88 L716.22 126.23 L716.74 126.59 L717.27 126.95 L717.79 127.31 L718.32 127.66 L718.84 128.02 L719.36 128.37 L719.89 128.73 L720.41 129.08 L720.94 129.43 L721.46 129.77 L721.99 130.12 L722.51 130.46 L723.03 130.81 L723.56 131.14 L724.08 131.48 L724.61 131.82 L725.13 132.15 L725.66 132.48 L726.18 132.80 L726.70 133.12 L727.23 133.44 L727.75 133.76 L728.28 134.07 L728.80 134.38 L729.33 134.68 L729.85 134.99 L730.37 135.29 L730.90 135.58 L731.42 135.87 L731.95 136.16 L732.47 136.45 L733.00 136.74 L733.52 137.02 L734.04 137.30 L734.57 137.58 L735.09 137.85 L735.62 138.12 L736.14 138.39 L736.66 138.66 L737.19 138.93 L737.71 139.19 L738.24 139.45 L738.76 139.72 L739.29 139.98 L739.81 140.23 L740.33 140.49 L740.86 140.74 L741.38 141.00 L741.91 141.25 L742.43 141.50 L742.96 141.75 L743.48 142.00 L744.00 142.25 L744.53 142.50 L745.05 142.75 L745.58 142.99 L746.10 143.24 L746.63 143.49 L747.15 143.73 L747.67 143.98 L748.20 144.22 L748.72 144.47 L749.25 144.71 L749.77 144.96 L750.30 145.21 L750.82 145.45 L751.34 145.70 L751.87 145.95 L752.39 146.19 L752.92 146.44 L753.44 146.69 L753.97 146.94 L754.49 147.19 L755.01 147.45 L755.54 147.70 L756.06 147.95 L756.59 148.21 L757.11 148.47 L757.63 148.73 L758.16 148.99 L758.68 149.25 L759.21 149.51 L759.73 149.78 L760.26 150.05 L760.78 150.32 L761.30 150.59 L761.83 150.86 L762.35 151.14 L762.88 151.42 L763.40 151.70 L763.93 151.98 L764.45 152.27" stroke="#000000" stroke-dasharray="1.3 0.8 1.3 3.15"/>
</g>
<path d="M449.90 203.66h1.80 M764.45 203.66h-1.80 M449.90 184.45h1.80 M764.45 184.45h-1.80 M449.90 170.82h1.80 M764.45 170.82h-1.80 M449.90 160.24h1.80 M764.45 160.24h-1.80 M449.90 151.60h1.80 M764.45 151.60h-1.80 M449.90 144.30h1.80 M764.45 144.30h-1.80 M449.90 137.97h1.80 M764.45 137.97h-1.80 M449.90 132.39h1.80 M764.45 132.39h-1.80 M449.90 127.40h3.70 M764.45 127.40h-3.70 M449.90 94.56h1.80 M764.45 94.56h-1.80 M449.90 75.35h1.80 M764.45 75.35h-1.80 M449.90 61.72h1.80 M764.45 61.72h-1.80 M449.90 51.14h1.80 M764.45 51.14h-1.80 M449.90 42.50h1.80 M764.45 42.50h-1.80 M449.90 35.20h1.80 M764.45 35.20h-1.80 M449.90 28.87h1.80 M764.45 28.87h-1.80 M449.90 23.29h1.80 M764.45 23.29h-1.80 M502.32 236.30v-3.7 M502.32 18.10v3.7 M554.75 236.30v-3.7 M554.75 18.10v3.7 M607.17 236.30v-3.7 M607.17 18.10v3.7 M659.60 236.30v-3.7 M659.60 18.10v3.7 M712.03 236.30v-3.7 M712.03 18.10v3.7" stroke="#000" stroke-width="1" fill="none"/>
<path d="M449.90 236.30V18.10H764.45" fill="none" stroke="#000" stroke-width="0.95" stroke-linecap="square"/>
<path d="M449.90 236.30H764.45V18.10" fill="none" stroke="#000" stroke-width="1.15" stroke-linecap="square"/>
<path d="M520.70 168.00H552.80" stroke="#ff0000" stroke-width="2.4" fill="none"/>
<path d="M520.70 179.88H552.80" stroke="#00ff00" stroke-width="2.4" fill="none" stroke-dasharray="1.9 1.35"/>
<path d="M520.70 191.76H552.80" stroke="#0000ff" stroke-width="2.4" fill="none" stroke-dasharray="1.1 1.4"/>
<path d="M520.70 203.64H552.80" stroke="#ff80ff" stroke-width="2.1" fill="none"/>
<path d="M520.70 203.64H552.80" stroke="#ff40ff" stroke-width="2.4" fill="none" stroke-dasharray="2.3 1.65"/>
<path d="M520.70 215.52H552.80" stroke="#b4ffff" stroke-width="2.1" fill="none"/>
<path d="M520.70 215.52H552.80" stroke="#00ffff" stroke-width="2.4" fill="none" stroke-dasharray="3.0 1.05 1.0 1.05"/>
<path d="M520.70 227.40H552.80" stroke="#000000" stroke-width="2.4" fill="none" stroke-dasharray="1.3 0.8 1.3 3.15"/>
<text id="t1" x="53.10" y="251.60" font-size="12.1" class="t" text-anchor="middle" letter-spacing="0.1">-0.6</text>
<text id="t2" x="105.52" y="251.60" font-size="12.1" class="t" text-anchor="middle" letter-spacing="0.1">-0.4</text>
<text id="t3" x="157.93" y="251.60" font-size="12.1" class="t" text-anchor="middle" letter-spacing="0.1">-0.2</text>
<text id="t4" x="212.25" y="251.60" font-size="12.1" class="t" text-anchor="middle" letter-spacing="0.1">0</text>
<text id="t5" x="264.67" y="251.60" font-size="12.1" class="t" text-anchor="middle" letter-spacing="0.1">0.2</text>
<text id="t6" x="317.08" y="251.60" font-size="12.1" class="t" text-anchor="middle" letter-spacing="0.1">0.4</text>
<text id="t7" x="369.50" y="251.60" font-size="12.1" class="t" text-anchor="middle" letter-spacing="0.1">0.6</text>
<text id="t8" x="33.70" y="21.50" font-size="12.1" class="t" text-anchor="end">10</text>
<text id="t9" x="34.10" y="17.70" font-size="11.5" class="t">−</text>
<text id="t10" x="40.70" y="16.70" font-size="8.2" class="t">6</text>
<text id="t11" x="33.70" y="130.62" font-size="12.1" class="t" text-anchor="end">10</text>
<text id="t12" x="34.10" y="126.83" font-size="11.5" class="t">−</text>
<text id="t13" x="40.70" y="125.83" font-size="8.2" class="t">7</text>
<text id="t14" x="33.70" y="239.75" font-size="12.1" class="t" text-anchor="end">10</text>
<text id="t15" x="34.10" y="235.95" font-size="11.5" class="t">−</text>
<text id="t16" x="40.70" y="234.95" font-size="8.2" class="t">8</text>
<text id="t17" x="2.30" y="130.62" font-size="13.4" class="m" textLength="10.2" lengthAdjust="spacingAndGlyphs">ℰ</text>
<text id="t18" x="12.60" y="124.92" font-size="9.5" class="i" textLength="7" lengthAdjust="spacingAndGlyphs">T</text>
<text id="t19" x="10.50" y="134.43" font-size="9.5" class="i">q</text>
<text id="t20" x="203.45" y="268.60" font-size="15" class="i">q</text>
<text id="t21" x="210.45" y="271.20" font-size="13" class="m">∥</text>
<text id="t22" x="329.00" y="54.60" font-size="15.5" class="t"><tspan font-size="17.6">(</tspan><tspan dx="-0.6">a</tspan><tspan font-size="17.6" dx="-0.5">)</tspan></text>
<text id="t23" x="116.90" y="170.90" font-size="14.6" class="t" text-anchor="end">100</text>
<text id="t24" x="77.50" y="171.60" font-size="13.8" class="t" textLength="11.6" lengthAdjust="spacingAndGlyphs">=</text>
<text id="t25" x="64.60" y="170.90" font-size="16.5" class="i j" textLength="7.4" lengthAdjust="spacingAndGlyphs">τ</text>
<text id="t26" x="116.90" y="182.78" font-size="14.6" class="t" text-anchor="end">200</text>
<text id="t27" x="77.50" y="183.48" font-size="13.8" class="t" textLength="11.6" lengthAdjust="spacingAndGlyphs">=</text>
<text id="t28" x="64.60" y="182.78" font-size="16.5" class="i j" textLength="7.4" lengthAdjust="spacingAndGlyphs">τ</text>
<text id="t29" x="116.90" y="194.66" font-size="14.6" class="t" text-anchor="end">500</text>
<text id="t30" x="77.50" y="195.36" font-size="13.8" class="t" textLength="11.6" lengthAdjust="spacingAndGlyphs">=</text>
<text id="t31" x="64.60" y="194.66" font-size="16.5" class="i j" textLength="7.4" lengthAdjust="spacingAndGlyphs">τ</text>
<text id="t32" x="116.90" y="206.54" font-size="14.6" class="t" text-anchor="end">1000</text>
<text id="t33" x="70.20" y="207.24" font-size="13.8" class="t" textLength="11.6" lengthAdjust="spacingAndGlyphs">=</text>
<text id="t34" x="57.30" y="206.54" font-size="16.5" class="i j" textLength="7.4" lengthAdjust="spacingAndGlyphs">τ</text>
<text id="t35" x="116.90" y="218.42" font-size="14.6" class="t" text-anchor="end">1500</text>
<text id="t36" x="70.20" y="219.12" font-size="13.8" class="t" textLength="11.6" lengthAdjust="spacingAndGlyphs">=</text>
<text id="t37" x="57.30" y="218.42" font-size="16.5" class="i j" textLength="7.4" lengthAdjust="spacingAndGlyphs">τ</text>
<text id="t38" x="116.90" y="230.30" font-size="14.6" class="t" text-anchor="end">2000</text>
<text id="t39" x="70.20" y="231.00" font-size="13.8" class="t" textLength="11.6" lengthAdjust="spacingAndGlyphs">=</text>
<text id="t40" x="57.30" y="230.30" font-size="16.5" class="i j" textLength="7.4" lengthAdjust="spacingAndGlyphs">τ</text>
<text id="t41" x="450.00" y="251.60" font-size="12.1" class="t" text-anchor="middle" letter-spacing="0.1">-0.6</text>
<text id="t42" x="502.43" y="251.60" font-size="12.1" class="t" text-anchor="middle" letter-spacing="0.1">-0.4</text>
<text id="t43" x="554.85" y="251.60" font-size="12.1" class="t" text-anchor="middle" letter-spacing="0.1">-0.2</text>
<text id="t44" x="609.17" y="251.60" font-size="12.1" class="t" text-anchor="middle" letter-spacing="0.1">0</text>
<text id="t45" x="661.60" y="251.60" font-size="12.1" class="t" text-anchor="middle" letter-spacing="0.1">0.2</text>
<text id="t46" x="714.03" y="251.60" font-size="12.1" class="t" text-anchor="middle" letter-spacing="0.1">0.4</text>
<text id="t47" x="766.45" y="251.60" font-size="12.1" class="t" text-anchor="middle" letter-spacing="0.1">0.6</text>
<text id="t48" x="430.60" y="21.60" font-size="12.1" class="t" text-anchor="end">10</text>
<text id="t49" x="431.00" y="17.80" font-size="11.5" class="t">−</text>
<text id="t50" x="437.60" y="16.80" font-size="8.2" class="t">6</text>
<text id="t51" x="430.60" y="130.70" font-size="12.1" class="t" text-anchor="end">10</text>
<text id="t52" x="431.00" y="126.90" font-size="11.5" class="t">−</text>
<text id="t53" x="437.60" y="125.90" font-size="8.2" class="t">7</text>
<text id="t54" x="430.60" y="239.80" font-size="12.1" class="t" text-anchor="end">10</text>
<text id="t55" x="431.00" y="236.00" font-size="11.5" class="t">−</text>
<text id="t56" x="437.60" y="235.00" font-size="8.2" class="t">8</text>
<text id="t57" x="399.20" y="130.70" font-size="13.4" class="m" textLength="10.2" lengthAdjust="spacingAndGlyphs">ℰ</text>
<text id="t58" x="409.50" y="125.00" font-size="9.5" class="i" textLength="7" lengthAdjust="spacingAndGlyphs">T</text>
<text id="t59" x="407.40" y="134.50" font-size="9.5" class="i">q</text>
<text id="t60" x="600.38" y="268.60" font-size="15" class="i">q</text>
<text id="t61" x="607.38" y="271.20" font-size="13" class="m">∥</text>
<text id="t62" x="725.90" y="54.60" font-size="15.5" class="t"><tspan font-size="17.6">(</tspan><tspan dx="-0.6">b</tspan><tspan font-size="17.6" dx="-0.5">)</tspan></text>
<text id="t63" x="513.80" y="170.90" font-size="14.6" class="t" text-anchor="end">100</text>
<text id="t64" x="474.40" y="171.60" font-size="13.8" class="t" textLength="11.6" lengthAdjust="spacingAndGlyphs">=</text>
<text id="t65" x="461.50" y="170.90" font-size="16.5" class="i j" textLength="7.4" lengthAdjust="spacingAndGlyphs">τ</text>
<text id="t66" x="513.80" y="182.78" font-size="14.6" class="t" text-anchor="end">200</text>
<text id="t67" x="474.40" y="183.48" font-size="13.8" class="t" textLength="11.6" lengthAdjust="spacingAndGlyphs">=</text>
<text id="t68" x="461.50" y="182.78" font-size="16.5" class="i j" textLength="7.4" lengthAdjust="spacingAndGlyphs">τ</text>
<text id="t69" x="513.80" y="194.66" font-size="14.6" class="t" text-anchor="end">500</text>
<text id="t70" x="474.40" y="195.36" font-size="13.8" class="t" textLength="11.6" lengthAdjust="spacingAndGlyphs">=</text>
<text id="t71" x="461.50" y="194.66" font-size="16.5" class="i j" textLength="7.4" lengthAdjust="spacingAndGlyphs">τ</text>
<text id="t72" x="513.80" y="206.54" font-size="14.6" class="t" text-anchor="end">1000</text>
<text id="t73" x="467.10" y="207.24" font-size="13.8" class="t" textLength="11.6" lengthAdjust="spacingAndGlyphs">=</text>
<text id="t74" x="454.20" y="206.54" font-size="16.5" class="i j" textLength="7.4" lengthAdjust="spacingAndGlyphs">τ</text>
<text id="t75" x="513.80" y="218.42" font-size="14.6" class="t" text-anchor="end">1500</text>
<text id="t76" x="467.10" y="219.12" font-size="13.8" class="t" textLength="11.6" lengthAdjust="spacingAndGlyphs">=</text>
<text id="t77" x="454.20" y="218.42" font-size="16.5" class="i j" textLength="7.4" lengthAdjust="spacingAndGlyphs">τ</text>
<text id="t78" x="513.80" y="230.30" font-size="14.6" class="t" text-anchor="end">2000</text>
<text id="t79" x="467.10" y="231.00" font-size="13.8" class="t" textLength="11.6" lengthAdjust="spacingAndGlyphs">=</text>
<text id="t80" x="454.20" y="230.30" font-size="16.5" class="i j" textLength="7.4" lengthAdjust="spacingAndGlyphs">τ</text>
</svg>
</body></html>
